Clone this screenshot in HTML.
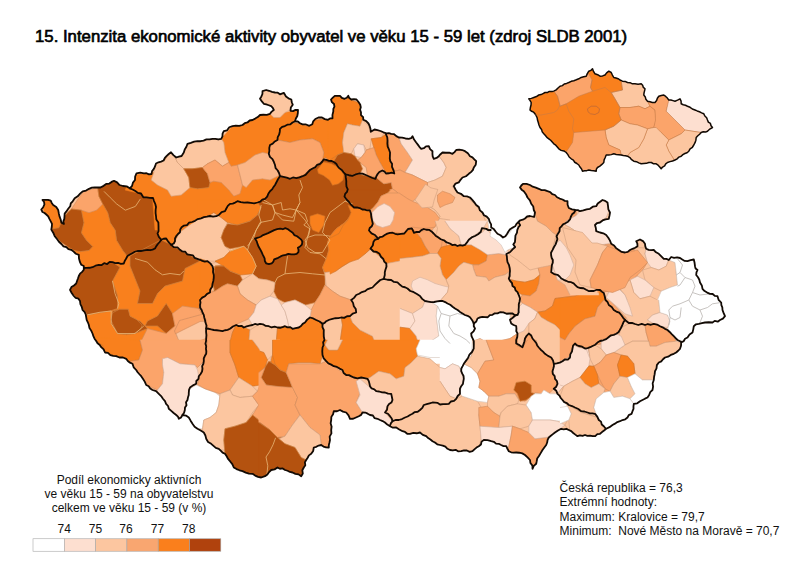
<!DOCTYPE html>
<html><head><meta charset="utf-8">
<style>
html,body{margin:0;padding:0;background:#fff;}
body{width:800px;height:566px;position:relative;overflow:hidden;font-family:"Liberation Sans",sans-serif;color:#000;}
#title{position:absolute;left:35px;top:27.7px;font-size:16.75px;white-space:nowrap;line-height:18px;-webkit-text-stroke:0.65px #000;}
#leg{position:absolute;left:2px;top:472.7px;width:254px;text-align:center;font-size:12px;line-height:14.25px;color:#111;}
#nums{position:absolute;top:522px;left:0;font-size:12px;color:#111;}
#nums span{position:absolute;top:0;width:30px;text-align:center;}
#info{position:absolute;left:559.6px;top:480.8px;font-size:12px;line-height:14.4px;white-space:pre;color:#111;}
svg{position:absolute;left:0;top:0;}
</style></head><body>
<div id="title">15. Intenzita ekonomické aktivity obyvatel ve věku 15 - 59 let (zdroj SLDB 2001)</div>
<svg id="map" width="800" height="566" viewBox="0 0 800 566">
<defs><clipPath id="cz"><path d="M42.5,200 L45.26,199.92 L48.02,199.84 L50.7,200.7 L51.72,202.99 L53.2,205 L56.24,206.96 L58.2,210 L58.79,213.21 L59.5,216.4 L60.68,219.48 L61.4,222.7 L63.9,223.9 L63.31,221.34 L64.31,218.9 L64.5,216.4 L64.67,213.6 L66.4,211.4 L68.2,208.78 L70.2,206.3 L70.76,203.45 L72.7,201.3 L74.68,198.28 L77.7,196.3 L80.1,193.7 L82.7,191.3 L86.07,190.6 L89,188.8 L91.83,187.7 L94.79,187.44 L97.8,187.5 L100.5,187.5 L103.62,185.85 L106.5,183.8 L109.3,183.55 L111.55,181.93 L114,180.8 L117.09,182.37 L119.57,185.01 L123,186 L126.66,186.38 L129.8,188.3 L132.08,185.88 L132.95,182.57 L135,180 L135.13,176.51 L136.5,173.3 L140.25,172.61 L144,173.3 L146.53,173.19 L148.95,174.33 L151.5,174 L152.1,171.15 L153.89,168.81 L155.1,166.22 L156,163.5 L158.45,162.29 L161.1,161.58 L163.6,160.5 L164.87,157.92 L166.71,155.87 L168.76,154 L171,152.3 L173.42,155.13 L176.3,157.5 L178.91,156.62 L181.6,156 L183.8,152.5 L184.73,149.47 L186.41,146.76 L187.5,143.8 L190.81,142.85 L194.08,141.72 L197.5,141.2 L200.58,141.24 L203.56,140.59 L206.43,139.31 L209.52,139.41 L212.5,138.8 L215.4,138.85 L218.3,139.48 L221.2,138.8 L222.46,136.4 L222.57,133.61 L223.8,131.2 L227.13,130.28 L229.26,127.27 L232.5,126.2 L235.82,125.65 L239.22,125.86 L242.5,125 L244.72,123.19 L247.49,122.48 L249.63,120.51 L252.5,120 L255.17,118.59 L257.76,117.06 L260,115 L263.35,114.73 L266.75,114.87 L270,113.8 L271.66,111.66 L273.8,110 L272.79,107.9 L271.2,106.2 L268.79,105.24 L266.31,104.46 L263.8,103.8 L261.84,101.35 L260,98.8 L261.41,96.46 L262.43,93.98 L262.5,91.2 L266.2,90 L269.15,90.79 L271.99,91.95 L275,92.5 L277.77,92.66 L280,94.3 L283.8,92.8 L286,96.5 L288.47,98.32 L291.3,99.5 L291.8,102.22 L292.8,104.8 L290.82,107.48 L290.5,110.8 L293.06,111.11 L295.46,109.88 L298,110 L297.85,113.02 L297.3,116 L295.87,118.53 L295,121.3 L297.82,121.5 L300.03,123.24 L302.5,124.3 L306.03,124.47 L309.3,125.8 L312.3,124.3 L313.2,121.31 L315.3,119 L318.48,117.48 L322,117.5 L324.83,119.1 L328,119.8 L330.04,118.42 L332.5,118.3 L332.45,114.85 L333.3,111.5 L333.34,108.98 L334.43,106.56 L334,104 L331.87,102.17 L331,99.5 L332.84,97.58 L334.8,95.8 L337.4,95.89 L340,95.8 L341.87,97.87 L344.5,98.8 L346.76,97.75 L348.3,95.8 L349.29,98.06 L351.3,99.5 L353.9,99.1 L356.5,99.5 L358.52,102.06 L360.3,104.8 L360.79,107.28 L360.08,109.86 L361,112.3 L360.98,115.04 L363.13,117.12 L363.3,119.8 L366.24,121.18 L368.5,123.5 L369.73,126.14 L370.5,128.91 L370.8,131.8 L374.5,129.5 L377.51,130.22 L380.5,131 L383.44,132.3 L386.5,133.3 L388.9,133.13 L391.2,133.8 L394.12,134.23 L396.33,136.14 L398.8,137.5 L402.16,137.7 L405.45,138.49 L408.8,138.8 L411.12,138.17 L412.5,136.2 L414.05,139.52 L416.2,142.5 L417.84,144.62 L419.37,146.83 L421.2,148.8 L423.84,148.23 L426.01,146.31 L428.8,146.2 L430.07,149.13 L432.5,151.2 L432.44,153.82 L432.7,156.38 L433.8,158.8 L436.55,157.98 L438.8,156.2 L440.51,154.21 L442.5,152.5 L445.86,152.75 L449.26,152.66 L452.5,153.8 L454.52,152.07 L456.2,150 L459.24,149.62 L462.17,150.03 L465,151.2 L467.87,153.33 L470,156.2 L472.45,157.39 L474.31,159.31 L476.2,161.2 L475.75,164.64 L473.8,167.5 L472.84,170.16 L470.96,172.09 L468.8,173.8 L466.01,176.27 L462.5,177.5 L460.5,179.85 L458.75,182.45 L455.5,183.55 L453.8,186.2 L455.47,189.45 L457.5,192.5 L460.97,193.8 L463.8,196.2 L466.99,196.41 L470,197.5 L472.28,199.82 L474.32,202.34 L476.2,205 L478.82,207.06 L479.92,210.4 L482.5,212.5 L483.97,215.23 L486.74,216.66 L488.8,218.8 L489.63,221.69 L491.12,224.4 L491.2,227.5 L493.81,229.09 L495.6,231.5 L497.5,233.8 L500.49,235.3 L503,237.5 L505.39,236.2 L507,234 L508.44,231.46 L510.16,229.16 L512.7,227.6 L515.14,226.31 L516.47,223.9 L518.3,222 L520.24,220.27 L522.8,219.74 L525,218.5 L527.12,216.49 L530,216 L534,217 L534.55,214.76 L535,212.5 L533.8,210 L533.29,206.57 L531.2,203.8 L529.91,200.32 L527.5,197.5 L525.95,194.17 L523.8,191.2 L521.6,189.66 L520,187.5 L521.31,185.5 L523,183.8 L526.6,183.81 L530,185 L532.74,186.72 L535.84,187.59 L538.8,188.8 L541.57,190.08 L544.68,190.1 L547.5,191.2 L550.23,192.02 L552.25,194.23 L555,195 L557.05,197.25 L559.67,198.54 L562.5,199.5 L564.82,200.87 L567.5,201.2 L567.59,204.71 L568.8,208 L572.03,209.41 L575.5,210 L577.88,210.12 L580,211.2 L583.34,210.43 L586.61,209.35 L590,208.8 L592.77,206.72 L596.2,206.2 L597.7,203.53 L600.12,201.78 L602.5,200 L605.19,200.86 L607.5,202.5 L608,205.92 L608.37,209.37 L610,212.5 L609.49,215.67 L608.8,218.8 L605.56,219.31 L602.59,220.46 L600,222.5 L597.13,223.02 L595,225 L595.84,228.05 L596.2,231.2 L600,232.5 L603.29,233.28 L606.2,235 L608.29,237.69 L610.01,240.6 L611.2,243.8 L614.07,245.45 L616.13,248.11 L618.8,250 L621.63,251.92 L625,252.5 L627.77,251.82 L629.98,250 L632.5,248.8 L635.13,247.74 L637.5,246.2 L637.37,243.56 L636.2,241.2 L640,239.5 L642.99,241.08 L645,243.8 L645.32,246.37 L646.2,248.8 L648.62,249.93 L651.19,250.1 L653.8,250 L656.03,252.26 L658.8,253.8 L661.33,256.27 L663.8,258.8 L666.44,258.84 L668.8,260 L671.2,257 L674.07,257.85 L677.1,257.37 L680,258 L682.29,259.56 L684.67,260.91 L687.5,261.2 L690.6,260.17 L693.8,259.5 L694.57,262.82 L695,266.2 L695.58,268.54 L697.5,270 L696.46,272.4 L696.2,275 L698,277.23 L699.33,279.7 L700,282.5 L701.83,285.42 L702.5,288.8 L704.6,291.07 L707.19,292.59 L710,293.8 L712.69,293.99 L714.82,295.96 L717.5,296.2 L718.6,299.79 L721.2,302.5 L721.35,305.05 L722.33,307.45 L722.5,310 L723.67,313.13 L725,316.2 L722.9,318.63 L720,320 L717.78,321.66 L714.73,320.86 L712.5,322.5 L708.75,322.23 L705,322.5 L701.89,323.1 L698.8,323.8 L695.96,324.3 L693.8,326.2 L693.27,329.37 L692.5,332.5 L689.53,334.53 L687.5,337.5 L685.04,338.71 L683.62,341.24 L681.2,342.5 L681.04,345.73 L680,348.8 L678.17,350.76 L676.16,352.5 L673.8,353.8 L670.81,354.89 L668.1,356.67 L665,357.5 L663.02,359.28 L661.28,361.35 L658.8,362.5 L656.86,365.1 L656.51,368.41 L655,371.2 L654.67,374.14 L654.05,377.05 L653.8,380 L652.65,383.24 L653.08,386.69 L652.5,390 L650.21,392.08 L649.16,395 L647.5,397.5 L644.97,398.68 L642.48,399.93 L640,401.2 L637.24,403.3 L633.8,403.8 L633.47,406.29 L633.5,408.83 L632.5,411.2 L631.53,413.86 L628.74,415.07 L627.5,417.5 L625.26,419.26 L622.52,420.01 L620,421.2 L617.32,422.11 L614.95,423.64 L612.5,425 L609.51,427.17 L606.2,428.8 L604.11,430.44 L602,432.06 L600,433.8 L597.34,434.11 L595.22,436.08 L592.5,436.2 L590.02,435.69 L587.43,435.85 L585,435 L582.56,435.8 L579.92,435.32 L577.5,436.2 L575.33,434.64 L573.21,433.01 L571.25,431.17 L568.8,430 L566.38,428.87 L563.72,429.3 L561.2,428.8 L558,430.48 L555,432.5 L552.93,434.16 L550.85,435.82 L548.8,437.5 L547.61,439.89 L547.15,442.53 L546.2,445 L544.3,447.46 L542.5,450 L540.68,453.12 L538.8,456.2 L537.18,458.48 L536.73,461.15 L536.2,463.8 L533.81,465.9 L532.5,468.8 L532.43,465.65 L530.42,463.05 L530,460 L527.58,457.42 L525,455 L522.28,453.4 L519.3,452.74 L516.2,452.5 L513.62,452.71 L511.15,452.3 L508.8,451.2 L507.41,448.75 L506.2,446.2 L503.5,446.13 L501.12,445.04 L498.8,443.8 L496.02,443.66 L493.83,441.78 L491.2,441.2 L487.58,440.1 L483.8,440 L481.58,441.62 L480.95,444.52 L478.8,446.2 L476.46,447.56 L474.42,449.31 L472.5,451.2 L469.68,451.84 L466.85,450.51 L464.02,450.36 L461.2,451.2 L458.35,451.4 L455.69,449.79 L452.78,450.48 L450,450 L447.49,448.77 L445.39,446.71 L442.77,445.71 L440,445 L437.22,444.28 L434.94,442.58 L432.5,441.2 L430.42,439.51 L428.12,438.09 L426.2,436.2 L422.82,434.82 L420,432.5 L416.71,433.26 L413.28,432.97 L410,433.8 L407.22,433.75 L405.03,431.97 L402.5,431.2 L399.3,429.44 L396.2,427.5 L392.92,427.7 L390,426.2 L387.32,424.59 L385,422.5 L382.6,421.07 L380.01,420.01 L377.5,418.8 L374.65,418.23 L372.89,415.49 L370,415 L367.66,413.67 L365.27,412.53 L362.5,412.5 L361.15,414.85 L358.8,416.2 L355.99,417.47 L353.17,418.73 L350,418.8 L348.53,415.39 L346.2,412.5 L342.95,411.63 L340,410 L337.03,411.25 L333.8,411.2 L333.07,414.17 L331.36,416.86 L331.2,420 L330.63,423.33 L331.63,426.67 L331.2,430 L331.43,433.41 L329.65,436.58 L330,440 L329.47,442.48 L328.84,444.94 L328.8,447.5 L326.04,447.37 L323.48,446.59 L321.2,445 L318.62,445.51 L316.31,446.79 L313.8,447.5 L313.21,450.94 L311.2,453.8 L308.92,455.37 L307.68,457.78 L306.2,460 L304.88,462.33 L305.31,465.23 L303.8,467.5 L302.32,470.22 L302.81,473.52 L301.2,476.2 L298.56,474.37 L295.37,473.81 L292.5,472.5 L289.91,471.94 L287.53,470.74 L285,470 L282.74,468.44 L279.87,468.73 L277.5,467.5 L274.6,469.37 L271.2,470 L269.1,472.03 L267.4,474.47 L265,476.2 L261.2,477.5 L258.02,476.91 L255.16,475.59 L252.5,473.8 L248.96,473.72 L245.7,472.59 L242.5,471.2 L239.47,470.28 L236.56,469.06 L233.8,467.5 L232.3,464.11 L230,461.2 L228.02,458.94 L226.67,456.27 L225,453.8 L222.57,452.58 L220.69,450.68 L218.8,448.8 L215.79,447.86 L213.49,445.84 L211.2,443.8 L208.08,441.92 L206.2,438.8 L205.39,435.5 L203.8,432.5 L200.7,430.57 L197.5,428.8 L194.6,426.7 L192.5,423.8 L190.61,420.67 L188.8,417.5 L185.94,415.52 L182.5,415 L181.16,417.39 L178.8,418.8 L177.97,416.58 L176.2,415 L173.65,413.03 L171.26,410.87 L168.8,408.8 L168.07,406 L166.09,403.82 L165,401.2 L162.94,398.73 L161.13,396.05 L158.8,393.8 L156.1,391.16 L152.5,390 L150.22,388.56 L148.67,386.2 L146.2,385 L144.86,381.88 L143.08,379.01 L141.2,376.2 L139.4,374.24 L137.65,372.24 L136.2,370 L133.66,367.31 L132.5,363.8 L129.99,362.66 L127.82,361.07 L126.2,358.8 L122.98,357.51 L119.42,357.49 L116.2,356.2 L113.21,355.85 L110.37,355.06 L107.99,352.84 L105,352.5 L103.64,349.46 L101.2,347.2 L99.77,344.94 L97.56,343.31 L96.2,341 L94.55,338.71 L93.4,336.16 L92.5,333.5 L91.2,330.63 L89.47,327.94 L88.8,324.8 L87.84,322.3 L86.66,319.87 L86.2,317.2 L85.71,314.36 L84.49,311.89 L82.5,309.8 L81.75,306.84 L80.39,304.06 L80,301 L78.46,298.68 L75.65,297.93 L73.8,296 L71.68,293.03 L70,289.8 L71.43,287.07 L73.98,285.45 L76.2,283.5 L77.02,280.99 L77.94,278.5 L78.8,276 L80.05,273.6 L82.14,271.87 L83.8,269.8 L83.8,266 L81.27,264.73 L80,262.2 L78.98,258.57 L78.8,254.8 L75.86,253.75 L73.63,251.62 L71.2,249.8 L68.4,249.17 L66.4,247.1 L63.45,246.28 L61.4,244 L58.94,241.73 L57,239 L54.69,236.1 L53.2,232.7 L51.3,229.6 L51.8,226.77 L52,223.9 L50.75,221.38 L49.4,218.9 L48.22,216.44 L46.3,214.5 L44.56,213.01 L42.5,212 L41.3,209.5 L43.18,207.2 L44.4,204.5 L44.08,201.98Z"/></clipPath><clipPath id="ci"><path d="M531.2,102.5 L530.1,100.58 L528.8,98.8 L531.36,98.38 L533.8,97.5 L536.43,96.51 L538.8,95 L541.03,94.58 L543.02,93.56 L545,92.5 L547.26,92.59 L549.33,91.38 L551.59,91.49 L553.8,91.2 L556.14,89.88 L558.03,87.98 L560,86.2 L562.36,85.64 L564.25,83.99 L566.59,83.4 L568.8,82.5 L571.21,81.34 L573.82,80.69 L576.33,79.79 L578.8,78.8 L581.11,77.47 L583.64,76.8 L586.2,76.2 L587.3,73.6 L588.8,71.2 L590.88,70.35 L592.5,68.8 L593.51,71.42 L595,73.8 L597.65,74.69 L600,76.2 L602.57,75.89 L605,75 L606.64,72.84 L608.8,71.2 L611.2,72.5 L612.4,75.05 L613.8,77.5 L616.01,77.99 L618.12,78.7 L620,80 L622.38,81.19 L625.09,81.39 L627.5,82.5 L630.05,82.65 L632.42,83.84 L635,83.8 L638.1,84.17 L641.2,83.8 L642.63,85.34 L643.37,87.41 L645,88.8 L644.56,90.86 L644.03,92.9 L643.8,95 L645.29,96.92 L645.89,99.36 L647.5,101.2 L649.97,101.82 L652.42,102.53 L655,102.5 L656.6,100.6 L657.36,98.2 L658.8,96.2 L661.27,95.47 L663.8,95 L665.7,96.43 L667.38,98.08 L668.8,100 L670.95,99.97 L672.97,100.6 L675,101.2 L677.54,100.09 L680,98.8 L681.08,101.18 L681.2,103.8 L683.24,104.77 L685.46,105.25 L687.5,106.2 L690.09,107.3 L692.36,109.02 L695,110 L697.21,110.93 L699.47,111.73 L701.61,112.83 L703.8,113.8 L704.86,115.97 L706.65,117.71 L707.5,120 L708.35,122.14 L710.4,123.49 L711.04,125.76 L712.5,127.5 L709.79,129.07 L707.5,131.2 L705.5,132.11 L703.24,131.78 L701.2,132.5 L699.63,134.26 L697.81,135.78 L696.2,137.5 L695.87,140.15 L695.03,142.64 L693.8,145 L692.38,147.27 L690.11,148.85 L688.8,151.2 L687.07,152.7 L684.86,153.49 L682.86,154.59 L681.2,156.2 L678.9,157.09 L677.15,158.87 L675,160 L672.55,160.97 L669.99,161.64 L667.5,162.5 L665.73,163.88 L664.63,165.93 L662.6,167.05 L661.2,168.8 L659.74,166.92 L658.12,165.21 L656.2,163.8 L653.65,163.82 L651.34,162.49 L648.8,162.5 L646.34,163.34 L643.76,163.52 L641.2,163.8 L638.77,162.83 L636.41,161.67 L633.8,161.2 L631.6,159.66 L629.86,157.53 L627.5,156.2 L625.41,155.76 L623.26,155.58 L621.2,155 L618.7,154.78 L616.22,154.52 L613.8,153.8 L611.33,154.62 L608.79,154.95 L606.2,155 L605.22,157.44 L604.13,159.85 L603.8,162.5 L601.91,164.43 L599.88,166.19 L597.5,167.5 L596.39,169.19 L596.2,171.2 L593.74,170.77 L591.25,170.49 L588.8,170 L586.75,170.66 L584.58,170.71 L582.5,171.2 L581.55,168.97 L580,167.09 L578.8,165 L576.85,163.51 L574.72,162.24 L573.36,160.03 L571.2,158.8 L569.17,156.99 L567.86,154.6 L566.2,152.5 L563.88,150.96 L561.1,150.36 L558.8,148.8 L557.3,146.97 L555.78,145.15 L553.8,143.8 L552.23,142.04 L550.67,140.26 L548.8,138.8 L546.86,137.41 L545.42,135.51 L543.8,133.8 L542.23,131.88 L541.56,129.42 L540,127.5 L538.97,125.06 L538.29,122.51 L537.5,120 L537.13,117.75 L536.16,115.73 L535,113.8 L533.62,112.15 L531.64,111.3 L530,110 L530.39,107.5 L531.03,105.04Z"/></clipPath></defs>
<g clip-path="url(#cz)">
<path d="M42.5,200 L45.26,199.92 L48.02,199.84 L50.7,200.7 L51.72,202.99 L53.2,205 L56.24,206.96 L58.2,210 L58.79,213.21 L59.5,216.4 L60.68,219.48 L61.4,222.7 L63.9,223.9 L63.31,221.34 L64.31,218.9 L64.5,216.4 L64.67,213.6 L66.4,211.4 L68.2,208.78 L70.2,206.3 L70.76,203.45 L72.7,201.3 L74.68,198.28 L77.7,196.3 L80.1,193.7 L82.7,191.3 L86.07,190.6 L89,188.8 L91.83,187.7 L94.79,187.44 L97.8,187.5 L100.5,187.5 L103.62,185.85 L106.5,183.8 L109.3,183.55 L111.55,181.93 L114,180.8 L117.09,182.37 L119.57,185.01 L123,186 L126.66,186.38 L129.8,188.3 L132.08,185.88 L132.95,182.57 L135,180 L135.13,176.51 L136.5,173.3 L140.25,172.61 L144,173.3 L146.53,173.19 L148.95,174.33 L151.5,174 L152.1,171.15 L153.89,168.81 L155.1,166.22 L156,163.5 L158.45,162.29 L161.1,161.58 L163.6,160.5 L164.87,157.92 L166.71,155.87 L168.76,154 L171,152.3 L173.42,155.13 L176.3,157.5 L178.91,156.62 L181.6,156 L183.8,152.5 L184.73,149.47 L186.41,146.76 L187.5,143.8 L190.81,142.85 L194.08,141.72 L197.5,141.2 L200.58,141.24 L203.56,140.59 L206.43,139.31 L209.52,139.41 L212.5,138.8 L215.4,138.85 L218.3,139.48 L221.2,138.8 L222.46,136.4 L222.57,133.61 L223.8,131.2 L227.13,130.28 L229.26,127.27 L232.5,126.2 L235.82,125.65 L239.22,125.86 L242.5,125 L244.72,123.19 L247.49,122.48 L249.63,120.51 L252.5,120 L255.17,118.59 L257.76,117.06 L260,115 L263.35,114.73 L266.75,114.87 L270,113.8 L271.66,111.66 L273.8,110 L272.79,107.9 L271.2,106.2 L268.79,105.24 L266.31,104.46 L263.8,103.8 L261.84,101.35 L260,98.8 L261.41,96.46 L262.43,93.98 L262.5,91.2 L266.2,90 L269.15,90.79 L271.99,91.95 L275,92.5 L277.77,92.66 L280,94.3 L283.8,92.8 L286,96.5 L288.47,98.32 L291.3,99.5 L291.8,102.22 L292.8,104.8 L290.82,107.48 L290.5,110.8 L293.06,111.11 L295.46,109.88 L298,110 L297.85,113.02 L297.3,116 L295.87,118.53 L295,121.3 L297.82,121.5 L300.03,123.24 L302.5,124.3 L306.03,124.47 L309.3,125.8 L312.3,124.3 L313.2,121.31 L315.3,119 L318.48,117.48 L322,117.5 L324.83,119.1 L328,119.8 L330.04,118.42 L332.5,118.3 L332.45,114.85 L333.3,111.5 L333.34,108.98 L334.43,106.56 L334,104 L331.87,102.17 L331,99.5 L332.84,97.58 L334.8,95.8 L337.4,95.89 L340,95.8 L341.87,97.87 L344.5,98.8 L346.76,97.75 L348.3,95.8 L349.29,98.06 L351.3,99.5 L353.9,99.1 L356.5,99.5 L358.52,102.06 L360.3,104.8 L360.79,107.28 L360.08,109.86 L361,112.3 L360.98,115.04 L363.13,117.12 L363.3,119.8 L366.24,121.18 L368.5,123.5 L369.73,126.14 L370.5,128.91 L370.8,131.8 L374.5,129.5 L377.51,130.22 L380.5,131 L383.44,132.3 L386.5,133.3 L388.9,133.13 L391.2,133.8 L394.12,134.23 L396.33,136.14 L398.8,137.5 L402.16,137.7 L405.45,138.49 L408.8,138.8 L411.12,138.17 L412.5,136.2 L414.05,139.52 L416.2,142.5 L417.84,144.62 L419.37,146.83 L421.2,148.8 L423.84,148.23 L426.01,146.31 L428.8,146.2 L430.07,149.13 L432.5,151.2 L432.44,153.82 L432.7,156.38 L433.8,158.8 L436.55,157.98 L438.8,156.2 L440.51,154.21 L442.5,152.5 L445.86,152.75 L449.26,152.66 L452.5,153.8 L454.52,152.07 L456.2,150 L459.24,149.62 L462.17,150.03 L465,151.2 L467.87,153.33 L470,156.2 L472.45,157.39 L474.31,159.31 L476.2,161.2 L475.75,164.64 L473.8,167.5 L472.84,170.16 L470.96,172.09 L468.8,173.8 L466.01,176.27 L462.5,177.5 L460.5,179.85 L458.75,182.45 L455.5,183.55 L453.8,186.2 L455.47,189.45 L457.5,192.5 L460.97,193.8 L463.8,196.2 L466.99,196.41 L470,197.5 L472.28,199.82 L474.32,202.34 L476.2,205 L478.82,207.06 L479.92,210.4 L482.5,212.5 L483.97,215.23 L486.74,216.66 L488.8,218.8 L489.63,221.69 L491.12,224.4 L491.2,227.5 L493.81,229.09 L495.6,231.5 L497.5,233.8 L500.49,235.3 L503,237.5 L505.39,236.2 L507,234 L508.44,231.46 L510.16,229.16 L512.7,227.6 L515.14,226.31 L516.47,223.9 L518.3,222 L520.24,220.27 L522.8,219.74 L525,218.5 L527.12,216.49 L530,216 L534,217 L534.55,214.76 L535,212.5 L533.8,210 L533.29,206.57 L531.2,203.8 L529.91,200.32 L527.5,197.5 L525.95,194.17 L523.8,191.2 L521.6,189.66 L520,187.5 L521.31,185.5 L523,183.8 L526.6,183.81 L530,185 L532.74,186.72 L535.84,187.59 L538.8,188.8 L541.57,190.08 L544.68,190.1 L547.5,191.2 L550.23,192.02 L552.25,194.23 L555,195 L557.05,197.25 L559.67,198.54 L562.5,199.5 L564.82,200.87 L567.5,201.2 L567.59,204.71 L568.8,208 L572.03,209.41 L575.5,210 L577.88,210.12 L580,211.2 L583.34,210.43 L586.61,209.35 L590,208.8 L592.77,206.72 L596.2,206.2 L597.7,203.53 L600.12,201.78 L602.5,200 L605.19,200.86 L607.5,202.5 L608,205.92 L608.37,209.37 L610,212.5 L609.49,215.67 L608.8,218.8 L605.56,219.31 L602.59,220.46 L600,222.5 L597.13,223.02 L595,225 L595.84,228.05 L596.2,231.2 L600,232.5 L603.29,233.28 L606.2,235 L608.29,237.69 L610.01,240.6 L611.2,243.8 L614.07,245.45 L616.13,248.11 L618.8,250 L621.63,251.92 L625,252.5 L627.77,251.82 L629.98,250 L632.5,248.8 L635.13,247.74 L637.5,246.2 L637.37,243.56 L636.2,241.2 L640,239.5 L642.99,241.08 L645,243.8 L645.32,246.37 L646.2,248.8 L648.62,249.93 L651.19,250.1 L653.8,250 L656.03,252.26 L658.8,253.8 L661.33,256.27 L663.8,258.8 L666.44,258.84 L668.8,260 L671.2,257 L674.07,257.85 L677.1,257.37 L680,258 L682.29,259.56 L684.67,260.91 L687.5,261.2 L690.6,260.17 L693.8,259.5 L694.57,262.82 L695,266.2 L695.58,268.54 L697.5,270 L696.46,272.4 L696.2,275 L698,277.23 L699.33,279.7 L700,282.5 L701.83,285.42 L702.5,288.8 L704.6,291.07 L707.19,292.59 L710,293.8 L712.69,293.99 L714.82,295.96 L717.5,296.2 L718.6,299.79 L721.2,302.5 L721.35,305.05 L722.33,307.45 L722.5,310 L723.67,313.13 L725,316.2 L722.9,318.63 L720,320 L717.78,321.66 L714.73,320.86 L712.5,322.5 L708.75,322.23 L705,322.5 L701.89,323.1 L698.8,323.8 L695.96,324.3 L693.8,326.2 L693.27,329.37 L692.5,332.5 L689.53,334.53 L687.5,337.5 L685.04,338.71 L683.62,341.24 L681.2,342.5 L681.04,345.73 L680,348.8 L678.17,350.76 L676.16,352.5 L673.8,353.8 L670.81,354.89 L668.1,356.67 L665,357.5 L663.02,359.28 L661.28,361.35 L658.8,362.5 L656.86,365.1 L656.51,368.41 L655,371.2 L654.67,374.14 L654.05,377.05 L653.8,380 L652.65,383.24 L653.08,386.69 L652.5,390 L650.21,392.08 L649.16,395 L647.5,397.5 L644.97,398.68 L642.48,399.93 L640,401.2 L637.24,403.3 L633.8,403.8 L633.47,406.29 L633.5,408.83 L632.5,411.2 L631.53,413.86 L628.74,415.07 L627.5,417.5 L625.26,419.26 L622.52,420.01 L620,421.2 L617.32,422.11 L614.95,423.64 L612.5,425 L609.51,427.17 L606.2,428.8 L604.11,430.44 L602,432.06 L600,433.8 L597.34,434.11 L595.22,436.08 L592.5,436.2 L590.02,435.69 L587.43,435.85 L585,435 L582.56,435.8 L579.92,435.32 L577.5,436.2 L575.33,434.64 L573.21,433.01 L571.25,431.17 L568.8,430 L566.38,428.87 L563.72,429.3 L561.2,428.8 L558,430.48 L555,432.5 L552.93,434.16 L550.85,435.82 L548.8,437.5 L547.61,439.89 L547.15,442.53 L546.2,445 L544.3,447.46 L542.5,450 L540.68,453.12 L538.8,456.2 L537.18,458.48 L536.73,461.15 L536.2,463.8 L533.81,465.9 L532.5,468.8 L532.43,465.65 L530.42,463.05 L530,460 L527.58,457.42 L525,455 L522.28,453.4 L519.3,452.74 L516.2,452.5 L513.62,452.71 L511.15,452.3 L508.8,451.2 L507.41,448.75 L506.2,446.2 L503.5,446.13 L501.12,445.04 L498.8,443.8 L496.02,443.66 L493.83,441.78 L491.2,441.2 L487.58,440.1 L483.8,440 L481.58,441.62 L480.95,444.52 L478.8,446.2 L476.46,447.56 L474.42,449.31 L472.5,451.2 L469.68,451.84 L466.85,450.51 L464.02,450.36 L461.2,451.2 L458.35,451.4 L455.69,449.79 L452.78,450.48 L450,450 L447.49,448.77 L445.39,446.71 L442.77,445.71 L440,445 L437.22,444.28 L434.94,442.58 L432.5,441.2 L430.42,439.51 L428.12,438.09 L426.2,436.2 L422.82,434.82 L420,432.5 L416.71,433.26 L413.28,432.97 L410,433.8 L407.22,433.75 L405.03,431.97 L402.5,431.2 L399.3,429.44 L396.2,427.5 L392.92,427.7 L390,426.2 L387.32,424.59 L385,422.5 L382.6,421.07 L380.01,420.01 L377.5,418.8 L374.65,418.23 L372.89,415.49 L370,415 L367.66,413.67 L365.27,412.53 L362.5,412.5 L361.15,414.85 L358.8,416.2 L355.99,417.47 L353.17,418.73 L350,418.8 L348.53,415.39 L346.2,412.5 L342.95,411.63 L340,410 L337.03,411.25 L333.8,411.2 L333.07,414.17 L331.36,416.86 L331.2,420 L330.63,423.33 L331.63,426.67 L331.2,430 L331.43,433.41 L329.65,436.58 L330,440 L329.47,442.48 L328.84,444.94 L328.8,447.5 L326.04,447.37 L323.48,446.59 L321.2,445 L318.62,445.51 L316.31,446.79 L313.8,447.5 L313.21,450.94 L311.2,453.8 L308.92,455.37 L307.68,457.78 L306.2,460 L304.88,462.33 L305.31,465.23 L303.8,467.5 L302.32,470.22 L302.81,473.52 L301.2,476.2 L298.56,474.37 L295.37,473.81 L292.5,472.5 L289.91,471.94 L287.53,470.74 L285,470 L282.74,468.44 L279.87,468.73 L277.5,467.5 L274.6,469.37 L271.2,470 L269.1,472.03 L267.4,474.47 L265,476.2 L261.2,477.5 L258.02,476.91 L255.16,475.59 L252.5,473.8 L248.96,473.72 L245.7,472.59 L242.5,471.2 L239.47,470.28 L236.56,469.06 L233.8,467.5 L232.3,464.11 L230,461.2 L228.02,458.94 L226.67,456.27 L225,453.8 L222.57,452.58 L220.69,450.68 L218.8,448.8 L215.79,447.86 L213.49,445.84 L211.2,443.8 L208.08,441.92 L206.2,438.8 L205.39,435.5 L203.8,432.5 L200.7,430.57 L197.5,428.8 L194.6,426.7 L192.5,423.8 L190.61,420.67 L188.8,417.5 L185.94,415.52 L182.5,415 L181.16,417.39 L178.8,418.8 L177.97,416.58 L176.2,415 L173.65,413.03 L171.26,410.87 L168.8,408.8 L168.07,406 L166.09,403.82 L165,401.2 L162.94,398.73 L161.13,396.05 L158.8,393.8 L156.1,391.16 L152.5,390 L150.22,388.56 L148.67,386.2 L146.2,385 L144.86,381.88 L143.08,379.01 L141.2,376.2 L139.4,374.24 L137.65,372.24 L136.2,370 L133.66,367.31 L132.5,363.8 L129.99,362.66 L127.82,361.07 L126.2,358.8 L122.98,357.51 L119.42,357.49 L116.2,356.2 L113.21,355.85 L110.37,355.06 L107.99,352.84 L105,352.5 L103.64,349.46 L101.2,347.2 L99.77,344.94 L97.56,343.31 L96.2,341 L94.55,338.71 L93.4,336.16 L92.5,333.5 L91.2,330.63 L89.47,327.94 L88.8,324.8 L87.84,322.3 L86.66,319.87 L86.2,317.2 L85.71,314.36 L84.49,311.89 L82.5,309.8 L81.75,306.84 L80.39,304.06 L80,301 L78.46,298.68 L75.65,297.93 L73.8,296 L71.68,293.03 L70,289.8 L71.43,287.07 L73.98,285.45 L76.2,283.5 L77.02,280.99 L77.94,278.5 L78.8,276 L80.05,273.6 L82.14,271.87 L83.8,269.8 L83.8,266 L81.27,264.73 L80,262.2 L78.98,258.57 L78.8,254.8 L75.86,253.75 L73.63,251.62 L71.2,249.8 L68.4,249.17 L66.4,247.1 L63.45,246.28 L61.4,244 L58.94,241.73 L57,239 L54.69,236.1 L53.2,232.7 L51.3,229.6 L51.8,226.77 L52,223.9 L50.75,221.38 L49.4,218.9 L48.22,216.44 L46.3,214.5 L44.56,213.01 L42.5,212 L41.3,209.5 L43.18,207.2 L44.4,204.5 L44.08,201.98Z" fill="#fcc6a0"/>
<path d="M40,197.7 L52.6,197.7 L65.1,225.3 L55.1,232.8 L45.1,215.2Z" fill="#f9801d" stroke="#f9801d" stroke-width="0.5"/>
<path d="M67.6,212.7 L115.3,177.6 L160.5,195.2 L165.5,237.8 L130.4,270.4 L80.2,270.4 L67.6,250.4Z" fill="#f9801d" stroke="#f9801d" stroke-width="0.5"/>
<path d="M71.4,209 L78.9,197.7 L83.9,191.4 L97.7,187.6 L99,196.4 L102.8,203.9 L96.5,210.2 L89,212.7 L81.4,210.2Z" fill="#fba46a" stroke="#fba46a" stroke-width="0.5"/>
<path d="M71.4,209 L78.9,197.7 L83.9,191.4 L97.7,187.6 L99,196.4 L102.8,203.9 L96.5,210.2 L89,212.7 L81.4,210.2 L71.4,209" fill="none" stroke="#8a6248" stroke-opacity="0.38" stroke-width="0.6"/>
<path d="M63.9,216.5 L71.4,209 L81.4,210.2 L83.9,222.8 L81.4,232.8 L86.4,240.3 L92.7,246.6 L89,250.4 L80.2,251.6 L73.9,250.4 L67.6,246.6 L60.1,241.6 L53.8,234 L51.3,229 L58.9,227.8Z" fill="#b4520f" stroke="#b4520f" stroke-width="0.5"/>
<path d="M63.9,216.5 L71.4,209 L81.4,210.2 L83.9,222.8 L81.4,232.8 L86.4,240.3 L92.7,246.6 L89,250.4 L80.2,251.6 L73.9,250.4 L67.6,246.6 L60.1,241.6 L53.8,234 L51.3,229 L58.9,227.8 L63.9,216.5" fill="none" stroke="#e8b87a" stroke-opacity="0.55" stroke-width="0.6"/>
<path d="M97.7,187.6 L106.5,183 L114,178.9 L123,185 L129.8,187.5 L141,193 L143.5,196.8 L153.5,197.5 L156,204 L156.7,216 L159,226 L158,233.5 L162,239.8 L155,249 L147.5,250.3 L137.5,251.5 L130.4,255.4 L126.6,255.4 L122.8,250.4 L116.6,240.3 L115.3,230.3 L110.3,222.8 L107.8,212.7 L102.8,203.9 L99,196.4Z" fill="#b4520f" stroke="#b4520f" stroke-width="0.5"/>
<path d="M97.7,187.6 L106.5,183 L114,178.9 L123,185 L129.8,187.5 L141,193 L143.5,196.8 L153.5,197.5 L156,204 L156.7,216 L159,226 L158,233.5 L162,239.8 L155,249 L147.5,250.3 L137.5,251.5 L130.4,255.4 L126.6,255.4 L122.8,250.4 L116.6,240.3 L115.3,230.3 L110.3,222.8 L107.8,212.7 L102.8,203.9 L99,196.4 L97.7,187.6" fill="none" stroke="#e8b87a" stroke-opacity="0.55" stroke-width="0.6"/>
<path d="M92.5,267.2 L123.8,263.5 L127.5,256 L137.5,251 L155,248.5 L161.2,239.8 L166.2,238.5 L171.2,244.8 L180,249.8 L200,259.8 L210,264.8 L213.8,271 L215,279.8 L211.2,289.8 L205,296 L200,301 L198.8,308.5 L202.5,314.8 L206.2,321 L207.5,328.5 L206.2,338.5 L206.2,351 L207.5,362 L110,362 L101.2,347.2 L92.5,333.5 L86.2,317.2 L80,301 L70,289.8 L76.2,283.5 L78.8,276 L83.8,269.8Z" fill="#f9801d" stroke="#f9801d" stroke-width="0.5"/>
<path d="M130,256 L161.2,239.8 L171.2,244.8 L200,261 L185,268.5 L182.5,281 L165,286 L157.5,293.5 L152.5,303.5 L137.5,303.5 L140,291 L135,278.5 L130,266Z" fill="#b4520f" stroke="#b4520f" stroke-width="0.5"/>
<path d="M130,256 L161.2,239.8 L171.2,244.8 L200,261 L185,268.5 L182.5,281 L165,286 L157.5,293.5 L152.5,303.5 L137.5,303.5 L140,291 L135,278.5 L130,266 L130,256" fill="none" stroke="#e8b87a" stroke-opacity="0.55" stroke-width="0.6"/>
<path d="M78.8,269.8 L112.5,262.2 L120,267.2 L112.5,281 L117.5,296 L117.5,308.5 L110,311 L87.5,314.8 L82.5,308.5 L80,301 L68.8,289.8 L76.2,278.5Z" fill="#b4520f" stroke="#b4520f" stroke-width="0.5"/>
<path d="M78.8,269.8 L112.5,262.2 L120,267.2 L112.5,281 L117.5,296 L117.5,308.5 L110,311 L87.5,314.8 L82.5,308.5 L80,301 L68.8,289.8 L76.2,278.5 L78.8,269.8" fill="none" stroke="#e8b87a" stroke-opacity="0.55" stroke-width="0.6"/>
<path d="M112.5,311 L117.5,309.8 L126.2,319.8 L140,321 L147.5,328.5 L135,333.5 L117.5,333.5 L111.2,323.5Z" fill="#b4520f" stroke="#b4520f" stroke-width="0.5"/>
<path d="M112.5,311 L117.5,309.8 L126.2,319.8 L140,321 L147.5,328.5 L135,333.5 L117.5,333.5 L111.2,323.5 L112.5,311" fill="none" stroke="#e8b87a" stroke-opacity="0.55" stroke-width="0.6"/>
<path d="M147.5,321 L157.5,316 L166.2,303.5 L172.5,313.5 L175,326 L166.2,333.5 L157.5,326 L145,326Z" fill="#b4520f" stroke="#b4520f" stroke-width="0.5"/>
<path d="M147.5,321 L157.5,316 L166.2,303.5 L172.5,313.5 L175,326 L166.2,333.5 L157.5,326 L145,326 L147.5,321" fill="none" stroke="#e8b87a" stroke-opacity="0.55" stroke-width="0.6"/>
<path d="M140,343.5 L147.5,328.5 L166.2,333.5 L175,326 L172.5,313.5 L182.5,306 L198.8,308.5 L202.5,314.8 L180,321 L175,331 L180,343.5 L185,346 L180,362 L137.5,362 L142.5,353.5Z" fill="#fba46a" stroke="#fba46a" stroke-width="0.5"/>
<path d="M140,343.5 L147.5,328.5 L166.2,333.5 L175,326 L172.5,313.5 L182.5,306 L198.8,308.5 L202.5,314.8 L180,321 L175,331 L180,343.5 L185,346 L180,362 M137.5,362 L142.5,353.5 L140,343.5" fill="none" stroke="#8a6248" stroke-opacity="0.38" stroke-width="0.6"/>
<path d="M175,331 L180,321 L202.5,314.8 L206.2,321 L207.5,328.5 L206.2,338.5 L206.2,351 L185,346 L180,343.5Z" fill="#fcc6a0" stroke="#fcc6a0" stroke-width="0.5"/>
<path d="M175,331 L180,321 L202.5,314.8 L206.2,321 L207.5,328.5 L206.2,338.5 L206.2,351 L185,346 L180,343.5 L175,331" fill="none" stroke="#8a6248" stroke-opacity="0.38" stroke-width="0.6"/>
<path d="M185,346 L206.2,338.5 L207.5,362 L180,362Z" fill="#fba46a" stroke="#fba46a" stroke-width="0.5"/>
<path d="M185,346 L206.2,338.5 L207.5,362 M180,362 L185,346" fill="none" stroke="#8a6248" stroke-opacity="0.38" stroke-width="0.6"/>
<path d="M166.2,358 L173.8,358 L175,362 L166.2,362Z" fill="#ffffff" stroke="#ffffff" stroke-width="0.5"/>
<path d="M166.2,358 L173.8,358 L175,362 M166.2,362 L166.2,358" fill="none" stroke="#8a6248" stroke-opacity="0.38" stroke-width="0.6"/>
<path d="M157.5,221 L195,221 L180,232.2 L173.8,243.5 L171.2,244.8 L166.2,238.5 L161.2,239.8 L157.5,233.5 L158.8,226Z" fill="#f9801d" stroke="#f9801d" stroke-width="0.5"/>
<path d="M195,221 L180,232.2 L173.8,243.5 L171.2,244.8 L166.2,238.5 L161.2,239.8 L157.5,233.5 L158.8,226 L157.5,221" fill="none" stroke="#8a6248" stroke-opacity="0.38" stroke-width="0.6"/>
<path d="M173.8,243.5 L180,232.2 L195,221 L230,221 L230,232.2 L222.5,233.5 L223.8,244.8 L230,246 L230,253.5 L220,261 L210,264 L190,254.8 L180,249.8 L171.2,244.8Z" fill="#fcc6a0" stroke="#fcc6a0" stroke-width="0.5"/>
<path d="M173.8,243.5 L180,232.2 L195,221 M230,232.2 L222.5,233.5 L223.8,244.8 L230,246 M230,253.5 L220,261 L210,264 L190,254.8 L180,249.8 L171.2,244.8 L173.8,243.5" fill="none" stroke="#8a6248" stroke-opacity="0.38" stroke-width="0.6"/>
<path d="M222.5,233.5 L230,232.2 L230,246 L223.8,244.8Z" fill="#b4520f" stroke="#b4520f" stroke-width="0.5"/>
<path d="M222.5,233.5 L230,232.2 M230,246 L223.8,244.8 L222.5,233.5" fill="none" stroke="#e8b87a" stroke-opacity="0.55" stroke-width="0.6"/>
<path d="M215,266 L230,264.8 L230,283.5 L220,286 L213.8,292.2 L215,279.8 L213.8,271Z" fill="#b4520f" stroke="#b4520f" stroke-width="0.5"/>
<path d="M215,266 L230,264.8 M230,283.5 L220,286 L213.8,292.2 L215,279.8 L213.8,271 L215,266" fill="none" stroke="#e8b87a" stroke-opacity="0.55" stroke-width="0.6"/>
<path d="M202.5,314.8 L198.8,308.5 L200,301 L211.2,289.8 L213.8,292.2 L220,286 L230,283.5 L230,329.8 L215,331 L207.5,328.5 L206.2,321Z" fill="#fba46a" stroke="#fba46a" stroke-width="0.5"/>
<path d="M202.5,314.8 L198.8,308.5 L200,301 L211.2,289.8 L213.8,292.2 L220,286 L230,283.5 M230,329.8 L215,331 L207.5,328.5 L206.2,321 L202.5,314.8" fill="none" stroke="#8a6248" stroke-opacity="0.38" stroke-width="0.6"/>
<path d="M207.5,328.5 L215,331 L230,331 L230,362 L207.5,362 L206.2,338.5Z" fill="#fba46a" stroke="#fba46a" stroke-width="0.5"/>
<path d="M207.5,328.5 L215,331 L230,331 M207.5,362 L206.2,338.5 L207.5,328.5" fill="none" stroke="#8a6248" stroke-opacity="0.38" stroke-width="0.6"/>
<path d="M125,190 L133.8,175 L153.8,172.5 L170,152.5 L187.5,143.8 L221.2,138.8 L232.5,126.2 L260,115 L273.8,110 L285,112.5 L300,110 L296.2,117.5 L292.5,122.5 L280,128.8 L277.5,140 L270,145 L268.8,153.8 L275,165 L280,175 L270,191.2 L265,198.8 L257.5,202.5 L237.5,201.2 L230,203.8 L225,211.2 L216.2,216.2 L205,216.2 L197.5,220 L180,230 L155,230 L152.5,197.5 L141.2,193.8 L130,191.2Z" fill="#f9801d" stroke="#f9801d" stroke-width="0.5"/>
<path d="M153.8,172.5 L156.2,162.5 L165,160 L170,152.5 L173.8,155 L177.5,162.5 L183.8,168.8 L188.8,177.5 L190,187.5 L181.2,195 L171.2,196.2 L167.5,190 L157.5,185 L151.2,180Z" fill="#fcc6a0" stroke="#fcc6a0" stroke-width="0.5"/>
<path d="M153.8,172.5 L156.2,162.5 L165,160 L170,152.5 L173.8,155 L177.5,162.5 L183.8,168.8 L188.8,177.5 L190,187.5 L181.2,195 L171.2,196.2 L167.5,190 L157.5,185 L151.2,180 L153.8,172.5" fill="none" stroke="#8a6248" stroke-opacity="0.38" stroke-width="0.6"/>
<path d="M173.8,155 L183.8,152.5 L187.5,143.8 L197.5,141.2 L212.5,138.8 L221.2,138.8 L223.8,142.5 L225,152.5 L228.8,162.5 L222.5,166.2 L215,160 L207.5,163.8 L202.5,167.5 L192.5,168.8 L183.8,168.8 L177.5,162.5Z" fill="#fcc6a0" stroke="#fcc6a0" stroke-width="0.5"/>
<path d="M173.8,155 L183.8,152.5 L187.5,143.8 L197.5,141.2 L212.5,138.8 L221.2,138.8 L223.8,142.5 L225,152.5 L228.8,162.5 L222.5,166.2 L215,160 L207.5,163.8 L202.5,167.5 L192.5,168.8 L183.8,168.8 L177.5,162.5 L173.8,155" fill="none" stroke="#8a6248" stroke-opacity="0.38" stroke-width="0.6"/>
<path d="M183.8,168.8 L192.5,168.8 L202.5,167.5 L207.5,173.8 L210,182.5 L208.8,187.5 L197.5,188.8 L190,187.5 L188.8,177.5Z" fill="#b4520f" stroke="#b4520f" stroke-width="0.5"/>
<path d="M183.8,168.8 L192.5,168.8 L202.5,167.5 L207.5,173.8 L210,182.5 L208.8,187.5 L197.5,188.8 L190,187.5 L188.8,177.5 L183.8,168.8" fill="none" stroke="#e8b87a" stroke-opacity="0.55" stroke-width="0.6"/>
<path d="M202.5,167.5 L207.5,163.8 L215,160 L222.5,166.2 L228.8,162.5 L231.2,166.2 L237.5,165 L240,175 L242.5,185 L240,193.8 L233.8,196.2 L228.8,190 L221.2,182.5 L213.8,181.2 L210,182.5 L207.5,173.8Z" fill="#fba46a" stroke="#fba46a" stroke-width="0.5"/>
<path d="M202.5,167.5 L207.5,163.8 L215,160 L222.5,166.2 L228.8,162.5 L231.2,166.2 L237.5,165 L240,175 L242.5,185 L240,193.8 L233.8,196.2 L228.8,190 L221.2,182.5 L213.8,181.2 L210,182.5 L207.5,173.8 L202.5,167.5" fill="none" stroke="#8a6248" stroke-opacity="0.38" stroke-width="0.6"/>
<path d="M237.5,165 L245,162.5 L255,155 L262.5,152.5 L268.8,153.8 L275,165 L280,175 L270,180 L262.5,178.8 L252.5,180 L246.2,187.5 L242.5,185 L240,175Z" fill="#fbb688" stroke="#fbb688" stroke-width="0.5"/>
<path d="M237.5,165 L245,162.5 L255,155 L262.5,152.5 L268.8,153.8 L275,165 L280,175 L270,180 L262.5,178.8 L252.5,180 L246.2,187.5 L242.5,185 L240,175 L237.5,165" fill="none" stroke="#8a6248" stroke-opacity="0.38" stroke-width="0.6"/>
<path d="M258.8,98.8 L262.5,90 L275,92.5 L282.5,90 L292.5,98.8 L293.8,105 L290,110 L285,112.5 L280,117.5 L273.8,117.5 L270,113.8 L273.8,110 L271.2,106.2 L263.8,103.8Z" fill="#fcc6a0" stroke="#fcc6a0" stroke-width="0.5"/>
<path d="M258.8,98.8 L262.5,90 L275,92.5 L282.5,90 L292.5,98.8 L293.8,105 L290,110 L285,112.5 L280,117.5 L273.8,117.5 L270,113.8 L273.8,110 L271.2,106.2 L263.8,103.8 L258.8,98.8" fill="none" stroke="#8a6248" stroke-opacity="0.38" stroke-width="0.6"/>
<path d="M280,128.8 L292.5,122.5 L300,123.8 L307.5,126.2 L315,120 L330,118.8 L337.5,117.5 L337.5,162.5 L330,160 L325,157.5 L322.5,160 L323.8,152.5 L320,142.5 L312.5,138.8 L300,140 L290,142.5 L277.5,140Z" fill="#f9801d" stroke="#f9801d" stroke-width="0.5"/>
<path d="M280,128.8 L292.5,122.5 L300,123.8 L307.5,126.2 L315,120 L330,118.8 M330,160 L325,157.5 L322.5,160 L323.8,152.5 L320,142.5 L312.5,138.8 L300,140 L290,142.5 L277.5,140 L280,128.8" fill="none" stroke="#8a6248" stroke-opacity="0.38" stroke-width="0.6"/>
<path d="M270,145 L277.5,140 L290,142.5 L300,140 L312.5,138.8 L320,142.5 L323.8,152.5 L322.5,160 L315,166.2 L307.5,171.2 L302.5,176.2 L290,178.8 L280,175 L275,165 L268.8,153.8Z" fill="#fba46a" stroke="#fba46a" stroke-width="0.5"/>
<path d="M270,145 L277.5,140 L290,142.5 L300,140 L312.5,138.8 L320,142.5 L323.8,152.5 L322.5,160 L315,166.2 L307.5,171.2 L302.5,176.2 L290,178.8 L280,175 L275,165 L268.8,153.8 L270,145" fill="none" stroke="#8a6248" stroke-opacity="0.38" stroke-width="0.6"/>
<path d="M328.8,97.5 L333.8,95 L340,96.2 L346.2,100 L348.8,95 L351.2,100 L359.5,103 L362,112.5 L362.5,121.2 L360,126.2 L352.5,125 L347.5,123.8 L343.8,132.5 L342.5,142.5 L343.8,152.5 L337.5,155 L330,160 L327.5,160Z" fill="#f9801d" stroke="#f9801d" stroke-width="0.5"/>
<path d="M328.8,97.5 L333.8,95 L340,96.2 L346.2,100 L348.8,95 L351.2,100 L359.5,103 L362,112.5 L362.5,121.2 L360,126.2 L352.5,125 L347.5,123.8 L343.8,132.5 L342.5,142.5 L343.8,152.5 L337.5,155 L330,160" fill="none" stroke="#8a6248" stroke-opacity="0.38" stroke-width="0.6"/>
<path d="M343.8,132.5 L347.5,123.8 L352.5,125 L360,126.2 L362.5,120 L368,125.5 L370.5,132 L376.2,129.5 L383.8,133.2 L381.2,137.5 L371.2,138.8 L370,148.8 L366.2,150 L363.8,145 L357.5,143.8 L353.8,148.8 L351.2,153.8 L343.8,152.5 L342.5,142.5Z" fill="#fcc6a0" stroke="#fcc6a0" stroke-width="0.5"/>
<path d="M343.8,132.5 L347.5,123.8 L352.5,125 L360,126.2 L362.5,120 L368,125.5 L370.5,132 L376.2,129.5 L383.8,133.2 L381.2,137.5 L371.2,138.8 L370,148.8 L366.2,150 L363.8,145 L357.5,143.8 L353.8,148.8 L351.2,153.8 L343.8,152.5 L342.5,142.5 L343.8,132.5" fill="none" stroke="#8a6248" stroke-opacity="0.38" stroke-width="0.6"/>
<path d="M353.8,148.8 L357.5,143.8 L363.8,145 L365,152.5 L361.2,157.5 L355,156.2Z" fill="#fddfd0" stroke="#fddfd0" stroke-width="0.5"/>
<path d="M353.8,148.8 L357.5,143.8 L363.8,145 L365,152.5 L361.2,157.5 L355,156.2 L353.8,148.8" fill="none" stroke="#8a6248" stroke-opacity="0.38" stroke-width="0.6"/>
<path d="M371.2,138.8 L381.2,137.5 L386.2,133.8 L388.8,142.5 L390,155 L391.2,165 L395,171.2 L388.8,173.8 L385,171.2 L380,162.5 L376.2,155 L373.8,147.5Z" fill="#f9801d" stroke="#f9801d" stroke-width="0.5"/>
<path d="M371.2,138.8 L381.2,137.5 L386.2,133.8 L388.8,142.5 L390,155 L391.2,165 L395,171.2 L388.8,173.8 L385,171.2 L380,162.5 L376.2,155 L373.8,147.5 L371.2,138.8" fill="none" stroke="#8a6248" stroke-opacity="0.38" stroke-width="0.6"/>
<path d="M361.2,157.5 L365,152.5 L366.2,150 L370,148.8 L373.8,147.5 L376.2,155 L380,162.5 L385,171.2 L380,172.5 L376.2,177.5 L371.2,176.2 L367.5,176.2 L366.2,167.5 L360,162.5 L357.5,160Z" fill="#fba46a" stroke="#fba46a" stroke-width="0.5"/>
<path d="M361.2,157.5 L365,152.5 L366.2,150 L370,148.8 L373.8,147.5 L376.2,155 L380,162.5 L385,171.2 L380,172.5 L376.2,177.5 L371.2,176.2 L367.5,176.2 L366.2,167.5 L360,162.5 L357.5,160 L361.2,157.5" fill="none" stroke="#8a6248" stroke-opacity="0.38" stroke-width="0.6"/>
<path d="M333.8,161.2 L337.5,155 L343.8,152.5 L351.2,153.8 L355,156.2 L357.5,160 L360,162.5 L362.5,168.8 L360,173.8 L357.5,173.8 L353.8,175 L345,176.2 L341.2,168.8 L335,162.5Z" fill="#b4520f" stroke="#b4520f" stroke-width="0.5"/>
<path d="M333.8,161.2 L337.5,155 L343.8,152.5 L351.2,153.8 L355,156.2 L357.5,160 L360,162.5 L362.5,168.8 L360,173.8 L357.5,173.8 L353.8,175 L345,176.2 L341.2,168.8 L335,162.5 L333.8,161.2" fill="none" stroke="#e8b87a" stroke-opacity="0.55" stroke-width="0.6"/>
<path d="M345,176.2 L353.8,175 L357.5,173.8 L367.5,176.2 L376.2,177.5 L383.8,183.8 L391.2,182.5 L392.5,188.8 L383.8,192.5 L378.8,200 L376.2,208.8 L365,210 L355,208.8 L351.2,202.5 L345,196.2 L346.2,185Z" fill="#b4520f" stroke="#b4520f" stroke-width="0.5"/>
<path d="M345,176.2 L353.8,175 L357.5,173.8 L367.5,176.2 L376.2,177.5 L383.8,183.8 L391.2,182.5 L392.5,188.8 L383.8,192.5 L378.8,200 L376.2,208.8 L365,210 L355,208.8 L351.2,202.5 L345,196.2 L346.2,185 L345,176.2" fill="none" stroke="#e8b87a" stroke-opacity="0.55" stroke-width="0.6"/>
<path d="M386.2,133 L391.2,133 L398.8,137 L401.2,143.8 L407.5,152.5 L412.5,160 L408.8,166.2 L405,172.5 L400,170 L395,171.2 L391.2,165 L390,155 L388.8,142.5Z" fill="#fba46a" stroke="#fba46a" stroke-width="0.5"/>
<path d="M386.2,133 L391.2,133 L398.8,137 L401.2,143.8 L407.5,152.5 L412.5,160 L408.8,166.2 L405,172.5 L400,170 L395,171.2 L391.2,165 L390,155 L388.8,142.5 L386.2,133" fill="none" stroke="#8a6248" stroke-opacity="0.38" stroke-width="0.6"/>
<path d="M398.8,137 L408.8,138 L412.5,135.5 L416.2,142 L421.2,148 L428.8,145.5 L432.5,150.8 L433.8,158.2 L438.8,155.8 L443.8,162.5 L446.2,167.5 L442.5,176.2 L435,180 L427.5,182.5 L420,178.8 L412.5,175 L405,172.5 L408.8,166.2 L412.5,160 L407.5,152.5 L401.2,143.8Z" fill="#fddfd0" stroke="#fddfd0" stroke-width="0.5"/>
<path d="M398.8,137 L408.8,138 L412.5,135.5 L416.2,142 L421.2,148 L428.8,145.5 L432.5,150.8 L433.8,158.2 L438.8,155.8 L443.8,162.5 L446.2,167.5 L442.5,176.2 L435,180 L427.5,182.5 L420,178.8 L412.5,175 L405,172.5 L408.8,166.2 L412.5,160 L407.5,152.5 L401.2,143.8 L398.8,137" fill="none" stroke="#8a6248" stroke-opacity="0.38" stroke-width="0.6"/>
<path d="M438.8,155.8 L442.5,152 L452.5,153 L456.2,149.2 L465,150.5 L470.5,155.8 L477.5,161.2 L473.8,167.5 L468.8,173.8 L463.8,177.5 L457.5,182.5 L452,186.2 L456.2,191.2 L461.2,195 L467.5,196.2 L472.5,202.5 L477.5,207.5 L482.5,213.8 L486.2,222.5 L435,222.5 L440,216.2 L435,210 L428.8,206.2 L426.2,197.5 L427.5,190 L427.5,182.5 L435,180 L442.5,176.2 L446.2,167.5 L443.8,162.5Z" fill="#fcc6a0" stroke="#fcc6a0" stroke-width="0.5"/>
<path d="M438.8,155.8 L442.5,152 L452.5,153 L456.2,149.2 L465,150.5 L470.5,155.8 L477.5,161.2 L473.8,167.5 L468.8,173.8 L463.8,177.5 L457.5,182.5 L452,186.2 L456.2,191.2 L461.2,195 L467.5,196.2 L472.5,202.5 L477.5,207.5 L482.5,213.8 L486.2,222.5 M435,222.5 L440,216.2 L435,210 L428.8,206.2 L426.2,197.5 L427.5,190 L427.5,182.5 L435,180 L442.5,176.2 L446.2,167.5 L443.8,162.5 L438.8,155.8" fill="none" stroke="#8a6248" stroke-opacity="0.38" stroke-width="0.6"/>
<path d="M437.5,195 L442.5,191.2 L450,193.8 L455,197.5 L452.5,202.5 L445,205 L440,207.5 L437.5,201.2Z" fill="#fba46a" stroke="#fba46a" stroke-width="0.5"/>
<path d="M437.5,195 L442.5,191.2 L450,193.8 L455,197.5 L452.5,202.5 L445,205 L440,207.5 L437.5,201.2 L437.5,195" fill="none" stroke="#8a6248" stroke-opacity="0.38" stroke-width="0.6"/>
<path d="M395,171.2 L400,170 L405,172.5 L412.5,175 L420,178.8 L427.5,182.5 L427.5,190 L422.5,196.2 L416.2,198.8 L411.2,202.5 L402.5,200 L397.5,192.5 L392.5,188.8 L391.2,182.5 L383.8,183.8 L376.2,177.5 L380,172.5 L388.8,173.8Z" fill="#fba46a" stroke="#fba46a" stroke-width="0.5"/>
<path d="M395,171.2 L400,170 L405,172.5 L412.5,175 L420,178.8 L427.5,182.5 L427.5,190 L422.5,196.2 L416.2,198.8 L411.2,202.5 L402.5,200 L397.5,192.5 L392.5,188.8 L391.2,182.5 L383.8,183.8 L376.2,177.5 L380,172.5 L388.8,173.8 L395,171.2" fill="none" stroke="#8a6248" stroke-opacity="0.38" stroke-width="0.6"/>
<path d="M416.2,198.8 L422.5,196.2 L426.2,190 L427.5,190 L426.2,197.5 L428.8,206.2 L435,210 L440,216.2 L435,222.5 L422.5,222.5 L415,210 L411.2,202.5Z" fill="#fcc6a0" stroke="#fcc6a0" stroke-width="0.5"/>
<path d="M416.2,198.8 L422.5,196.2 L426.2,190 L427.5,190 L426.2,197.5 L428.8,206.2 L435,210 L440,216.2 L435,222.5 M422.5,222.5 L415,210 L411.2,202.5 L416.2,198.8" fill="none" stroke="#8a6248" stroke-opacity="0.38" stroke-width="0.6"/>
<path d="M378.8,200 L383.8,192.5 L392.5,188.8 L397.5,192.5 L402.5,200 L411.2,202.5 L415,210 L422.5,222.5 L395,222.5 L393.8,210 L388.8,203.8 L382.5,202.5Z" fill="#fba46a" stroke="#fba46a" stroke-width="0.5"/>
<path d="M378.8,200 L383.8,192.5 L392.5,188.8 L397.5,192.5 L402.5,200 L411.2,202.5 L415,210 L422.5,222.5 M395,222.5 L393.8,210 L388.8,203.8 L382.5,202.5 L378.8,200" fill="none" stroke="#8a6248" stroke-opacity="0.38" stroke-width="0.6"/>
<path d="M376.2,208.8 L378.8,200 L382.5,202.5 L388.8,203.8 L393.8,210 L395,222.5 L372.5,222.5 L371.2,212.5Z" fill="#fddfd0" stroke="#fddfd0" stroke-width="0.5"/>
<path d="M376.2,208.8 L378.8,200 L382.5,202.5 L388.8,203.8 L393.8,210 L395,222.5 M372.5,222.5 L371.2,212.5 L376.2,208.8" fill="none" stroke="#8a6248" stroke-opacity="0.38" stroke-width="0.6"/>
<path d="M200,218.8 L207.5,216.2 L213.8,212.5 L221.2,217.5 L227.5,222.5 L223.8,230 L221.2,237.5 L225,246.2 L230,251.2 L223.8,257.5 L215,261.2 L207.5,261.2 L200,258.8 L195,257.5 L195,220Z" fill="#fcc6a0" stroke="#fcc6a0" stroke-width="0.5"/>
<path d="M200,218.8 L207.5,216.2 L213.8,212.5 L221.2,217.5 L227.5,222.5 L223.8,230 L221.2,237.5 L225,246.2 L230,251.2 L223.8,257.5 L215,261.2 L207.5,261.2 L200,258.8" fill="none" stroke="#8a6248" stroke-opacity="0.38" stroke-width="0.6"/>
<path d="M197.5,200 L233.8,200 L263.8,200 L261.2,207.5 L257.5,215 L250,221.2 L237.5,225 L227.5,222.5 L221.2,217.5 L213.8,212.5 L207.5,216.2 L200,218.8 L197.5,218.8Z" fill="#f9801d" stroke="#f9801d" stroke-width="0.5"/>
<path d="M263.8,200 L261.2,207.5 L257.5,215 L250,221.2 L237.5,225 L227.5,222.5 L221.2,217.5 L213.8,212.5 L207.5,216.2 L200,218.8" fill="none" stroke="#8a6248" stroke-opacity="0.38" stroke-width="0.6"/>
<path d="M257.5,202.5 L265,198.8 L270,191.2 L275,185 L280,176.2 L290,178.8 L302.5,176.2 L310,170 L320,163.8 L323.8,159.2 L329,160.8 L334.2,162.2 L339.5,168.2 L345.5,174.2 L346.2,181 L347.8,189.2 L344.5,196.5 L345,200 L350,203.8 L356.2,208.8 L351.2,215 L345,222.5 L336.2,228.8 L330,236.2 L327.5,242.5 L328.8,250 L326.2,258.8 L322.5,267.5 L325,275 L325,285 L320,295 L315,302.5 L305,305 L295,300 L285,302.5 L277.5,298.8 L273.8,291.2 L275,282.5 L267.5,280 L258.8,278.8 L252.5,273.8 L256.2,266.2 L252.5,257.5 L247.5,250 L243.8,246.2 L230,248.8 L225,246.2 L221.2,237.5 L223.8,230 L227.5,223.8 L237.5,225 L250,221.2 L257.5,215 L261.2,207.5Z" fill="#b4520f" stroke="#b4520f" stroke-width="0.5"/>
<path d="M257.5,202.5 L265,198.8 M345,200 L350,203.8 L356.2,208.8 L351.2,215 L345,222.5 L336.2,228.8 L330,236.2 L327.5,242.5 L328.8,250 L326.2,258.8 L322.5,267.5 L325,275 L325,285 L320,295 L315,302.5 L305,305 L295,300 L285,302.5 L277.5,298.8 L273.8,291.2 L275,282.5 L267.5,280 L258.8,278.8 L252.5,273.8 L256.2,266.2 L252.5,257.5 L247.5,250 L243.8,246.2 L230,248.8 L225,246.2 L221.2,237.5 L223.8,230 L227.5,223.8 L237.5,225 L250,221.2 L257.5,215 L261.2,207.5 L257.5,202.5" fill="none" stroke="#e8b87a" stroke-opacity="0.55" stroke-width="0.6"/>
<path d="M255,238.6 L263.1,235.1 L268.1,233.1 L274.2,230.1 L280.2,228.6 L285.3,228.1 L290.3,231.1 L294.3,235.1 L299.4,238.1 L302.4,241.7 L301.9,244.7 L297.9,247.7 L298.4,252.2 L294.3,254.3 L288.3,253.8 L283.2,255.3 L278.2,257.8 L274.2,259.3 L271.7,263.3 L266.1,263.3 L264.6,258.3 L262.6,254.3 L260.1,249.2 L257.6,244.2Z" fill="#f9801d" stroke="#f9801d" stroke-width="0.5"/>
<path d="M255,238.6 L263.1,235.1 L268.1,233.1 L274.2,230.1 L280.2,228.6 L285.3,228.1 L290.3,231.1 L294.3,235.1 L299.4,238.1 L302.4,241.7 L301.9,244.7 L297.9,247.7 L298.4,252.2 L294.3,254.3 L288.3,253.8 L283.2,255.3 L278.2,257.8 L274.2,259.3 L271.7,263.3 L266.1,263.3 L264.6,258.3 L262.6,254.3 L260.1,249.2 L257.6,244.2 L255,238.6" fill="none" stroke="#8a6248" stroke-opacity="0.38" stroke-width="0.6"/>
<path d="M310,216.2 L317.5,213.8 L325,216.2 L323.8,225 L318.8,232.5 L312.5,230 L310,223.8Z" fill="#f9801d" stroke="#f9801d" stroke-width="0.5"/>
<path d="M310,216.2 L317.5,213.8 L325,216.2 L323.8,225 L318.8,232.5 L312.5,230 L310,223.8 L310,216.2" fill="none" stroke="#8a6248" stroke-opacity="0.38" stroke-width="0.6"/>
<path d="M230,251.2 L243.8,246.2 L247.5,250 L252.5,257.5 L256.2,266.2 L252.5,273.8 L240,275 L230,271.2 L223.8,266.2 L215,261.2 L223.8,257.5Z" fill="#f9801d" stroke="#f9801d" stroke-width="0.5"/>
<path d="M230,251.2 L243.8,246.2 L247.5,250 L252.5,257.5 L256.2,266.2 L252.5,273.8 L240,275 L230,271.2 L223.8,266.2 L215,261.2 L223.8,257.5 L230,251.2" fill="none" stroke="#8a6248" stroke-opacity="0.38" stroke-width="0.6"/>
<path d="M215,266.2 L223.8,266.2 L230,271.2 L240,275 L242.5,280 L237.5,286.2 L227.5,283.8 L222.5,286.2 L215,291.2 L212.5,283.8 L213.8,275Z" fill="#b4520f" stroke="#b4520f" stroke-width="0.5"/>
<path d="M215,266.2 L223.8,266.2 L230,271.2 L240,275 L242.5,280 L237.5,286.2 L227.5,283.8 L222.5,286.2 L215,291.2 L212.5,283.8 L213.8,275 L215,266.2" fill="none" stroke="#e8b87a" stroke-opacity="0.55" stroke-width="0.6"/>
<path d="M356.2,208.8 L371.2,208.8 L370,225 L376.2,236.2 L372.5,242.5 L371.2,248.8 L365,253.8 L355,258.8 L345,265 L335,271.2 L325,272.5 L322.5,267.5 L326.2,258.8 L328.8,250 L327.5,242.5 L330,236.2 L336.2,228.8 L345,222.5 L351.2,215Z" fill="#f9801d" stroke="#f9801d" stroke-width="0.5"/>
<path d="M356.2,208.8 L371.2,208.8 L370,225 L376.2,236.2 L372.5,242.5 L371.2,248.8 L365,253.8 L355,258.8 L345,265 L335,271.2 L325,272.5 L322.5,267.5 L326.2,258.8 L328.8,250 L327.5,242.5 L330,236.2 L336.2,228.8 L345,222.5 L351.2,215 L356.2,208.8" fill="none" stroke="#8a6248" stroke-opacity="0.38" stroke-width="0.6"/>
<path d="M345,200 L377.5,200 L375,207.5 L371.2,208.8 L366.2,210 L356.2,208.8 L350,203.8Z" fill="#b4520f" stroke="#b4520f" stroke-width="0.5"/>
<path d="M377.5,200 L375,207.5 L371.2,208.8 L366.2,210 L356.2,208.8 L350,203.8 L345,200" fill="none" stroke="#e8b87a" stroke-opacity="0.55" stroke-width="0.6"/>
<path d="M377.5,200 L400,200 L400,235 L393.8,232.5 L385,233.8 L376.2,236.2 L371.2,231.2 L370,225 L371.2,208.8 L375,207.5Z" fill="#fba46a" stroke="#fba46a" stroke-width="0.5"/>
<path d="M400,235 L393.8,232.5 L385,233.8 L376.2,236.2 L371.2,231.2 L370,225 L371.2,208.8 L375,207.5 L377.5,200" fill="none" stroke="#8a6248" stroke-opacity="0.38" stroke-width="0.6"/>
<path d="M371.2,208.8 L375,207.5 L380,202.5 L387.5,203.8 L393.8,210 L392.5,220 L386.2,226.2 L378.8,226.2 L372.5,222.5 L371.2,216.2Z" fill="#fddfd0" stroke="#fddfd0" stroke-width="0.5"/>
<path d="M371.2,208.8 L375,207.5 L380,202.5 L387.5,203.8 L393.8,210 L392.5,220 L386.2,226.2 L378.8,226.2 L372.5,222.5 L371.2,216.2 L371.2,208.8" fill="none" stroke="#8a6248" stroke-opacity="0.38" stroke-width="0.6"/>
<path d="M376.2,236.2 L385,233.8 L393.8,232.5 L400,235 L400,258.8 L393.8,261.2 L386.2,262.5 L381.2,257.5 L376.2,253.8 L371.2,248.8 L372.5,242.5Z" fill="#f9801d" stroke="#f9801d" stroke-width="0.5"/>
<path d="M376.2,236.2 L385,233.8 L393.8,232.5 L400,235 M400,258.8 L393.8,261.2 L386.2,262.5 L381.2,257.5 L376.2,253.8 L371.2,248.8 L372.5,242.5 L376.2,236.2" fill="none" stroke="#8a6248" stroke-opacity="0.38" stroke-width="0.6"/>
<path d="M325,272.5 L335,271.2 L345,265 L355,258.8 L365,253.8 L371.2,248.8 L376.2,253.8 L381.2,257.5 L386.2,262.5 L385,271.2 L383.8,278.8 L377.5,282.5 L372.5,287.5 L365,291.2 L356.2,295 L351.2,300 L340,296.2 L332.5,291.2 L326.2,286.2 L325,275Z" fill="#fcc6a0" stroke="#fcc6a0" stroke-width="0.5"/>
<path d="M325,272.5 L335,271.2 L345,265 L355,258.8 L365,253.8 L371.2,248.8 L376.2,253.8 L381.2,257.5 L386.2,262.5 L385,271.2 L383.8,278.8 L377.5,282.5 L372.5,287.5 L365,291.2 L356.2,295 L351.2,300 L340,296.2 L332.5,291.2 L326.2,286.2 L325,275 L325,272.5" fill="none" stroke="#8a6248" stroke-opacity="0.38" stroke-width="0.6"/>
<path d="M315,302.5 L320,295 L325,285 L332.5,291.2 L340,296.2 L351.2,300 L353.8,306.2 L356.2,312.5 L350,316.2 L341.2,317.5 L332.5,318.8 L326.2,321.2 L322.5,323.8 L316.2,320 L310,317.5 L311.2,310Z" fill="#fba46a" stroke="#fba46a" stroke-width="0.5"/>
<path d="M315,302.5 L320,295 L325,285 L332.5,291.2 L340,296.2 L351.2,300 L353.8,306.2 L356.2,312.5 L350,316.2 L341.2,317.5 L332.5,318.8 L326.2,321.2 L322.5,323.8 L316.2,320 L310,317.5 L311.2,310 L315,302.5" fill="none" stroke="#8a6248" stroke-opacity="0.38" stroke-width="0.6"/>
<path d="M237.5,286.2 L242.5,280 L252.5,273.8 L258.8,278.8 L267.5,280 L275,282.5 L273.8,291.2 L270,296.2 L261.2,300 L256.2,305 L247.5,300 L240,293.8Z" fill="#fcc6a0" stroke="#fcc6a0" stroke-width="0.5"/>
<path d="M237.5,286.2 L242.5,280 L252.5,273.8 L258.8,278.8 L267.5,280 L275,282.5 L273.8,291.2 L270,296.2 L261.2,300 L256.2,305 L247.5,300 L240,293.8 L237.5,286.2" fill="none" stroke="#8a6248" stroke-opacity="0.38" stroke-width="0.6"/>
<path d="M200,300 L205,296.2 L210,292.5 L215,291.2 L222.5,286.2 L227.5,283.8 L237.5,286.2 L240,293.8 L247.5,300 L256.2,305 L253.8,312.5 L248.8,318.8 L237.5,323.8 L230,328.8 L222.5,331.2 L213.8,330 L206.2,328.8 L205,320 L202.5,312.5Z" fill="#fba46a" stroke="#fba46a" stroke-width="0.5"/>
<path d="M200,300 L205,296.2 L210,292.5 L215,291.2 L222.5,286.2 L227.5,283.8 L237.5,286.2 L240,293.8 L247.5,300 L256.2,305 L253.8,312.5 L248.8,318.8 L237.5,323.8 L230,328.8 L222.5,331.2 L213.8,330 L206.2,328.8 L205,320 L202.5,312.5 L200,300" fill="none" stroke="#8a6248" stroke-opacity="0.38" stroke-width="0.6"/>
<path d="M248.8,318.8 L253.8,312.5 L256.2,305 L261.2,300 L270,296.2 L277.5,298.8 L281.2,305 L285,311.2 L287.5,320 L288.8,326.2 L285,326.2 L277.5,327.5 L268.8,326.2 L260,323.8 L252.5,325Z" fill="#fddfd0" stroke="#fddfd0" stroke-width="0.5"/>
<path d="M248.8,318.8 L253.8,312.5 L256.2,305 L261.2,300 L270,296.2 L277.5,298.8 L281.2,305 L285,311.2 L287.5,320 L288.8,326.2 L285,326.2 L277.5,327.5 L268.8,326.2 L260,323.8 L252.5,325 L248.8,318.8" fill="none" stroke="#8a6248" stroke-opacity="0.38" stroke-width="0.6"/>
<path d="M281.2,305 L285,302.5 L295,300 L305,305 L311.2,310 L310,317.5 L305,322.5 L298.8,327.5 L292.5,328.8 L288.8,326.2 L287.5,320 L285,311.2Z" fill="#fddfd0" stroke="#fddfd0" stroke-width="0.5"/>
<path d="M281.2,305 L285,302.5 L295,300 L305,305 L311.2,310 L310,317.5 L305,322.5 L298.8,327.5 L292.5,328.8 L288.8,326.2 L287.5,320 L285,311.2 L281.2,305" fill="none" stroke="#8a6248" stroke-opacity="0.38" stroke-width="0.6"/>
<path d="M200,258.8 L207.5,261.2 L212.5,266.2 L213.8,275 L212.5,283.8 L210,292.5 L205,296.2 L200,300Z" fill="#f9801d" stroke="#f9801d" stroke-width="0.5"/>
<path d="M200,258.8 L207.5,261.2 L212.5,266.2 L213.8,275 L212.5,283.8 L210,292.5 L205,296.2 L200,300" fill="none" stroke="#8a6248" stroke-opacity="0.38" stroke-width="0.6"/>
<path d="M206.2,328.8 L213.8,330 L222.5,331.2 L230,328.8 L236.2,325 L232.5,332.5 L230,342.5 L206.2,342.5Z" fill="#fba46a" stroke="#fba46a" stroke-width="0.5"/>
<path d="M206.2,328.8 L213.8,330 L222.5,331.2 L230,328.8 L236.2,325 L232.5,332.5 L230,342.5 M206.2,342.5 L206.2,328.8" fill="none" stroke="#8a6248" stroke-opacity="0.38" stroke-width="0.6"/>
<path d="M236.2,325 L243.8,327.5 L250,330 L248.8,342.5 L230,342.5 L232.5,332.5Z" fill="#f9801d" stroke="#f9801d" stroke-width="0.5"/>
<path d="M236.2,325 L243.8,327.5 L250,330 L248.8,342.5 M230,342.5 L232.5,332.5 L236.2,325" fill="none" stroke="#8a6248" stroke-opacity="0.38" stroke-width="0.6"/>
<path d="M250,330 L260,323.8 L268.8,326.2 L277.5,327.5 L276.2,342.5 L248.8,342.5Z" fill="#fcc6a0" stroke="#fcc6a0" stroke-width="0.5"/>
<path d="M250,330 L260,323.8 L268.8,326.2 L277.5,327.5 L276.2,342.5 M248.8,342.5 L250,330" fill="none" stroke="#8a6248" stroke-opacity="0.38" stroke-width="0.6"/>
<path d="M277.5,327.5 L285,326.2 L292.5,328.8 L298.8,327.5 L305,322.5 L310,317.5 L316.2,320 L322.5,323.8 L325,342.5 L276.2,342.5Z" fill="#f9801d" stroke="#f9801d" stroke-width="0.5"/>
<path d="M277.5,327.5 L285,326.2 L292.5,328.8 L298.8,327.5 L305,322.5 L310,317.5 L316.2,320 L322.5,323.8 L325,342.5 M276.2,342.5 L277.5,327.5" fill="none" stroke="#8a6248" stroke-opacity="0.38" stroke-width="0.6"/>
<path d="M322.5,323.8 L332.5,318.8 L341.2,317.5 L342.5,325 L340,342.5 L325,342.5Z" fill="#fcc6a0" stroke="#fcc6a0" stroke-width="0.5"/>
<path d="M322.5,323.8 L332.5,318.8 L341.2,317.5 L342.5,325 L340,342.5 M325,342.5 L322.5,323.8" fill="none" stroke="#8a6248" stroke-opacity="0.38" stroke-width="0.6"/>
<path d="M341.2,317.5 L350,316.2 L352.5,322.5 L360,330 L372.5,336.2 L375,342.5 L340,342.5 L342.5,325Z" fill="#f9801d" stroke="#f9801d" stroke-width="0.5"/>
<path d="M341.2,317.5 L350,316.2 L352.5,322.5 L360,330 L372.5,336.2 L375,342.5 M340,342.5 L342.5,325 L341.2,317.5" fill="none" stroke="#8a6248" stroke-opacity="0.38" stroke-width="0.6"/>
<path d="M350,316.2 L356.2,312.5 L353.8,306.2 L351.2,300 L356.2,295 L365,291.2 L372.5,287.5 L377.5,282.5 L383.8,278.8 L391.2,280 L400,283.8 L400,342.5 L375,342.5 L372.5,336.2 L360,330 L352.5,322.5Z" fill="#fcc6a0" stroke="#fcc6a0" stroke-width="0.5"/>
<path d="M350,316.2 L356.2,312.5 L353.8,306.2 L351.2,300 L356.2,295 L365,291.2 L372.5,287.5 L377.5,282.5 L383.8,278.8 L391.2,280 L400,283.8 M375,342.5 L372.5,336.2 L360,330 L352.5,322.5 L350,316.2" fill="none" stroke="#8a6248" stroke-opacity="0.38" stroke-width="0.6"/>
<path d="M348,190 L390.1,190 L387.8,193 L381.1,196 L378,202 L372.8,208 L369.8,210.3 L362.3,209.5 L354,208 L348.8,202 L344.3,196Z" fill="#b4520f" stroke="#b4520f" stroke-width="0.5"/>
<path d="M390.1,190 L387.8,193 L381.1,196 L378,202 L372.8,208 L369.8,210.3 L362.3,209.5 L354,208 L348.8,202 L344.3,196 L348,190" fill="none" stroke="#e8b87a" stroke-opacity="0.55" stroke-width="0.6"/>
<path d="M339,233.5 L342.8,226 L348,220 L351,212.5 L348,205 L354,208 L369.8,210.3 L372.8,223.8 L369,230.5 L375,235 L373.5,241.8 L370.5,248.6 L366,253.1 L358.5,259.1 L349.5,262.1 L342,266.6 L336,271.1 L330,274.1 L330,238Z" fill="#f9801d" stroke="#f9801d" stroke-width="0.5"/>
<path d="M339,233.5 L342.8,226 L348,220 L351,212.5 L348,205 L354,208 L369.8,210.3 L372.8,223.8 L369,230.5 L375,235 L373.5,241.8 L370.5,248.6 L366,253.1 L358.5,259.1 L349.5,262.1 L342,266.6 L336,271.1 L330,274.1 M330,238 L339,233.5" fill="none" stroke="#8a6248" stroke-opacity="0.38" stroke-width="0.6"/>
<path d="M378,202 L381.1,196 L387.8,193 L399.1,193 L408.1,199 L414.1,202 L426.1,206.5 L435.1,212.5 L439.6,218.5 L435.1,226 L432.1,230.5 L423.8,229 L419.3,232 L414.1,232.8 L411.8,228.3 L408.1,229 L404.3,233.5 L390.1,232.8 L384.8,235 L378,238.8 L375,235 L369,230.5 L372.8,223.8 L370.5,211Z" fill="#fba46a" stroke="#fba46a" stroke-width="0.5"/>
<path d="M378,202 L381.1,196 L387.8,193 L399.1,193 L408.1,199 L414.1,202 L426.1,206.5 L435.1,212.5 L439.6,218.5 L435.1,226 L432.1,230.5 L423.8,229 L419.3,232 L414.1,232.8 L411.8,228.3 L408.1,229 L404.3,233.5 L390.1,232.8 L384.8,235 L378,238.8 L375,235 L369,230.5 L372.8,223.8 L370.5,211 L378,202" fill="none" stroke="#8a6248" stroke-opacity="0.38" stroke-width="0.6"/>
<path d="M372,212.5 L378,206.5 L384.1,203.5 L390.1,206.5 L394.6,212.5 L393.1,220 L390.1,225.3 L382.6,227.5 L376.5,225.3 L372.8,220Z" fill="#fddfd0" stroke="#fddfd0" stroke-width="0.5"/>
<path d="M372,212.5 L378,206.5 L384.1,203.5 L390.1,206.5 L394.6,212.5 L393.1,220 L390.1,225.3 L382.6,227.5 L376.5,225.3 L372.8,220 L372,212.5" fill="none" stroke="#8a6248" stroke-opacity="0.38" stroke-width="0.6"/>
<path d="M378,238.8 L384.8,235 L390.1,232.8 L404.3,233.5 L408.1,229 L411.8,228.3 L414.1,232.8 L419.3,232 L421.6,236.5 L424.6,244.1 L429.1,251.6 L433.6,256.1 L429.1,257.6 L420.1,256.1 L411.1,258.3 L402.1,260.6 L393.1,263.6 L386.3,263.6 L383.3,259.1 L379.5,253.8 L373.5,251.6 L370.5,248.6 L373.5,241.8Z" fill="#f9801d" stroke="#f9801d" stroke-width="0.5"/>
<path d="M378,238.8 L384.8,235 L390.1,232.8 L404.3,233.5 L408.1,229 L411.8,228.3 L414.1,232.8 L419.3,232 L421.6,236.5 L424.6,244.1 L429.1,251.6 L433.6,256.1 L429.1,257.6 L420.1,256.1 L411.1,258.3 L402.1,260.6 L393.1,263.6 L386.3,263.6 L383.3,259.1 L379.5,253.8 L373.5,251.6 L370.5,248.6 L373.5,241.8 L378,238.8" fill="none" stroke="#8a6248" stroke-opacity="0.38" stroke-width="0.6"/>
<path d="M419.3,232 L423.8,229 L433.6,233.5 L438.1,237.3 L444.1,240.3 L447.1,245.6 L444.1,251.6 L441.1,256.1 L433.6,256.1 L429.1,251.6 L424.6,244.1 L421.6,236.5Z" fill="#fba46a" stroke="#fba46a" stroke-width="0.5"/>
<path d="M419.3,232 L423.8,229 L433.6,233.5 L438.1,237.3 L444.1,240.3 L447.1,245.6 L444.1,251.6 L441.1,256.1 L433.6,256.1 L429.1,251.6 L424.6,244.1 L421.6,236.5 L419.3,232" fill="none" stroke="#8a6248" stroke-opacity="0.38" stroke-width="0.6"/>
<path d="M386.3,263.6 L402.1,260.6 L420.1,256.1 L433.6,256.1 L441.1,256.1 L439.6,265.1 L441.1,275 L384.8,275Z" fill="#fcc6a0" stroke="#fcc6a0" stroke-width="0.5"/>
<path d="M386.3,263.6 L402.1,260.6 L420.1,256.1 L433.6,256.1 L441.1,256.1 L439.6,265.1 L441.1,275 M384.8,275 L386.3,263.6" fill="none" stroke="#8a6248" stroke-opacity="0.38" stroke-width="0.6"/>
<path d="M435.1,226 L439.6,218.5 L450,220 L450,242.6 L444.1,240.3 L438.1,237.3 L433.6,233.5 L432.1,230.5Z" fill="#fcc6a0" stroke="#fcc6a0" stroke-width="0.5"/>
<path d="M435.1,226 L439.6,218.5 L450,220 M450,242.6 L444.1,240.3 L438.1,237.3 L433.6,233.5 L432.1,230.5 L435.1,226" fill="none" stroke="#8a6248" stroke-opacity="0.38" stroke-width="0.6"/>
<path d="M400,221 L437.5,221 L435,227.2 L423.8,228.5 L412.5,227.2 L406.2,232.2 L400,234.8Z" fill="#fba46a" stroke="#fba46a" stroke-width="0.5"/>
<path d="M437.5,221 L435,227.2 L423.8,228.5 L412.5,227.2 L406.2,232.2 L400,234.8" fill="none" stroke="#8a6248" stroke-opacity="0.38" stroke-width="0.6"/>
<path d="M400,234.8 L406.2,232.2 L411.2,228.5 L416.2,232.2 L421.2,238.5 L425,246 L430,253.5 L422.5,256 L412.5,257.2 L400,258.5Z" fill="#f9801d" stroke="#f9801d" stroke-width="0.5"/>
<path d="M400,234.8 L406.2,232.2 L411.2,228.5 L416.2,232.2 L421.2,238.5 L425,246 L430,253.5 L422.5,256 L412.5,257.2 L400,258.5" fill="none" stroke="#8a6248" stroke-opacity="0.38" stroke-width="0.6"/>
<path d="M416.2,232.2 L422.5,231 L430,229.8 L436.2,234.8 L442.5,239.8 L441.2,247.2 L437.5,253.5 L430,253.5 L425,246 L421.2,238.5Z" fill="#fba46a" stroke="#fba46a" stroke-width="0.5"/>
<path d="M416.2,232.2 L422.5,231 L430,229.8 L436.2,234.8 L442.5,239.8 L441.2,247.2 L437.5,253.5 L430,253.5 L425,246 L421.2,238.5 L416.2,232.2" fill="none" stroke="#8a6248" stroke-opacity="0.38" stroke-width="0.6"/>
<path d="M437.5,253.5 L441.2,247.2 L450,244.8 L457.5,246 L465,244.8 L471.2,244.8 L480,249.8 L487.5,254.8 L486.2,261 L478.8,264.8 L472.5,264.8 L463.8,262.2 L458.8,266 L453.8,272.2 L446.2,279.8 L442.5,274.8 L440,266 L441.2,258.5Z" fill="#f9801d" stroke="#f9801d" stroke-width="0.5"/>
<path d="M437.5,253.5 L441.2,247.2 L450,244.8 L457.5,246 L465,244.8 L471.2,244.8 L480,249.8 L487.5,254.8 L486.2,261 L478.8,264.8 L472.5,264.8 L463.8,262.2 L458.8,266 L453.8,272.2 L446.2,279.8 L442.5,274.8 L440,266 L441.2,258.5 L437.5,253.5" fill="none" stroke="#8a6248" stroke-opacity="0.38" stroke-width="0.6"/>
<path d="M472.5,264.8 L478.8,264.8 L486.2,261 L487.5,254.8 L498.8,253.5 L506.2,254.8 L507.5,262.2 L510,271 L505,274.8 L495,277.2 L488.8,281 L486.2,277.2 L476.2,276 L473.8,269.8Z" fill="#fba46a" stroke="#fba46a" stroke-width="0.5"/>
<path d="M472.5,264.8 L478.8,264.8 L486.2,261 L487.5,254.8 L498.8,253.5 L506.2,254.8 L507.5,262.2 L510,271 L505,274.8 L495,277.2 L488.8,281 L486.2,277.2 L476.2,276 L473.8,269.8 L472.5,264.8" fill="none" stroke="#8a6248" stroke-opacity="0.38" stroke-width="0.6"/>
<path d="M435,221 L445,221 L450,228.5 L458.8,236 L461.2,244.8 L457.5,246 L450,243.5 L442.5,239.8 L436.2,234.8 L437.5,228.5Z" fill="#fcc6a0" stroke="#fcc6a0" stroke-width="0.5"/>
<path d="M445,221 L450,228.5 L458.8,236 L461.2,244.8 L457.5,246 L450,243.5 L442.5,239.8 L436.2,234.8 L437.5,228.5 L435,221" fill="none" stroke="#8a6248" stroke-opacity="0.38" stroke-width="0.6"/>
<path d="M445,221 L487.5,221 L482.5,229.8 L475,234.8 L468.8,239.8 L465,244.8 L461.2,244.8 L458.8,236 L450,228.5Z" fill="#fddfd0" stroke="#fddfd0" stroke-width="0.5"/>
<path d="M487.5,221 L482.5,229.8 L475,234.8 L468.8,239.8 L465,244.8 L461.2,244.8 L458.8,236 L450,228.5 L445,221" fill="none" stroke="#8a6248" stroke-opacity="0.38" stroke-width="0.6"/>
<path d="M487.5,218.5 L518.8,218.5 L517.5,226 L510,234.8 L502.5,238.5 L493.8,234.8 L488.8,228.5Z" fill="#ffffff" stroke="#ffffff" stroke-width="0.5"/>
<path d="M518.8,218.5 L517.5,226 L510,234.8 L502.5,238.5 L493.8,234.8 L488.8,228.5 L487.5,218.5" fill="none" stroke="#8a6248" stroke-opacity="0.38" stroke-width="0.6"/>
<path d="M468.8,239.8 L475,234.8 L482.5,232.2 L486.2,228.5 L492.5,236 L502.5,239.8 L510,234.8 L516.2,233.5 L513.8,242.2 L510,251 L506.2,254.8 L498.8,253.5 L487.5,254.8 L480,249.8 L471.2,244.8 L465,244.8Z" fill="#fddfd0" stroke="#fddfd0" stroke-width="0.5"/>
<path d="M468.8,239.8 L475,234.8 L482.5,232.2 L486.2,228.5 L492.5,236 L502.5,239.8 L510,234.8 L516.2,233.5 L513.8,242.2 L510,251 L506.2,254.8 L498.8,253.5 L487.5,254.8 L480,249.8 L471.2,244.8 L465,244.8 L468.8,239.8" fill="none" stroke="#8a6248" stroke-opacity="0.38" stroke-width="0.6"/>
<path d="M400,258.5 L412.5,257.2 L422.5,256 L430,253.5 L437.5,253.5 L441.2,258.5 L440,266 L442.5,274.8 L446.2,279.8 L448.8,286 L447.5,292.2 L440,301 L431.2,302.2 L425,301 L420,296 L413.8,292.2 L407.5,288.5 L400,284.8Z" fill="#fcc6a0" stroke="#fcc6a0" stroke-width="0.5"/>
<path d="M400,258.5 L412.5,257.2 L422.5,256 L430,253.5 L437.5,253.5 L441.2,258.5 L440,266 L442.5,274.8 L446.2,279.8 L448.8,286 L447.5,292.2 L440,301 L431.2,302.2 L425,301 L420,296 L413.8,292.2 L407.5,288.5 L400,284.8" fill="none" stroke="#8a6248" stroke-opacity="0.38" stroke-width="0.6"/>
<path d="M412.5,281 L420,277.2 L427.5,279.8 L435,283.5 L443.8,286 L448.8,287.2 L447.5,292.2 L440,301 L431.2,302.2 L425,301 L420,296 L413.8,292.2 L411.2,286Z" fill="#fddfd0" stroke="#fddfd0" stroke-width="0.5"/>
<path d="M412.5,281 L420,277.2 L427.5,279.8 L435,283.5 L443.8,286 L448.8,287.2 L447.5,292.2 L440,301 L431.2,302.2 L425,301 L420,296 L413.8,292.2 L411.2,286 L412.5,281" fill="none" stroke="#8a6248" stroke-opacity="0.38" stroke-width="0.6"/>
<path d="M446.2,279.8 L453.8,272.2 L458.8,266 L463.8,262.2 L472.5,264.8 L473.8,269.8 L476.2,276 L486.2,277.2 L488.8,281 L495,277.2 L505,274.8 L510,271 L508.8,278.5 L512.5,286 L517.5,292.2 L520,298.5 L518.8,307.2 L517.5,314.8 L510,313.5 L500,312.2 L492.5,314.8 L485,317.2 L477.5,318.5 L473.8,323.5 L470,317.2 L462.5,313.5 L455,308.5 L447.5,303.5 L440,301 L447.5,292.2 L448.8,286Z" fill="#fcc6a0" stroke="#fcc6a0" stroke-width="0.5"/>
<path d="M446.2,279.8 L453.8,272.2 L458.8,266 L463.8,262.2 L472.5,264.8 L473.8,269.8 L476.2,276 L486.2,277.2 L488.8,281 L495,277.2 L505,274.8 L510,271 L508.8,278.5 L512.5,286 L517.5,292.2 L520,298.5 L518.8,307.2 L517.5,314.8 L510,313.5 L500,312.2 L492.5,314.8 L485,317.2 L477.5,318.5 L473.8,323.5 L470,317.2 L462.5,313.5 L455,308.5 L447.5,303.5 L440,301 L447.5,292.2 L448.8,286 L446.2,279.8" fill="none" stroke="#8a6248" stroke-opacity="0.38" stroke-width="0.6"/>
<path d="M518.8,221 L537.5,221 L540,226 L550,233.5 L556.2,236 L553.8,246 L551.2,256 L545,262.2 L537.5,266 L530,264.8 L522.5,261 L515,256 L510,251 L513.8,242.2 L516.2,233.5Z" fill="#fcc6a0" stroke="#fcc6a0" stroke-width="0.5"/>
<path d="M537.5,221 L540,226 L550,233.5 L556.2,236 L553.8,246 L551.2,256 L545,262.2 L537.5,266 L530,264.8 L522.5,261 L515,256 L510,251 L513.8,242.2 L516.2,233.5 L518.8,221" fill="none" stroke="#8a6248" stroke-opacity="0.38" stroke-width="0.6"/>
<path d="M537.5,218.5 L565,218.5 L560,229.8 L556.2,236 L550,233.5 L540,226Z" fill="#fba46a" stroke="#fba46a" stroke-width="0.5"/>
<path d="M565,218.5 L560,229.8 L556.2,236 L550,233.5 L540,226 L537.5,218.5" fill="none" stroke="#8a6248" stroke-opacity="0.38" stroke-width="0.6"/>
<path d="M510,251 L515,256 L522.5,261 L530,264.8 L537.5,266 L540,274.8 L533.8,279.8 L525,282.2 L516.2,281 L511.2,279.8 L508.8,278.5 L510,271 L507.5,262.2 L506.2,254.8Z" fill="#fcc6a0" stroke="#fcc6a0" stroke-width="0.5"/>
<path d="M510,251 L515,256 L522.5,261 L530,264.8 L537.5,266 L540,274.8 L533.8,279.8 L525,282.2 L516.2,281 L511.2,279.8 L508.8,278.5 L510,271 L507.5,262.2 L506.2,254.8 L510,251" fill="none" stroke="#8a6248" stroke-opacity="0.38" stroke-width="0.6"/>
<path d="M511.2,279.8 L516.2,281 L525,282.2 L533.8,279.8 L540,274.8 L538.8,283.5 L536.2,291 L530,296 L522.5,294.8 L517.5,292.2 L512.5,286Z" fill="#f9801d" stroke="#f9801d" stroke-width="0.5"/>
<path d="M511.2,279.8 L516.2,281 L525,282.2 L533.8,279.8 L540,274.8 L538.8,283.5 L536.2,291 L530,296 L522.5,294.8 L517.5,292.2 L512.5,286 L511.2,279.8" fill="none" stroke="#8a6248" stroke-opacity="0.38" stroke-width="0.6"/>
<path d="M537.5,266 L545,262.2 L551.2,256 L552.5,264.8 L551.2,272.2 L557.5,274.8 L563.8,279.8 L571.2,282.2 L577.5,287.2 L582.5,293.5 L575,296 L565,297.2 L555,298.5 L552.5,306 L545,311 L537.5,312.2 L530,307.2 L522.5,303.5 L520,298.5 L522.5,294.8 L530,296 L536.2,291 L538.8,283.5 L540,274.8Z" fill="#fba46a" stroke="#fba46a" stroke-width="0.5"/>
<path d="M537.5,266 L545,262.2 L551.2,256 L552.5,264.8 L551.2,272.2 L557.5,274.8 L563.8,279.8 L571.2,282.2 L577.5,287.2 L582.5,293.5 L575,296 L565,297.2 L555,298.5 L552.5,306 L545,311 L537.5,312.2 L530,307.2 L522.5,303.5 L520,298.5 L522.5,294.8 L530,296 L536.2,291 L538.8,283.5 L540,274.8 L537.5,266" fill="none" stroke="#8a6248" stroke-opacity="0.38" stroke-width="0.6"/>
<path d="M537.5,312.2 L545,311 L552.5,306 L555,298.5 L565,297.2 L575,296 L582.5,293.5 L586.2,289.8 L593.8,291 L600,289.8 L600,303.5 L596.2,311 L590,318.5 L583.8,323.5 L576.2,328.5 L570,333.5 L565,338.5 L561.2,331 L555,324.8 L547.5,321 L541.2,317.2Z" fill="#f9801d" stroke="#f9801d" stroke-width="0.5"/>
<path d="M537.5,312.2 L545,311 L552.5,306 L555,298.5 L565,297.2 L575,296 L582.5,293.5 L586.2,289.8 L593.8,291 L600,289.8 M600,303.5 L596.2,311 L590,318.5 L583.8,323.5 L576.2,328.5 L570,333.5 L565,338.5 L561.2,331 L555,324.8 L547.5,321 L541.2,317.2 L537.5,312.2" fill="none" stroke="#8a6248" stroke-opacity="0.38" stroke-width="0.6"/>
<path d="M517.5,314.8 L518.8,307.2 L522.5,303.5 L530,307.2 L537.5,312.2 L535,318.5 L528.8,323.5 L523.8,331 L517.5,333.5 L516.2,326 L511.2,323.5 L510,319.8Z" fill="#fddfd0" stroke="#fddfd0" stroke-width="0.5"/>
<path d="M517.5,314.8 L518.8,307.2 L522.5,303.5 L530,307.2 L537.5,312.2 L535,318.5 L528.8,323.5 L523.8,331 L517.5,333.5 L516.2,326 L511.2,323.5 L510,319.8 L517.5,314.8" fill="none" stroke="#8a6248" stroke-opacity="0.38" stroke-width="0.6"/>
<path d="M528.8,323.5 L535,318.5 L537.5,312.2 L541.2,317.2 L547.5,321 L555,324.8 L561.2,331 L565,338.5 L562.5,346 L560,356 L552.5,362 L548.8,357.2 L542.5,351 L536.2,344.8 L532.5,338.5 L528.8,333.5Z" fill="#fcc6a0" stroke="#fcc6a0" stroke-width="0.5"/>
<path d="M528.8,323.5 L535,318.5 L537.5,312.2 L541.2,317.2 L547.5,321 L555,324.8 L561.2,331 L565,338.5 L562.5,346 L560,356 L552.5,362 L548.8,357.2 L542.5,351 L536.2,344.8 L532.5,338.5 L528.8,333.5 L528.8,323.5" fill="none" stroke="#8a6248" stroke-opacity="0.38" stroke-width="0.6"/>
<path d="M565,338.5 L570,333.5 L576.2,328.5 L583.8,323.5 L590,318.5 L596.2,311 L600,303.5 L600,342.2 L592.5,346 L585,348.5 L578.8,346 L575,343.5 L572.5,348.5 L570,356 L566.2,362 L552.5,362 L560,356 L562.5,346Z" fill="#fba46a" stroke="#fba46a" stroke-width="0.5"/>
<path d="M565,338.5 L570,333.5 L576.2,328.5 L583.8,323.5 L590,318.5 L596.2,311 L600,303.5 M600,342.2 L592.5,346 L585,348.5 L578.8,346 L575,343.5 L572.5,348.5 L570,356 L566.2,362 M552.5,362 L560,356 L562.5,346 L565,338.5" fill="none" stroke="#8a6248" stroke-opacity="0.38" stroke-width="0.6"/>
<path d="M565,218.5 L600,218.5 L600,289.8 L593.8,291 L586.2,289.8 L577.5,287.2 L571.2,282.2 L563.8,279.8 L557.5,274.8 L551.2,272.2 L552.5,264.8 L551.2,256 L553.8,246 L556.2,236 L560,229.8Z" fill="#fcc6a0" stroke="#fcc6a0" stroke-width="0.5"/>
<path d="M600,289.8 L593.8,291 L586.2,289.8 L577.5,287.2 L571.2,282.2 L563.8,279.8 L557.5,274.8 L551.2,272.2 L552.5,264.8 L551.2,256 L553.8,246 L556.2,236 L560,229.8 L565,218.5" fill="none" stroke="#8a6248" stroke-opacity="0.38" stroke-width="0.6"/>
<path d="M553.8,246 L560,238.5 L566.2,243.5 L572.5,253.5 L576.2,263.5 L575,273.5 L570,279.8 L563.8,279.8 L557.5,274.8 L551.2,272.2 L552.5,264.8 L551.2,256Z" fill="#fddfd0" stroke="#fddfd0" stroke-width="0.5"/>
<path d="M553.8,246 L560,238.5 L566.2,243.5 L572.5,253.5 L576.2,263.5 L575,273.5 L570,279.8 L563.8,279.8 L557.5,274.8 L551.2,272.2 L552.5,264.8 L551.2,256 L553.8,246" fill="none" stroke="#8a6248" stroke-opacity="0.38" stroke-width="0.6"/>
<path d="M587.5,271 L600,266 L600,289.8 L593.8,291 L586.2,289.8 L583.8,281Z" fill="#fba46a" stroke="#fba46a" stroke-width="0.5"/>
<path d="M587.5,271 L600,266 M600,289.8 L593.8,291 L586.2,289.8 L583.8,281 L587.5,271" fill="none" stroke="#8a6248" stroke-opacity="0.38" stroke-width="0.6"/>
<path d="M400,284.8 L420,296 L425,301 L422.5,307.2 L412.5,313.5 L400,308.5Z" fill="#fcc6a0" stroke="#fcc6a0" stroke-width="0.5"/>
<path d="M400,284.8 L420,296 L425,301 L422.5,307.2 L412.5,313.5 L400,308.5" fill="none" stroke="#8a6248" stroke-opacity="0.38" stroke-width="0.6"/>
<path d="M400,308.5 L412.5,313.5 L415,321 L410,328.5 L400,327.2Z" fill="#fddfd0" stroke="#fddfd0" stroke-width="0.5"/>
<path d="M400,308.5 L412.5,313.5 L415,321 L410,328.5 L400,327.2" fill="none" stroke="#8a6248" stroke-opacity="0.38" stroke-width="0.6"/>
<path d="M400,327.2 L410,328.5 L416.2,336 L418.8,344.8 L413.8,352.2 L408.8,358.5 L400,362Z" fill="#f9801d" stroke="#f9801d" stroke-width="0.5"/>
<path d="M400,327.2 L410,328.5 L416.2,336 L418.8,344.8 L413.8,352.2 L408.8,358.5 L400,362" fill="none" stroke="#8a6248" stroke-opacity="0.38" stroke-width="0.6"/>
<path d="M412.5,313.5 L422.5,307.2 L425,301 L431.2,302.2 L437.5,306 L436.2,316 L437.5,326 L438.8,336 L431.2,341 L422.5,343.5 L418.8,344.8 L416.2,336 L410,328.5 L415,321Z" fill="#fddfd0" stroke="#fddfd0" stroke-width="0.5"/>
<path d="M412.5,313.5 L422.5,307.2 L425,301 L431.2,302.2 L437.5,306 L436.2,316 L437.5,326 L438.8,336 L431.2,341 L422.5,343.5 L418.8,344.8 L416.2,336 L410,328.5 L415,321 L412.5,313.5" fill="none" stroke="#8a6248" stroke-opacity="0.38" stroke-width="0.6"/>
<path d="M431.2,302.2 L440,301 L447.5,303.5 L455,308.5 L462.5,313.5 L470,317.2 L473.8,323.5 L475,328.5 L471.2,333.5 L473.8,341 L473.8,351 L470,357.2 L467.5,363.5 L415,363.5 L413.8,352.2 L418.8,344.8 L431.2,341 L438.8,336 L437.5,326 L436.2,316 L437.5,306Z" fill="#ffffff" stroke="#ffffff" stroke-width="0.5"/>
<path d="M431.2,302.2 L440,301 L447.5,303.5 L455,308.5 L462.5,313.5 L470,317.2 L473.8,323.5 L475,328.5 L471.2,333.5 L473.8,341 L473.8,351 L470,357.2 L467.5,363.5 M415,363.5 L413.8,352.2 L418.8,344.8 L431.2,341 L438.8,336 L437.5,326 L436.2,316 L437.5,306 L431.2,302.2" fill="none" stroke="#8a6248" stroke-opacity="0.38" stroke-width="0.6"/>
<path d="M473.8,323.5 L477.5,318.5 L485,317.2 L492.5,314.8 L500,312.2 L510,313.5 L510,319.8 L511.2,323.5 L516.2,326 L517.5,333.5 L510,338.5 L500,341 L486.2,342.2 L480,338.5 L473.8,341 L471.2,333.5 L475,328.5Z" fill="#ffffff" stroke="#ffffff" stroke-width="0.5"/>
<path d="M473.8,323.5 L477.5,318.5 L485,317.2 L492.5,314.8 L500,312.2 L510,313.5 L510,319.8 L511.2,323.5 L516.2,326 L517.5,333.5 L510,338.5 L500,341 L486.2,342.2 L480,338.5 L473.8,341 L471.2,333.5 L475,328.5 L473.8,323.5" fill="none" stroke="#8a6248" stroke-opacity="0.38" stroke-width="0.6"/>
<path d="M473.8,341 L480,338.5 L486.2,342.2 L487.5,351 L490,363.5 L467.5,363.5 L470,357.2 L473.8,351Z" fill="#fcc6a0" stroke="#fcc6a0" stroke-width="0.5"/>
<path d="M473.8,341 L480,338.5 L486.2,342.2 L487.5,351 L490,363.5 M467.5,363.5 L470,357.2 L473.8,351 L473.8,341" fill="none" stroke="#8a6248" stroke-opacity="0.38" stroke-width="0.6"/>
<path d="M486.2,342.2 L500,341 L510,338.5 L517.5,333.5 L516.2,343.5 L522.5,347.2 L525,338.5 L528.8,333.5 L532.5,338.5 L536.2,344.8 L542.5,351 L548.8,357.2 L552.5,363.5 L490,363.5 L487.5,351Z" fill="#fba46a" stroke="#fba46a" stroke-width="0.5"/>
<path d="M486.2,342.2 L500,341 L510,338.5 L517.5,333.5 L516.2,343.5 L522.5,347.2 L525,338.5 L528.8,333.5 L532.5,338.5 L536.2,344.8 L542.5,351 L548.8,357.2 L552.5,363.5 M490,363.5 L487.5,351 L486.2,342.2" fill="none" stroke="#8a6248" stroke-opacity="0.38" stroke-width="0.6"/>
<path d="M520,187.5 L523,183.8 L530,185 L538.8,188.8 L547.5,191.2 L555,195 L562.5,199.5 L567.5,201.2 L568.8,208 L576.2,211.2 L576.2,215.5 L566.2,221.2 L560,228.8 L556.2,235 L552.5,232.5 L546.2,226.2 L537.5,221.2 L535,213.8 L533.8,210 L531.2,203.8 L527.5,197.5 L523.8,191.2Z" fill="#fba46a" stroke="#fba46a" stroke-width="0.5"/>
<path d="M520,187.5 L523,183.8 L530,185 L538.8,188.8 L547.5,191.2 L555,195 L562.5,199.5 L567.5,201.2 L568.8,208 L576.2,211.2 L576.2,215.5 L566.2,221.2 L560,228.8 L556.2,235 L552.5,232.5 L546.2,226.2 L537.5,221.2 L535,213.8 L533.8,210 L531.2,203.8 L527.5,197.5 L523.8,191.2 L520,187.5" fill="none" stroke="#8a6248" stroke-opacity="0.38" stroke-width="0.6"/>
<path d="M516.2,222.5 L521.2,220 L525,216.2 L530,217.5 L533.8,212.5 L537.5,221.2 L546.2,226.2 L552.5,232.5 L556.2,235 L553.8,245 L551.2,255 L552.5,265 L540,267.5 L530,270 L517.5,260 L510,255 L507.5,250 L513.8,247.5 L516.2,237.5 L517.5,227.5Z" fill="#fcc6a0" stroke="#fcc6a0" stroke-width="0.5"/>
<path d="M516.2,222.5 L521.2,220 L525,216.2 L530,217.5 L533.8,212.5 L537.5,221.2 L546.2,226.2 L552.5,232.5 L556.2,235 L553.8,245 L551.2,255 L552.5,265 L540,267.5 L530,270 L517.5,260 L510,255 L507.5,250 L513.8,247.5 L516.2,237.5 L517.5,227.5 L516.2,222.5" fill="none" stroke="#8a6248" stroke-opacity="0.38" stroke-width="0.6"/>
<path d="M491.2,227.5 L497.5,233.8 L505,237.5 L510,232.5 L516.2,222.5 L517.5,227.5 L516.2,237.5 L513.8,247.5 L507.5,250 L505,252.5 L501.2,245 L496.2,240 L490,236.2Z" fill="#ffffff" stroke="#ffffff" stroke-width="0.5"/>
<path d="M491.2,227.5 L497.5,233.8 L505,237.5 L510,232.5 L516.2,222.5 L517.5,227.5 L516.2,237.5 L513.8,247.5 L507.5,250 L505,252.5 L501.2,245 L496.2,240 L490,236.2 L491.2,227.5" fill="none" stroke="#8a6248" stroke-opacity="0.38" stroke-width="0.6"/>
<path d="M576.2,215.5 L580,211.2 L590,208.8 L596.2,206.2 L602.5,200 L608,203.8 L608.8,211.2 L606.2,217.5 L600,221.2 L595,225 L596.2,231.2 L602.5,236.2 L608.8,240 L605,245 L597.5,251.2 L590,245 L585,237.5 L577.5,232.5 L570,227.5 L565,225 L566.2,221.2Z" fill="#fddfd0" stroke="#fddfd0" stroke-width="0.5"/>
<path d="M576.2,215.5 L580,211.2 L590,208.8 L596.2,206.2 L602.5,200 L608,203.8 L608.8,211.2 L606.2,217.5 L600,221.2 L595,225 L596.2,231.2 L602.5,236.2 L608.8,240 L605,245 L597.5,251.2 L590,245 L585,237.5 L577.5,232.5 L570,227.5 L565,225 L566.2,221.2 L576.2,215.5" fill="none" stroke="#8a6248" stroke-opacity="0.38" stroke-width="0.6"/>
<path d="M560,228.8 L566.2,221.2 L565,225 L570,227.5 L577.5,232.5 L585,237.5 L590,245 L597.5,251.2 L602.5,260 L605,270 L610,280 L630,290 L630,295 L570,295 L565,285 L557.5,280 L552.5,265 L551.2,255 L553.8,245 L556.2,235Z" fill="#fcc6a0" stroke="#fcc6a0" stroke-width="0.5"/>
<path d="M560,228.8 L566.2,221.2 L565,225 L570,227.5 L577.5,232.5 L585,237.5 L590,245 L597.5,251.2 L602.5,260 L605,270 L610,280 L630,290 M570,295 L565,285 L557.5,280 L552.5,265 L551.2,255 L553.8,245 L556.2,235 L560,228.8" fill="none" stroke="#8a6248" stroke-opacity="0.38" stroke-width="0.6"/>
<path d="M553.8,245 L560,240 L566.2,247.5 L570,255 L573.8,265 L570,275 L565,280 L557.5,280 L552.5,265 L551.2,255Z" fill="#fddfd0" stroke="#fddfd0" stroke-width="0.5"/>
<path d="M553.8,245 L560,240 L566.2,247.5 L570,255 L573.8,265 L570,275 L565,280 L557.5,280 L552.5,265 L551.2,255 L553.8,245" fill="none" stroke="#8a6248" stroke-opacity="0.38" stroke-width="0.6"/>
<path d="M602.5,260 L597.5,251.2 L605,245 L608.8,240 L613.8,246.2 L620,251.2 L627.5,252.5 L630,250 L637.5,250 L637.5,295 L630,290 L610,280 L605,270Z" fill="#fba46a" stroke="#fba46a" stroke-width="0.5"/>
<path d="M602.5,260 L597.5,251.2 L605,245 L608.8,240 L613.8,246.2 L620,251.2 L627.5,252.5 L630,250 M630,290 L610,280 L605,270 L602.5,260" fill="none" stroke="#8a6248" stroke-opacity="0.38" stroke-width="0.6"/>
<path d="M598.8,231.2 L606.2,234.5 L611.2,243.2 L600,245Z" fill="#fddfd0" stroke="#fddfd0" stroke-width="0.5"/>
<path d="M598.8,231.2 L606.2,234.5 L611.2,243.2 L600,245" fill="none" stroke="#8a6248" stroke-opacity="0.38" stroke-width="0.6"/>
<path d="M597.5,245 L611.2,245 L625,252.5 L635,248.8 L633.8,253.8 L637.5,261.2 L647.5,262.5 L642.5,270 L632.5,280 L618.8,287.5 L607.5,291.2 L600,292.5 L597.5,292.5Z" fill="#fba46a" stroke="#fba46a" stroke-width="0.5"/>
<path d="M597.5,245 L611.2,245 L625,252.5 L635,248.8 L633.8,253.8 L637.5,261.2 L647.5,262.5 L642.5,270 L632.5,280 L618.8,287.5 L607.5,291.2 L600,292.5" fill="none" stroke="#8a6248" stroke-opacity="0.38" stroke-width="0.6"/>
<path d="M635,247.5 L646.2,248 L645,253.8 L647.5,262.5 L637.5,261.2 L633.8,253.8Z" fill="#fcc6a0" stroke="#fcc6a0" stroke-width="0.5"/>
<path d="M635,247.5 L646.2,248 L645,253.8 L647.5,262.5 L637.5,261.2 L633.8,253.8 L635,247.5" fill="none" stroke="#8a6248" stroke-opacity="0.38" stroke-width="0.6"/>
<path d="M645,253.8 L646.2,248.8 L653.8,249.5 L663.8,258.2 L668.8,260 L666.2,266.2 L658.8,270 L651.2,267.5 L647.5,262.5Z" fill="#fddfd0" stroke="#fddfd0" stroke-width="0.5"/>
<path d="M645,253.8 L646.2,248.8 L653.8,249.5 L663.8,258.2 L668.8,260 L666.2,266.2 L658.8,270 L651.2,267.5 L647.5,262.5 L645,253.8" fill="none" stroke="#8a6248" stroke-opacity="0.38" stroke-width="0.6"/>
<path d="M642.5,270 L651.2,267.5 L658.8,270 L666.2,266.2 L668.8,260 L675,262.5 L676.2,272.5 L677.5,285 L670,287.5 L661.2,291.2 L653.8,287.5 L645,280Z" fill="#fcc6a0" stroke="#fcc6a0" stroke-width="0.5"/>
<path d="M642.5,270 L651.2,267.5 L658.8,270 L666.2,266.2 L668.8,260 L675,262.5 L676.2,272.5 L677.5,285 L670,287.5 L661.2,291.2 L653.8,287.5 L645,280 L642.5,270" fill="none" stroke="#8a6248" stroke-opacity="0.38" stroke-width="0.6"/>
<path d="M630,280 L637.5,276.2 L645,280 L653.8,287.5 L650,296.2 L640,298.8 L633.8,292.5Z" fill="#fddfd0" stroke="#fddfd0" stroke-width="0.5"/>
<path d="M630,280 L637.5,276.2 L645,280 L653.8,287.5 L650,296.2 L640,298.8 L633.8,292.5 L630,280" fill="none" stroke="#8a6248" stroke-opacity="0.38" stroke-width="0.6"/>
<path d="M610,290 L617.5,287.5 L625,295 L630,307.5 L632.5,316.2 L625,313.8 L615,305 L606.2,297.5Z" fill="#fddfd0" stroke="#fddfd0" stroke-width="0.5"/>
<path d="M610,290 L617.5,287.5 L625,295 L630,307.5 L632.5,316.2 L625,313.8 L615,305 L606.2,297.5 L610,290" fill="none" stroke="#8a6248" stroke-opacity="0.38" stroke-width="0.6"/>
<path d="M618.8,287.5 L630,280 L633.8,292.5 L640,298.8 L650,296.2 L657.5,300 L660,310 L653.8,317.5 L647.5,322.5 L632.5,316.2 L630,307.5 L625,295Z" fill="#fcc6a0" stroke="#fcc6a0" stroke-width="0.5"/>
<path d="M618.8,287.5 L630,280 L633.8,292.5 L640,298.8 L650,296.2 L657.5,300 L660,310 L653.8,317.5 L647.5,322.5 L632.5,316.2 L630,307.5 L625,295 L618.8,287.5" fill="none" stroke="#8a6248" stroke-opacity="0.38" stroke-width="0.6"/>
<path d="M671.2,257 L680,257.5 L687.5,260.8 L693.8,259 L696.2,266.2 L698.8,270 L697.5,275 L701.2,282.5 L703.8,288.8 L711.2,293.2 L718.8,295.8 L722.5,302.5 L723.8,310 L726.2,316.2 L720,321.2 L712.5,323.8 L693.8,327.5 L687.5,338.8 L683.8,342.5 L675,342.5 L672.5,336.2 L666.2,330 L668.8,325 L667.5,316.2 L660,310 L657.5,300 L661.2,291.2 L670,287.5 L677.5,285 L676.2,272.5 L675,262.5 L668.8,260Z" fill="#ffffff" stroke="#ffffff" stroke-width="0.5"/>
<path d="M671.2,257 L680,257.5 L687.5,260.8 L693.8,259 L696.2,266.2 L698.8,270 L697.5,275 L701.2,282.5 L703.8,288.8 L711.2,293.2 L718.8,295.8 L722.5,302.5 L723.8,310 L726.2,316.2 L720,321.2 L712.5,323.8 L693.8,327.5 L687.5,338.8 L683.8,342.5 M675,342.5 L672.5,336.2 L666.2,330 L668.8,325 L667.5,316.2 L660,310 L657.5,300 L661.2,291.2 L670,287.5 L677.5,285 L676.2,272.5 L675,262.5 L668.8,260 L671.2,257" fill="none" stroke="#8a6248" stroke-opacity="0.38" stroke-width="0.6"/>
<path d="M598.8,300 L608.8,305 L621.2,315 L625,320 L617.5,331.2 L615,337.5 L600,338.8Z" fill="#fba46a" stroke="#fba46a" stroke-width="0.5"/>
<path d="M598.8,300 L608.8,305 L621.2,315 L625,320 L617.5,331.2 L615,337.5 L600,338.8" fill="none" stroke="#8a6248" stroke-opacity="0.38" stroke-width="0.6"/>
<path d="M598.8,291.2 L603.8,293.8 L605,300 L600,302.5Z" fill="#f9801d" stroke="#f9801d" stroke-width="0.5"/>
<path d="M598.8,291.2 L603.8,293.8 L605,300 L600,302.5" fill="none" stroke="#8a6248" stroke-opacity="0.38" stroke-width="0.6"/>
<path d="M646.2,325 L657.5,327.5 L666.2,330 L672.5,336.2 L675,342.5 L647.5,342.5Z" fill="#fba46a" stroke="#fba46a" stroke-width="0.5"/>
<path d="M646.2,325 L657.5,327.5 L666.2,330 L672.5,336.2 L675,342.5 M647.5,342.5 L646.2,325" fill="none" stroke="#8a6248" stroke-opacity="0.38" stroke-width="0.6"/>
<path d="M617.5,331.2 L625,320 L632.5,322.5 L646.2,325 L647.5,342.5 L615,342.5 L615,337.5Z" fill="#fcc6a0" stroke="#fcc6a0" stroke-width="0.5"/>
<path d="M617.5,331.2 L625,320 L632.5,322.5 L646.2,325 L647.5,342.5 M615,342.5 L615,337.5 L617.5,331.2" fill="none" stroke="#8a6248" stroke-opacity="0.38" stroke-width="0.6"/>
<path d="M647.5,322.5 L653.8,317.5 L660,310 L667.5,316.2 L668.8,325 L666.2,330 L657.5,327.5Z" fill="#fcc6a0" stroke="#fcc6a0" stroke-width="0.5"/>
<path d="M647.5,322.5 L653.8,317.5 L660,310 L667.5,316.2 L668.8,325 L666.2,330 L657.5,327.5 L647.5,322.5" fill="none" stroke="#8a6248" stroke-opacity="0.38" stroke-width="0.6"/>
<path d="M90,337.5 L140,340 L142.5,350 L138.8,360 L130,361.2 L116.2,356.2 L105,352.5 L102.5,345Z" fill="#f9801d" stroke="#f9801d" stroke-width="0.5"/>
<path d="M140,340 L142.5,350 L138.8,360 L130,361.2 L116.2,356.2 L105,352.5 L102.5,345 L90,337.5" fill="none" stroke="#8a6248" stroke-opacity="0.38" stroke-width="0.6"/>
<path d="M140,340 L207.5,340 L203.8,361.2 L197.5,367.5 L195,365 L180,363.8 L167.5,357.5 L162.5,360 L163.8,372.5 L162.5,383.8 L157.5,390 L146.2,385 L136.2,370 L130,361.2 L138.8,360 L142.5,350Z" fill="#fba46a" stroke="#fba46a" stroke-width="0.5"/>
<path d="M207.5,340 L203.8,361.2 L197.5,367.5 L195,365 L180,363.8 L167.5,357.5 L162.5,360 L163.8,372.5 L162.5,383.8 L157.5,390 L146.2,385 L136.2,370 L130,361.2 L138.8,360 L142.5,350 L140,340" fill="none" stroke="#8a6248" stroke-opacity="0.38" stroke-width="0.6"/>
<path d="M162.5,358.8 L167.5,357.5 L180,363.8 L195,365 L197.5,370 L198.8,377.5 L196.2,383.8 L190,387.5 L187.5,400 L182.5,415 L178.8,420 L168.8,410 L157.5,393.8 L157.5,390 L162.5,383.8 L163.8,372.5 L162.5,365Z" fill="#fddfd0" stroke="#fddfd0" stroke-width="0.5"/>
<path d="M162.5,358.8 L167.5,357.5 L180,363.8 L195,365 L197.5,370 L198.8,377.5 L196.2,383.8 L190,387.5 L187.5,400 L182.5,415 L178.8,420 L168.8,410 L157.5,393.8 L157.5,390 L162.5,383.8 L163.8,372.5 L162.5,365 L162.5,358.8" fill="none" stroke="#8a6248" stroke-opacity="0.38" stroke-width="0.6"/>
<path d="M190,388.8 L196.2,385 L205,388.8 L215,392.5 L220,396.2 L218.8,405 L216.2,412.5 L210,417.5 L203.8,420 L202.5,428.8 L197.5,428.8 L192.5,423.8 L188.8,418 L182.5,415.5 L186.2,405 L187.5,397.5Z" fill="#ffffff" stroke="#ffffff" stroke-width="0.5"/>
<path d="M190,388.8 L196.2,385 L205,388.8 L215,392.5 L220,396.2 L218.8,405 L216.2,412.5 L210,417.5 L203.8,420 L202.5,428.8 L197.5,428.8 L192.5,423.8 L188.8,418 L182.5,415.5 L186.2,405 L187.5,397.5 L190,388.8" fill="none" stroke="#8a6248" stroke-opacity="0.38" stroke-width="0.6"/>
<path d="M207.5,340 L230,340 L230,352.5 L235,365 L238.8,377.5 L230,390 L220,393.8 L205,388.8 L197.5,384.5 L200,375 L203.8,362.5 L206.2,352.5Z" fill="#fba46a" stroke="#fba46a" stroke-width="0.5"/>
<path d="M230,340 L230,352.5 L235,365 L238.8,377.5 L230,390 L220,393.8 L205,388.8 L197.5,384.5 L200,375 L203.8,362.5 L206.2,352.5 L207.5,340" fill="none" stroke="#8a6248" stroke-opacity="0.38" stroke-width="0.6"/>
<path d="M230,340 L252.5,340 L260,350 L265,355 L266.2,365 L261.2,375 L260,385 L252.5,386.2 L238.8,377.5 L235,365 L230,352.5Z" fill="#f9801d" stroke="#f9801d" stroke-width="0.5"/>
<path d="M252.5,340 L260,350 L265,355 L266.2,365 L261.2,375 L260,385 L252.5,386.2 L238.8,377.5 L235,365 L230,352.5 L230,340" fill="none" stroke="#8a6248" stroke-opacity="0.38" stroke-width="0.6"/>
<path d="M266.2,365 L271.2,361.2 L273.8,370 L280,372.5 L280,383.8 L272.5,386.2 L265,388.8 L261.2,383.8 L261.2,375Z" fill="#b4520f" stroke="#b4520f" stroke-width="0.5"/>
<path d="M266.2,365 L271.2,361.2 L273.8,370 L280,372.5 M280,383.8 L272.5,386.2 L265,388.8 L261.2,383.8 L261.2,375 L266.2,365" fill="none" stroke="#e8b87a" stroke-opacity="0.55" stroke-width="0.6"/>
<path d="M252.5,340 L280,340 L280,352.5 L272.5,353.8 L270,361.2 L266.2,365 L265,355 L260,350Z" fill="#fcc6a0" stroke="#fcc6a0" stroke-width="0.5"/>
<path d="M280,352.5 L272.5,353.8 L270,361.2 L266.2,365 L265,355 L260,350 L252.5,340" fill="none" stroke="#8a6248" stroke-opacity="0.38" stroke-width="0.6"/>
<path d="M272.5,353.8 L280,352.5 L280,372.5 L273.8,370 L271.2,361.2Z" fill="#f9801d" stroke="#f9801d" stroke-width="0.5"/>
<path d="M272.5,353.8 L280,352.5 M280,372.5 L273.8,370 L271.2,361.2 L272.5,353.8" fill="none" stroke="#8a6248" stroke-opacity="0.38" stroke-width="0.6"/>
<path d="M230,390 L238.8,377.5 L252.5,386.2 L257.5,391.2 L252.5,396.2 L240,397.5 L232.5,395Z" fill="#fcc6a0" stroke="#fcc6a0" stroke-width="0.5"/>
<path d="M230,390 L238.8,377.5 L252.5,386.2 L257.5,391.2 L252.5,396.2 L240,397.5 L232.5,395 L230,390" fill="none" stroke="#8a6248" stroke-opacity="0.38" stroke-width="0.6"/>
<path d="M220,393.8 L230,390 L232.5,395 L240,397.5 L252.5,396.2 L258.8,405 L252.5,412.5 L246.2,422.5 L235,426.2 L225,428.8 L223.8,440 L225,450 L218.8,450 L211.2,445 L205,439.5 L202.5,428.8 L203.8,420 L210,417.5 L216.2,412.5 L218.8,405Z" fill="#fcc6a0" stroke="#fcc6a0" stroke-width="0.5"/>
<path d="M220,393.8 L230,390 L232.5,395 L240,397.5 L252.5,396.2 L258.8,405 L252.5,412.5 L246.2,422.5 L235,426.2 L225,428.8 L223.8,440 L225,450 L218.8,450 L211.2,445 L205,439.5 L202.5,428.8 L203.8,420 L210,417.5 L216.2,412.5 L218.8,405 L220,393.8" fill="none" stroke="#8a6248" stroke-opacity="0.38" stroke-width="0.6"/>
<path d="M252.5,396.2 L257.5,391.2 L260,385 L265,388.8 L280,383.8 L280,436.2 L273.8,433.8 L266.2,423.8 L258.8,420 L252.5,415 L258.8,405Z" fill="#fba46a" stroke="#fba46a" stroke-width="0.5"/>
<path d="M252.5,396.2 L257.5,391.2 L260,385 L265,388.8 L280,383.8 M280,436.2 L273.8,433.8 L266.2,423.8 L258.8,420 L252.5,415 L258.8,405 L252.5,396.2" fill="none" stroke="#8a6248" stroke-opacity="0.38" stroke-width="0.6"/>
<path d="M225,428.8 L235,426.2 L246.2,422.5 L252.5,415 L258.8,420 L266.2,423.8 L273.8,433.8 L280,437.5 L282.5,437.5 L282.5,480 L266.2,481.2 L252.5,476.2 L242.5,473.8 L233.8,470 L230,462.5 L225,455 L223.8,440Z" fill="#b4520f" stroke="#b4520f" stroke-width="0.5"/>
<path d="M225,428.8 L235,426.2 L246.2,422.5 L252.5,415 L258.8,420 L266.2,423.8 L273.8,433.8 L280,437.5 M266.2,481.2 L252.5,476.2 L242.5,473.8 L233.8,470 L230,462.5 L225,455 L223.8,440 L225,428.8" fill="none" stroke="#e8b87a" stroke-opacity="0.55" stroke-width="0.6"/>
<path d="M260,340 L272.5,340 L272.5,355 L267.5,360 L263.8,352.5 L260,351.2Z" fill="#fcc6a0" stroke="#fcc6a0" stroke-width="0.5"/>
<path d="M272.5,340 L272.5,355 L267.5,360 L263.8,352.5 L260,351.2" fill="none" stroke="#8a6248" stroke-opacity="0.38" stroke-width="0.6"/>
<path d="M260,351.2 L263.8,352.5 L267.5,360 L265,367.5 L260,372.5Z" fill="#f9801d" stroke="#f9801d" stroke-width="0.5"/>
<path d="M260,351.2 L263.8,352.5 L267.5,360 L265,367.5 L260,372.5" fill="none" stroke="#8a6248" stroke-opacity="0.38" stroke-width="0.6"/>
<path d="M272.5,340 L323.8,340 L322.5,355 L320,363.8 L310,362.5 L298.8,362.5 L288.8,363.8 L286.2,372.5 L280,370 L275,363.8 L272.5,355Z" fill="#f9801d" stroke="#f9801d" stroke-width="0.5"/>
<path d="M323.8,340 L322.5,355 L320,363.8 L310,362.5 L298.8,362.5 L288.8,363.8 L286.2,372.5 L280,370 L275,363.8 L272.5,355 L272.5,340" fill="none" stroke="#8a6248" stroke-opacity="0.38" stroke-width="0.6"/>
<path d="M323.8,340 L327.5,340 L325,345 L328.8,350 L337.5,350 L342.5,340 L420,340 L416.2,348.8 L417.5,356.2 L410,363.8 L405,367.5 L403.8,376.2 L396.2,378.8 L390,373.8 L378.8,371.2 L370,377.5 L361.2,377.5 L353.8,377.5 L346.2,375 L342.5,370 L333.8,366.2 L326.2,361.2 L322.5,355Z" fill="#f9801d" stroke="#f9801d" stroke-width="0.5"/>
<path d="M327.5,340 L325,345 L328.8,350 L337.5,350 L342.5,340 M420,340 L416.2,348.8 L417.5,356.2 L410,363.8 L405,367.5 L403.8,376.2 L396.2,378.8 L390,373.8 L378.8,371.2 L370,377.5 L361.2,377.5 L353.8,377.5 L346.2,375 L342.5,370 L333.8,366.2 L326.2,361.2 L322.5,355 L323.8,340" fill="none" stroke="#8a6248" stroke-opacity="0.38" stroke-width="0.6"/>
<path d="M327.5,340 L342.5,340 L337.5,350 L328.8,350 L325,345Z" fill="#fcc6a0" stroke="#fcc6a0" stroke-width="0.5"/>
<path d="M342.5,340 L337.5,350 L328.8,350 L325,345 L327.5,340" fill="none" stroke="#8a6248" stroke-opacity="0.38" stroke-width="0.6"/>
<path d="M265,367.5 L268.8,361.2 L275,365 L280,370 L286.2,372.5 L290,381.2 L292.5,387.5 L285,388.8 L275,386.2 L266.2,385 L261.2,377.5Z" fill="#b4520f" stroke="#b4520f" stroke-width="0.5"/>
<path d="M265,367.5 L268.8,361.2 L275,365 L280,370 L286.2,372.5 L290,381.2 L292.5,387.5 L285,388.8 L275,386.2 L266.2,385 L261.2,377.5 L265,367.5" fill="none" stroke="#e8b87a" stroke-opacity="0.55" stroke-width="0.6"/>
<path d="M258.8,372.5 L265,367.5 L261.2,377.5 L266.2,385 L275,386.2 L292.5,387.5 L297.5,397.5 L295,405 L300,415 L292.5,425 L285,436.2 L277.5,437.5 L270,430 L260,422.5 L258.8,422.5Z" fill="#fba46a" stroke="#fba46a" stroke-width="0.5"/>
<path d="M258.8,372.5 L265,367.5 L261.2,377.5 L266.2,385 L275,386.2 L292.5,387.5 L297.5,397.5 L295,405 L300,415 L292.5,425 L285,436.2 L277.5,437.5 L270,430 L260,422.5" fill="none" stroke="#8a6248" stroke-opacity="0.38" stroke-width="0.6"/>
<path d="M288.8,363.8 L320,363.8 L326.2,361.2 L346.2,375 L360,378.8 L361.2,390 L356.2,402.5 L362.5,412.5 L358.8,416.2 L350,419.5 L346.2,412.5 L333.8,410.5 L330.5,420 L330.5,440 L328.8,448.8 L321.2,445 L320,435 L310,427.5 L300,415 L295,405 L297.5,397.5 L292.5,387.5 L290,381.2 L286.2,372.5Z" fill="#fba46a" stroke="#fba46a" stroke-width="0.5"/>
<path d="M288.8,363.8 L320,363.8 L326.2,361.2 L346.2,375 L360,378.8 L361.2,390 L356.2,402.5 L362.5,412.5 L358.8,416.2 L350,419.5 L346.2,412.5 L333.8,410.5 L330.5,420 L330.5,440 L328.8,448.8 L321.2,445 L320,435 L310,427.5 L300,415 L295,405 L297.5,397.5 L292.5,387.5 L290,381.2 L286.2,372.5 L288.8,363.8" fill="none" stroke="#8a6248" stroke-opacity="0.38" stroke-width="0.6"/>
<path d="M300,415 L310,427.5 L320,435 L321.2,445 L313.8,447.5 L311.2,453.8 L306.2,460 L301.2,457.5 L295,447.5 L285,443.8 L278.8,438.8 L285,436.2 L292.5,425Z" fill="#fcc6a0" stroke="#fcc6a0" stroke-width="0.5"/>
<path d="M300,415 L310,427.5 L320,435 L321.2,445 L313.8,447.5 L311.2,453.8 L306.2,460 L301.2,457.5 L295,447.5 L285,443.8 L278.8,438.8 L285,436.2 L292.5,425 L300,415" fill="none" stroke="#8a6248" stroke-opacity="0.38" stroke-width="0.6"/>
<path d="M258.8,422.5 L270,430 L277.5,437.5 L278.8,438.8 L285,443.8 L295,447.5 L301.2,457.5 L306.2,460 L301.2,477.5 L285,471.2 L277.5,468.8 L271.2,471.2 L260,480 L258.8,480Z" fill="#b4520f" stroke="#b4520f" stroke-width="0.5"/>
<path d="M258.8,422.5 L270,430 L277.5,437.5 L278.8,438.8 L285,443.8 L295,447.5 L301.2,457.5 L306.2,460 L301.2,477.5 L285,471.2 L277.5,468.8 L271.2,471.2 L260,480" fill="none" stroke="#e8b87a" stroke-opacity="0.55" stroke-width="0.6"/>
<path d="M356.2,381.2 L360,378.8 L370,387.5 L385,392.5 L391.2,393.8 L392.5,400 L387.5,406.2 L385,412.5 L390,416.2 L392.5,421.2 L390,426.2 L385,423.8 L377.5,420 L370,416.2 L362.5,412.5 L356.2,402.5 L360,395Z" fill="#fddfd0" stroke="#fddfd0" stroke-width="0.5"/>
<path d="M356.2,381.2 L360,378.8 L370,387.5 L385,392.5 L391.2,393.8 L392.5,400 L387.5,406.2 L385,412.5 L390,416.2 L392.5,421.2 L390,426.2 L385,423.8 L377.5,420 L370,416.2 L362.5,412.5 L356.2,402.5 L360,395 L356.2,381.2" fill="none" stroke="#8a6248" stroke-opacity="0.38" stroke-width="0.6"/>
<path d="M370,377.5 L378.8,371.2 L390,373.8 L396.2,378.8 L403.8,376.2 L405,367.5 L410,363.8 L417.5,356.2 L430,358.8 L440,367.5 L445,377.5 L455,390 L460,395 L462.5,395 L462.5,451.2 L450,450 L432.5,442.5 L420,433.8 L410,435 L396.2,428.8 L390,426.2 L392.5,421.2 L385,412.5 L387.5,406.2 L392.5,400 L391.2,393.8 L385,392.5 L376.2,391.2 L370,386.2 L367.5,378.8Z" fill="#fcc6a0" stroke="#fcc6a0" stroke-width="0.5"/>
<path d="M370,377.5 L378.8,371.2 L390,373.8 L396.2,378.8 L403.8,376.2 L405,367.5 L410,363.8 L417.5,356.2 L430,358.8 L440,367.5 L445,377.5 L455,390 L460,395 M462.5,451.2 L450,450 L432.5,442.5 L420,433.8 L410,435 L396.2,428.8 L390,426.2 L392.5,421.2 L385,412.5 L387.5,406.2 L392.5,400 L391.2,393.8 L385,392.5 L376.2,391.2 L370,386.2 L367.5,378.8 L370,377.5" fill="none" stroke="#8a6248" stroke-opacity="0.38" stroke-width="0.6"/>
<path d="M440,373.8 L447.5,367.5 L457.5,370 L460,375 L460,393.8 L452.5,395 L446.2,387.5Z" fill="#fddfd0" stroke="#fddfd0" stroke-width="0.5"/>
<path d="M440,373.8 L447.5,367.5 L457.5,370 L460,375 M460,393.8 L452.5,395 L446.2,387.5 L440,373.8" fill="none" stroke="#8a6248" stroke-opacity="0.38" stroke-width="0.6"/>
<path d="M420,340 L460,340 L460,367.5 L450,363.8 L440,357.5 L430,357.5 L417.5,355 L416.2,348.8Z" fill="#ffffff" stroke="#ffffff" stroke-width="0.5"/>
<path d="M460,367.5 L450,363.8 L440,357.5 L430,357.5 L417.5,355 L416.2,348.8 L420,340" fill="none" stroke="#8a6248" stroke-opacity="0.38" stroke-width="0.6"/>
<path d="M440,340 L472.5,340 L471.2,356.2 L463.8,363.8 L461.2,371.2 L458.8,366.2 L452.5,363.8 L445,368.8 L440,367.5Z" fill="#ffffff" stroke="#ffffff" stroke-width="0.5"/>
<path d="M472.5,340 L471.2,356.2 L463.8,363.8 L461.2,371.2 L458.8,366.2 L452.5,363.8 L445,368.8 L440,367.5" fill="none" stroke="#8a6248" stroke-opacity="0.38" stroke-width="0.6"/>
<path d="M440,367.5 L445,368.8 L452.5,363.8 L458.8,366.2 L461.2,371.2 L463.8,378.8 L461.2,386.2 L460,393.8 L456.2,398.8 L450,396.2 L445,388.8 L440,381.2Z" fill="#fddfd0" stroke="#fddfd0" stroke-width="0.5"/>
<path d="M440,367.5 L445,368.8 L452.5,363.8 L458.8,366.2 L461.2,371.2 L463.8,378.8 L461.2,386.2 L460,393.8 L456.2,398.8 L450,396.2 L445,388.8 L440,381.2" fill="none" stroke="#8a6248" stroke-opacity="0.38" stroke-width="0.6"/>
<path d="M440,381.2 L445,388.8 L450,396.2 L456.2,398.8 L448.8,403.8 L440,405Z" fill="#fcc6a0" stroke="#fcc6a0" stroke-width="0.5"/>
<path d="M440,381.2 L445,388.8 L450,396.2 L456.2,398.8 L448.8,403.8 L440,405" fill="none" stroke="#8a6248" stroke-opacity="0.38" stroke-width="0.6"/>
<path d="M440,405 L448.8,403.8 L456.2,398.8 L462.5,396.2 L477.5,401.2 L481.2,407.5 L478.8,415 L480,426.2 L481.2,438.8 L478.8,447.5 L472.5,452.5 L450,451.2 L440,447.5Z" fill="#fcc6a0" stroke="#fcc6a0" stroke-width="0.5"/>
<path d="M440,405 L448.8,403.8 L456.2,398.8 L462.5,396.2 L477.5,401.2 L481.2,407.5 L478.8,415 L480,426.2 L481.2,438.8 L478.8,447.5 L472.5,452.5 L450,451.2 L440,447.5" fill="none" stroke="#8a6248" stroke-opacity="0.38" stroke-width="0.6"/>
<path d="M463.8,363.8 L471.2,367.5 L477.5,373.8 L480,381.2 L478.8,387.5 L483.8,391.2 L488.8,396.2 L487.5,402.5 L477.5,401.2 L462.5,396.2 L460,393.8 L461.2,386.2 L463.8,378.8 L461.2,371.2Z" fill="#ffffff" stroke="#ffffff" stroke-width="0.5"/>
<path d="M463.8,363.8 L471.2,367.5 L477.5,373.8 L480,381.2 L478.8,387.5 L483.8,391.2 L488.8,396.2 L487.5,402.5 L477.5,401.2 L462.5,396.2 L460,393.8 L461.2,386.2 L463.8,378.8 L461.2,371.2 L463.8,363.8" fill="none" stroke="#8a6248" stroke-opacity="0.38" stroke-width="0.6"/>
<path d="M471.2,356.2 L473.8,348.8 L472.5,340 L486.2,340 L490,350 L493.8,360 L485,361.2 L481.2,367.5 L477.5,373.8 L471.2,367.5 L463.8,363.8Z" fill="#fcc6a0" stroke="#fcc6a0" stroke-width="0.5"/>
<path d="M471.2,356.2 L473.8,348.8 L472.5,340 M486.2,340 L490,350 L493.8,360 L485,361.2 L481.2,367.5 L477.5,373.8 L471.2,367.5 L463.8,363.8 L471.2,356.2" fill="none" stroke="#8a6248" stroke-opacity="0.38" stroke-width="0.6"/>
<path d="M486.2,340 L517.5,340 L517.5,346.2 L522.5,347.5 L527.5,340 L536.2,340 L538.8,347.5 L545,353.8 L551.2,357.5 L553.8,363.8 L552.5,371.2 L555,378.8 L557.5,383.8 L553.8,388.8 L550,392.5 L541.2,393.8 L535,392.5 L531.2,396.2 L525,401.2 L518.8,400 L515,393.8 L506.2,393.8 L498.8,396.2 L488.8,396.2 L483.8,391.2 L478.8,387.5 L480,381.2 L477.5,373.8 L481.2,367.5 L485,361.2 L493.8,360 L490,350Z" fill="#fba46a" stroke="#fba46a" stroke-width="0.5"/>
<path d="M517.5,340 L517.5,346.2 L522.5,347.5 L527.5,340 M536.2,340 L538.8,347.5 L545,353.8 L551.2,357.5 L553.8,363.8 L552.5,371.2 L555,378.8 L557.5,383.8 L553.8,388.8 L550,392.5 L541.2,393.8 L535,392.5 L531.2,396.2 L525,401.2 L518.8,400 L515,393.8 L506.2,393.8 L498.8,396.2 L488.8,396.2 L483.8,391.2 L478.8,387.5 L480,381.2 L477.5,373.8 L481.2,367.5 L485,361.2 L493.8,360 L490,350 L486.2,340" fill="none" stroke="#8a6248" stroke-opacity="0.38" stroke-width="0.6"/>
<path d="M516.2,382.5 L525,381.2 L531.2,385 L531.2,392.5 L535,393.8 L531.2,396.2 L526.2,400 L520,401.2 L517.5,393.8 L513.8,390Z" fill="#b4520f" stroke="#b4520f" stroke-width="0.5"/>
<path d="M516.2,382.5 L525,381.2 L531.2,385 L531.2,392.5 L535,393.8 L531.2,396.2 L526.2,400 L520,401.2 L517.5,393.8 L513.8,390 L516.2,382.5" fill="none" stroke="#e8b87a" stroke-opacity="0.55" stroke-width="0.6"/>
<path d="M488.8,396.2 L498.8,396.2 L506.2,393.8 L515,393.8 L518.8,400 L517.5,403.8 L507.5,406.2 L501.2,412.5 L498.8,417.5 L493.8,412.5 L487.5,407.5 L487.5,402.5Z" fill="#fcc6a0" stroke="#fcc6a0" stroke-width="0.5"/>
<path d="M488.8,396.2 L498.8,396.2 L506.2,393.8 L515,393.8 L518.8,400 L517.5,403.8 L507.5,406.2 L501.2,412.5 L498.8,417.5 L493.8,412.5 L487.5,407.5 L487.5,402.5 L488.8,396.2" fill="none" stroke="#8a6248" stroke-opacity="0.38" stroke-width="0.6"/>
<path d="M478.8,407.5 L487.5,406.2 L493.8,412.5 L500,416.2 L498.8,427.5 L490,427.5 L480,426.2 L478.8,415Z" fill="#fba46a" stroke="#fba46a" stroke-width="0.5"/>
<path d="M478.8,407.5 L487.5,406.2 L493.8,412.5 L500,416.2 L498.8,427.5 L490,427.5 L480,426.2 L478.8,415 L478.8,407.5" fill="none" stroke="#8a6248" stroke-opacity="0.38" stroke-width="0.6"/>
<path d="M501.2,412.5 L507.5,406.2 L517.5,403.8 L526.2,405 L531.2,412.5 L532.5,420 L528.8,426.2 L520,428.8 L512.5,426.2 L498.8,427.5 L500,416.2Z" fill="#fcc6a0" stroke="#fcc6a0" stroke-width="0.5"/>
<path d="M501.2,412.5 L507.5,406.2 L517.5,403.8 L526.2,405 L531.2,412.5 L532.5,420 L528.8,426.2 L520,428.8 L512.5,426.2 L498.8,427.5 L500,416.2 L501.2,412.5" fill="none" stroke="#8a6248" stroke-opacity="0.38" stroke-width="0.6"/>
<path d="M480,426.2 L498.8,427.5 L512.5,426.2 L511.2,435 L508.8,447.5 L506.2,447.5 L498.8,445 L491.2,442.5 L483.8,441.2 L481.2,440Z" fill="#fddfd0" stroke="#fddfd0" stroke-width="0.5"/>
<path d="M480,426.2 L498.8,427.5 L512.5,426.2 L511.2,435 L508.8,447.5 L506.2,447.5 L498.8,445 L491.2,442.5 L483.8,441.2 L481.2,440 L480,426.2" fill="none" stroke="#8a6248" stroke-opacity="0.38" stroke-width="0.6"/>
<path d="M512.5,426.2 L520,428.8 L528.8,432.5 L535,438.8 L546.2,437.5 L550,436.2 L546.2,445 L542.5,450 L538.8,456.2 L536.2,463.8 L532.5,470 L530,461.2 L525,456.2 L516.2,453.8 L508,452.5 L508.8,446.2 L511.2,435Z" fill="#fba46a" stroke="#fba46a" stroke-width="0.5"/>
<path d="M512.5,426.2 L520,428.8 L528.8,432.5 L535,438.8 L546.2,437.5 L550,436.2 L546.2,445 L542.5,450 L538.8,456.2 L536.2,463.8 L532.5,470 L530,461.2 L525,456.2 L516.2,453.8 L508,452.5 L508.8,446.2 L511.2,435 L512.5,426.2" fill="none" stroke="#8a6248" stroke-opacity="0.38" stroke-width="0.6"/>
<path d="M526.2,405 L531.2,396.2 L535,393.8 L541.2,393.8 L543.8,390 L550,393.8 L557.5,393.8 L562.5,400 L568.8,405 L571.2,412.5 L567.5,420 L557.5,421.2 L550,420 L540,420 L532.5,420 L531.2,412.5Z" fill="#ffffff" stroke="#ffffff" stroke-width="0.5"/>
<path d="M526.2,405 L531.2,396.2 L535,393.8 L541.2,393.8 L543.8,390 L550,393.8 L557.5,393.8 L562.5,400 L568.8,405 L571.2,412.5 L567.5,420 L557.5,421.2 L550,420 L540,420 L532.5,420 L531.2,412.5 L526.2,405" fill="none" stroke="#8a6248" stroke-opacity="0.38" stroke-width="0.6"/>
<path d="M528.8,426.2 L532.5,420 L540,420 L550,420 L557.5,421.2 L565,425 L561.2,428 L555,431.8 L548.8,437 L535,438.8 L528.8,432.5Z" fill="#fddfd0" stroke="#fddfd0" stroke-width="0.5"/>
<path d="M528.8,426.2 L532.5,420 L540,420 L550,420 L557.5,421.2 L565,425 L561.2,428 L555,431.8 L548.8,437 L535,438.8 L528.8,432.5 L528.8,426.2" fill="none" stroke="#8a6248" stroke-opacity="0.38" stroke-width="0.6"/>
<path d="M567.5,420 L571.2,412.5 L575,407.5 L581.2,411.2 L595,413.8 L598.8,420 L603.8,426.2 L602.5,429.5 L596.2,434.5 L583.8,435.8 L575,435.8 L568.8,430.8 L565,425Z" fill="#fcc6a0" stroke="#fcc6a0" stroke-width="0.5"/>
<path d="M567.5,420 L571.2,412.5 L575,407.5 L581.2,411.2 L595,413.8 L598.8,420 L603.8,426.2 L602.5,429.5 L596.2,434.5 L583.8,435.8 L575,435.8 L568.8,430.8 L565,425 L567.5,420" fill="none" stroke="#8a6248" stroke-opacity="0.38" stroke-width="0.6"/>
<path d="M553.8,363.8 L562.5,361.2 L570,357.5 L572.5,348.8 L576.2,345 L581.2,348.8 L587.5,346.2 L590,355 L587.5,365 L585,372.5 L580,377.5 L570,381.2 L562.5,387.5 L557.5,393.8 L553.8,388.8 L557.5,383.8 L555,378.8 L552.5,371.2Z" fill="#fddfd0" stroke="#fddfd0" stroke-width="0.5"/>
<path d="M553.8,363.8 L562.5,361.2 L570,357.5 L572.5,348.8 L576.2,345 L581.2,348.8 L587.5,346.2 L590,355 L587.5,365 L585,372.5 L580,377.5 L570,381.2 L562.5,387.5 L557.5,393.8 L553.8,388.8 L557.5,383.8 L555,378.8 L552.5,371.2 L553.8,363.8" fill="none" stroke="#8a6248" stroke-opacity="0.38" stroke-width="0.6"/>
<path d="M557.5,393.8 L562.5,387.5 L570,381.2 L580,377.5 L585,381.2 L590,387.5 L602.5,386.2 L605,392.5 L600,396.2 L595,402.5 L595,413.8 L581.2,411.2 L568.8,405 L562.5,400Z" fill="#fcc6a0" stroke="#fcc6a0" stroke-width="0.5"/>
<path d="M557.5,393.8 L562.5,387.5 L570,381.2 L580,377.5 L585,381.2 L590,387.5 L602.5,386.2 L605,392.5 L600,396.2 L595,402.5 L595,413.8 L581.2,411.2 L568.8,405 L562.5,400 L557.5,393.8" fill="none" stroke="#8a6248" stroke-opacity="0.38" stroke-width="0.6"/>
<path d="M580,377.5 L585,372.5 L587.5,365 L592.5,366.2 L596.2,375 L598.8,383.8 L590,387.5 L585,381.2Z" fill="#f9801d" stroke="#f9801d" stroke-width="0.5"/>
<path d="M580,377.5 L585,372.5 L587.5,365 L592.5,366.2 L596.2,375 L598.8,383.8 L590,387.5 L585,381.2 L580,377.5" fill="none" stroke="#8a6248" stroke-opacity="0.38" stroke-width="0.6"/>
<path d="M592.5,366.2 L600,358.8 L610,353.8 L620,352.5 L617.5,362.5 L618.8,372.5 L623.8,377.5 L618.8,382.5 L612.5,385 L610,392.5 L605,392.5 L602.5,386.2 L598.8,383.8 L596.2,375Z" fill="#fba46a" stroke="#fba46a" stroke-width="0.5"/>
<path d="M592.5,366.2 L600,358.8 L610,353.8 L620,352.5 L617.5,362.5 L618.8,372.5 L623.8,377.5 L618.8,382.5 L612.5,385 L610,392.5 L605,392.5 L602.5,386.2 L598.8,383.8 L596.2,375 L592.5,366.2" fill="none" stroke="#8a6248" stroke-opacity="0.38" stroke-width="0.6"/>
<path d="M620,356.2 L627.5,356.2 L633.8,367.5 L632.5,375 L625,377.5 L618.8,372.5 L617.5,362.5Z" fill="#f9801d" stroke="#f9801d" stroke-width="0.5"/>
<path d="M620,356.2 L627.5,356.2 L633.8,367.5 L632.5,375 L625,377.5 L618.8,372.5 L617.5,362.5 L620,356.2" fill="none" stroke="#8a6248" stroke-opacity="0.38" stroke-width="0.6"/>
<path d="M587.5,346.2 L601.2,343.8 L602.5,352.5 L600,358.8 L592.5,366.2 L587.5,365 L590,355Z" fill="#fcc6a0" stroke="#fcc6a0" stroke-width="0.5"/>
<path d="M587.5,346.2 L601.2,343.8 L602.5,352.5 L600,358.8 L592.5,366.2 L587.5,365 L590,355 L587.5,346.2" fill="none" stroke="#8a6248" stroke-opacity="0.38" stroke-width="0.6"/>
<path d="M602.5,340 L620,340 L622.5,347.5 L620,352.5 L610,353.8 L602.5,352.5 L601.2,343.8Z" fill="#fddfd0" stroke="#fddfd0" stroke-width="0.5"/>
<path d="M620,340 L622.5,347.5 L620,352.5 L610,353.8 L602.5,352.5 L601.2,343.8 L602.5,340" fill="none" stroke="#8a6248" stroke-opacity="0.38" stroke-width="0.6"/>
<path d="M610,392.5 L612.5,385 L618.8,382.5 L623.8,377.5 L630,381.2 L635,390 L636.2,395 L630,397.5 L620,395 L612.5,396.2Z" fill="#fcc6a0" stroke="#fcc6a0" stroke-width="0.5"/>
<path d="M610,392.5 L612.5,385 L618.8,382.5 L623.8,377.5 L630,381.2 L635,390 L636.2,395 L630,397.5 L620,395 L612.5,396.2 L610,392.5" fill="none" stroke="#8a6248" stroke-opacity="0.38" stroke-width="0.6"/>
<path d="M595,402.5 L600,396.2 L605,392.5 L612.5,396.2 L620,395 L630,397.5 L633.8,407.5 L630,415 L623.8,420.5 L613.8,425.8 L606.2,427 L598.8,420 L595,413.8Z" fill="#ffffff" stroke="#ffffff" stroke-width="0.5"/>
<path d="M595,402.5 L600,396.2 L605,392.5 L612.5,396.2 L620,395 L630,397.5 L633.8,407.5 L630,415 L623.8,420.5 L613.8,425.8 L606.2,427 L598.8,420 L595,413.8 L595,402.5" fill="none" stroke="#8a6248" stroke-opacity="0.38" stroke-width="0.6"/>
<path d="M561.2,340 L602.5,340 L601.2,343.8 L587.5,346.2 L581.2,348.8 L576.2,345 L572.5,348.8 L570,357.5 L562.5,361.2 L561.2,352.5 L563.8,345Z" fill="#fba46a" stroke="#fba46a" stroke-width="0.5"/>
<path d="M602.5,340 L601.2,343.8 L587.5,346.2 L581.2,348.8 L576.2,345 L572.5,348.8 L570,357.5 L562.5,361.2 L561.2,352.5 L563.8,345 L561.2,340" fill="none" stroke="#8a6248" stroke-opacity="0.38" stroke-width="0.6"/>
<path d="M536.2,340 L561.2,340 L563.8,345 L561.2,352.5 L562.5,361.2 L553.8,363.8 L551.2,357.5 L545,353.8 L538.8,347.5Z" fill="#fcc6a0" stroke="#fcc6a0" stroke-width="0.5"/>
<path d="M561.2,340 L563.8,345 L561.2,352.5 L562.5,361.2 L553.8,363.8 L551.2,357.5 L545,353.8 L538.8,347.5 L536.2,340" fill="none" stroke="#8a6248" stroke-opacity="0.38" stroke-width="0.6"/>
<path d="M622.5,340 L640,340 L640,372.5 L633.8,367.5 L627.5,356.2 L620,352.5 L622.5,347.5Z" fill="#fcc6a0" stroke="#fcc6a0" stroke-width="0.5"/>
<path d="M640,372.5 L633.8,367.5 L627.5,356.2 L620,352.5 L622.5,347.5 L622.5,340" fill="none" stroke="#8a6248" stroke-opacity="0.38" stroke-width="0.6"/>
<path d="M560,300 L603.8,300 L597.5,307.5 L595,316.2 L585,318.8 L575,326.2 L568.8,333.8 L565,340 L560,337.5Z" fill="#f9801d" stroke="#f9801d" stroke-width="0.5"/>
<path d="M603.8,300 L597.5,307.5 L595,316.2 L585,318.8 L575,326.2 L568.8,333.8 L565,340 L560,337.5" fill="none" stroke="#8a6248" stroke-opacity="0.38" stroke-width="0.6"/>
<path d="M603.8,300 L610,300 L620,311.2 L626.2,317.5 L621.2,327.5 L616.2,333.8 L608.8,337.5 L600,340 L595,345 L586.2,348.8 L578.8,347.5 L573.8,345 L571.2,350 L568.8,357.5 L560,361.2 L560,337.5 L565,340 L568.8,333.8 L575,326.2 L585,318.8 L595,316.2 L597.5,307.5Z" fill="#fba46a" stroke="#fba46a" stroke-width="0.5"/>
<path d="M610,300 L620,311.2 L626.2,317.5 L621.2,327.5 L616.2,333.8 L608.8,337.5 L600,340 L595,345 L586.2,348.8 L578.8,347.5 L573.8,345 L571.2,350 L568.8,357.5 L560,361.2 M560,337.5 L565,340 L568.8,333.8 L575,326.2 L585,318.8 L595,316.2 L597.5,307.5 L603.8,300" fill="none" stroke="#8a6248" stroke-opacity="0.38" stroke-width="0.6"/>
<path d="M610,300 L658.8,300 L660,312.5 L652.5,315 L647.5,320 L653.8,323.8 L645,325 L635,325 L628.8,323.8 L626.2,317.5 L620,311.2Z" fill="#fcc6a0" stroke="#fcc6a0" stroke-width="0.5"/>
<path d="M658.8,300 L660,312.5 L652.5,315 L647.5,320 L653.8,323.8 L645,325 L635,325 L628.8,323.8 L626.2,317.5 L620,311.2 L610,300" fill="none" stroke="#8a6248" stroke-opacity="0.38" stroke-width="0.6"/>
<path d="M652.5,315 L660,312.5 L667.5,315 L670,321.2 L667.5,327.5 L660,326.2 L653.8,323.8 L647.5,320Z" fill="#fddfd0" stroke="#fddfd0" stroke-width="0.5"/>
<path d="M652.5,315 L660,312.5 L667.5,315 L670,321.2 L667.5,327.5 L660,326.2 L653.8,323.8 L647.5,320 L652.5,315" fill="none" stroke="#8a6248" stroke-opacity="0.38" stroke-width="0.6"/>
<path d="M658.8,300 L720,298.8 L727.5,316.2 L710,325 L695,328.8 L686.2,341.2 L677.5,340 L667.5,330 L670,321.2 L667.5,315 L660,312.5Z" fill="#ffffff" stroke="#ffffff" stroke-width="0.5"/>
<path d="M720,298.8 L727.5,316.2 L710,325 L695,328.8 L686.2,341.2 L677.5,340 L667.5,330 L670,321.2 L667.5,315 L660,312.5 L658.8,300" fill="none" stroke="#8a6248" stroke-opacity="0.38" stroke-width="0.6"/>
<path d="M621.2,327.5 L628.8,323.8 L645,325 L646.2,332.5 L648.8,341.2 L642.5,341.2 L632.5,341.2 L625,345 L622.5,341.2 L618.8,336.2Z" fill="#fcc6a0" stroke="#fcc6a0" stroke-width="0.5"/>
<path d="M621.2,327.5 L628.8,323.8 L645,325 L646.2,332.5 L648.8,341.2 L642.5,341.2 L632.5,341.2 L625,345 L622.5,341.2 L618.8,336.2 L621.2,327.5" fill="none" stroke="#8a6248" stroke-opacity="0.38" stroke-width="0.6"/>
<path d="M645,325 L653.8,323.8 L660,326.2 L667.5,330 L673.8,336.2 L676.2,341.2 L665,342.5 L656.2,346.2 L650,346.2 L646.2,332.5Z" fill="#fba46a" stroke="#fba46a" stroke-width="0.5"/>
<path d="M645,325 L653.8,323.8 L660,326.2 L667.5,330 L673.8,336.2 L676.2,341.2 L665,342.5 L656.2,346.2 L650,346.2 L646.2,332.5 L645,325" fill="none" stroke="#8a6248" stroke-opacity="0.38" stroke-width="0.6"/>
<path d="M625,345 L632.5,341.2 L648.8,341.2 L650,346.2 L656.2,346.2 L665,342.5 L676.2,341.2 L682.5,343 L681.2,349.5 L674.5,354.5 L665.5,358.2 L659.5,363 L655.8,371.2 L653.8,380 L642.5,380 L635,373.8 L633.8,363.8 L627.5,356.2 L621.2,355 L613.8,352.5Z" fill="#fcc6a0" stroke="#fcc6a0" stroke-width="0.5"/>
<path d="M625,345 L632.5,341.2 L648.8,341.2 L650,346.2 L656.2,346.2 L665,342.5 L676.2,341.2 L682.5,343 L681.2,349.5 L674.5,354.5 L665.5,358.2 L659.5,363 L655.8,371.2 L653.8,380 L642.5,380 L635,373.8 L633.8,363.8 L627.5,356.2 L621.2,355 L613.8,352.5 L625,345" fill="none" stroke="#8a6248" stroke-opacity="0.38" stroke-width="0.6"/>
<path d="M601.2,341.2 L608.8,337.5 L616.2,333.8 L621.2,336.2 L625,345 L613.8,352.5 L606.2,355 L601.2,348.8Z" fill="#fddfd0" stroke="#fddfd0" stroke-width="0.5"/>
<path d="M601.2,341.2 L608.8,337.5 L616.2,333.8 L621.2,336.2 L625,345 L613.8,352.5 L606.2,355 L601.2,348.8 L601.2,341.2" fill="none" stroke="#8a6248" stroke-opacity="0.38" stroke-width="0.6"/>
<path d="M588.8,348.8 L595,345 L601.2,348.8 L606.2,355 L600,362.5 L593.8,366.2 L590,358.8Z" fill="#fcc6a0" stroke="#fcc6a0" stroke-width="0.5"/>
<path d="M588.8,348.8 L595,345 L601.2,348.8 L606.2,355 L600,362.5 L593.8,366.2 L590,358.8 L588.8,348.8" fill="none" stroke="#8a6248" stroke-opacity="0.38" stroke-width="0.6"/>
<path d="M560,361.2 L568.8,357.5 L573.8,345 L578.8,347.5 L586.2,348.8 L590,358.8 L588.8,366.2 L580,377.5 L572.5,381.2 L563.8,386.2 L560,385Z" fill="#fddfd0" stroke="#fddfd0" stroke-width="0.5"/>
<path d="M560,361.2 L568.8,357.5 L573.8,345 L578.8,347.5 L586.2,348.8 L590,358.8 L588.8,366.2 L580,377.5 L572.5,381.2 L563.8,386.2 L560,385" fill="none" stroke="#8a6248" stroke-opacity="0.38" stroke-width="0.6"/>
<path d="M593.8,366.2 L600,362.5 L606.2,355 L613.8,352.5 L621.2,355 L617.5,365 L620,376.2 L613.8,383.8 L610,391.2 L605,388.8 L601.2,382.5 L597.5,375Z" fill="#fba46a" stroke="#fba46a" stroke-width="0.5"/>
<path d="M593.8,366.2 L600,362.5 L606.2,355 L613.8,352.5 L621.2,355 L617.5,365 L620,376.2 L613.8,383.8 L610,391.2 L605,388.8 L601.2,382.5 L597.5,375 L593.8,366.2" fill="none" stroke="#8a6248" stroke-opacity="0.38" stroke-width="0.6"/>
<path d="M621.2,355 L627.5,356.2 L633.8,363.8 L635,373.8 L627.5,377.5 L620,376.2 L617.5,365Z" fill="#f9801d" stroke="#f9801d" stroke-width="0.5"/>
<path d="M621.2,355 L627.5,356.2 L633.8,363.8 L635,373.8 L627.5,377.5 L620,376.2 L617.5,365 L621.2,355" fill="none" stroke="#8a6248" stroke-opacity="0.38" stroke-width="0.6"/>
<path d="M580,377.5 L588.8,366.2 L593.8,366.2 L597.5,375 L598.8,383.8 L591.2,387.5 L585,383.8Z" fill="#f9801d" stroke="#f9801d" stroke-width="0.5"/>
<path d="M580,377.5 L588.8,366.2 L593.8,366.2 L597.5,375 L598.8,383.8 L591.2,387.5 L585,383.8 L580,377.5" fill="none" stroke="#8a6248" stroke-opacity="0.38" stroke-width="0.6"/>
<path d="M563.8,386.2 L572.5,381.2 L580,377.5 L585,383.8 L591.2,387.5 L598.8,383.8 L605,388.8 L603.8,392.5 L596.2,398.8 L593.8,407.5 L597.5,417.5 L590,415 L581.2,412.5 L572.5,407.5 L565,402.5 L560,396.2Z" fill="#fcc6a0" stroke="#fcc6a0" stroke-width="0.5"/>
<path d="M563.8,386.2 L572.5,381.2 L580,377.5 L585,383.8 L591.2,387.5 L598.8,383.8 L605,388.8 L603.8,392.5 L596.2,398.8 L593.8,407.5 L597.5,417.5 L590,415 L581.2,412.5 L572.5,407.5 L565,402.5 L560,396.2 L563.8,386.2" fill="none" stroke="#8a6248" stroke-opacity="0.38" stroke-width="0.6"/>
<path d="M610,391.2 L613.8,383.8 L620,376.2 L627.5,377.5 L631.2,386.2 L635,393.8 L630,398.8 L622.5,396.2 L613.8,397.5Z" fill="#fcc6a0" stroke="#fcc6a0" stroke-width="0.5"/>
<path d="M610,391.2 L613.8,383.8 L620,376.2 L627.5,377.5 L631.2,386.2 L635,393.8 L630,398.8 L622.5,396.2 L613.8,397.5 L610,391.2" fill="none" stroke="#8a6248" stroke-opacity="0.38" stroke-width="0.6"/>
<path d="M627.5,377.5 L635,373.8 L642.5,380 L653.8,380 L653.8,390 L648.2,398.2 L640.5,402 L634.2,404.5 L630,398.8 L635,393.8 L631.2,386.2Z" fill="#ffffff" stroke="#ffffff" stroke-width="0.5"/>
<path d="M627.5,377.5 L635,373.8 L642.5,380 L653.8,380 L653.8,390 L648.2,398.2 L640.5,402 L634.2,404.5 L630,398.8 L635,393.8 L631.2,386.2 L627.5,377.5" fill="none" stroke="#8a6248" stroke-opacity="0.38" stroke-width="0.6"/>
<path d="M596.2,398.8 L603.8,392.5 L610,391.2 L613.8,397.5 L622.5,396.2 L630,398.8 L634.2,404.5 L633.2,411.8 L628,418.2 L620.5,422 L613,425.8 L606.8,429.5 L602.5,425 L597.5,417.5 L593.8,407.5Z" fill="#ffffff" stroke="#ffffff" stroke-width="0.5"/>
<path d="M596.2,398.8 L603.8,392.5 L610,391.2 L613.8,397.5 L622.5,396.2 L630,398.8 L634.2,404.5 L633.2,411.8 L628,418.2 L620.5,422 L613,425.8 L606.8,429.5 L602.5,425 L597.5,417.5 L593.8,407.5 L596.2,398.8" fill="none" stroke="#8a6248" stroke-opacity="0.38" stroke-width="0.6"/>
<path d="M565,402.5 L572.5,407.5 L581.2,412.5 L597.5,417.5 L602.5,425 L606.8,429.5 L600,435 L585,436.2 L577.5,437.5 L570,433.8 L568.8,420 L571.2,413.8 L567.5,406.2Z" fill="#fcc6a0" stroke="#fcc6a0" stroke-width="0.5"/>
<path d="M565,402.5 L572.5,407.5 L581.2,412.5 L597.5,417.5 L602.5,425 L606.8,429.5 L600,435 L585,436.2 L577.5,437.5 L570,433.8 L568.8,420 L571.2,413.8 L567.5,406.2 L565,402.5" fill="none" stroke="#8a6248" stroke-opacity="0.38" stroke-width="0.6"/>
<path d="M560,407.5 L567.5,406.2 L571.2,413.8 L568.8,420 L560,423.8Z" fill="#ffffff" stroke="#ffffff" stroke-width="0.5"/>
<path d="M560,407.5 L567.5,406.2 L571.2,413.8 L568.8,420 L560,423.8" fill="none" stroke="#8a6248" stroke-opacity="0.38" stroke-width="0.6"/>
<path d="M317.5,169.5 L323.5,162 L331,163.5 L338.5,167.3 L343.8,174.8 L343,180 L338.5,183.8 L332.5,185.3 L329.5,180 L323.5,175.5 L318.3,173.3Z" fill="#f9801d" stroke="#f9801d" stroke-width="0.5"/>
<path d="M317.5,169.5 L323.5,162 L331,163.5 L338.5,167.3 L343.8,174.8 L343,180 L338.5,183.8 L332.5,185.3 L329.5,180 L323.5,175.5 L318.3,173.3 L317.5,169.5" fill="none" stroke="#8a6248" stroke-opacity="0.38" stroke-width="0.6"/>
<path d="M610,290 L617.5,287.5 L625,295 L630,307.5 L632.5,316.2 L625,313.8 L615,305 L606.2,297.5Z" fill="#fddfd0" stroke="#fddfd0" stroke-width="0.5"/>
<path d="M610,290 L617.5,287.5 L625,295 L630,307.5 L632.5,316.2 L625,313.8 L615,305 L606.2,297.5 L610,290" fill="none" stroke="#8a6248" stroke-opacity="0.38" stroke-width="0.6"/>
<path d="M597,243 L607.5,246.2 L602.5,252.5 L597.5,265 L590,280 L591.2,287.5 L580,285 L575,272 L576,260 L567.5,247.5 L562.5,227.5 L582.5,232.5 L592,243Z" fill="#fcc6a0" stroke="#fcc6a0" stroke-width="0.5"/>
<path d="M597,243 L607.5,246.2 L602.5,252.5 L597.5,265 L590,280 L591.2,287.5 L580,285 L575,272 L576,260 L567.5,247.5 L562.5,227.5 L582.5,232.5 L592,243 L597,243" fill="none" stroke="#8a6248" stroke-opacity="0.38" stroke-width="0.6"/>
<path d="M590,280 L597.5,265 L602.5,252.5 L607.5,246.2 L617.5,250 L627.5,252.5 L637.5,250 L647.5,262.5 L640,270 L630,277.5 L625,287.5 L612.5,292.5 L600,290 L591.2,287.5Z" fill="#fba46a" stroke="#fba46a" stroke-width="0.5"/>
<path d="M590,280 L597.5,265 L602.5,252.5 L607.5,246.2 L617.5,250 L627.5,252.5 L637.5,250 L647.5,262.5 L640,270 L630,277.5 L625,287.5 L612.5,292.5 L600,290 L591.2,287.5 L590,280" fill="none" stroke="#8a6248" stroke-opacity="0.38" stroke-width="0.6"/>
<path d="M415,200 L425.5,184.2 L430.8,187.8 L437.8,189.5 L434.2,200 L432.5,207 L422,207.9Z" fill="#fcc6a0" stroke="#fcc6a0" stroke-width="0.5"/>
<path d="M415,200 L425.5,184.2 L430.8,187.8 L437.8,189.5 L434.2,200 L432.5,207 L422,207.9 L415,200" fill="none" stroke="#8a6248" stroke-opacity="0.38" stroke-width="0.6"/>
<path d="M112.5,312.8 L119.5,309.2 L128.2,309.2 L130,316.2 L137,319.8 L142.2,325 L140.5,329.4 L133.5,333.8 L126.5,334.6 L117.8,333.8 L114.2,326.8 L110.8,319.8Z" fill="#b4520f" stroke="#b4520f" stroke-width="0.5"/>
<path d="M112.5,312.8 L119.5,309.2 L128.2,309.2 L130,316.2 L137,319.8 L142.2,325 L140.5,329.4 L133.5,333.8 L126.5,334.6 L117.8,333.8 L114.2,326.8 L110.8,319.8 L112.5,312.8" fill="none" stroke="#e8b87a" stroke-opacity="0.55" stroke-width="0.6"/>
<path d="M174.5,331 L179.5,320.5 L202.5,314.2 L207,321 L200,321.5 L193,325 L182.5,330.2 L175.5,333.8Z" fill="#fba46a" stroke="#fba46a" stroke-width="0.5"/>
<path d="M174.5,331 L179.5,320.5 L202.5,314.2 L207,321 L200,321.5 L193,325 L182.5,330.2 L175.5,333.8 L174.5,331" fill="none" stroke="#8a6248" stroke-opacity="0.38" stroke-width="0.6"/>
<g fill="none" stroke-linejoin="round">
<path d="M300,180 L302.5,187.5 L298.8,195 L300,202.5 L296.2,210 L305,213.8 L307.5,221.2 L303.8,225 L310,228.8 L308.8,235 L305,240 L307.5,247.5 L315,252.5 L322.5,252.5 L330,240" stroke="#e9b878" stroke-width="0.8"/>
<path d="M262.5,202.5 L272.5,205 L281.2,202.5 L282.5,210 L290,208.8 L296.2,210" stroke="#e9b878" stroke-width="0.8"/>
<path d="M272.5,205 L275,212.5 L282.5,220 L293.8,221.2 L296.2,210" stroke="#e9b878" stroke-width="0.8"/>
<path d="M261.2,205 L258.8,215 L261.2,222.5 L256.2,230 L253.8,237.5 L247.5,246.2" stroke="#e9b878" stroke-width="0.8"/>
<path d="M352.5,203.8 L345,201.2 L340,205 L330,212.5 L325,222.5 L322.5,232.5 L330,240" stroke="#e9b878" stroke-width="0.8"/>
<path d="M263.8,200 L272.5,205 L275,212.5 L272.5,220 L260,222.5 L255,232.5 L250,242.5 L247.5,250" stroke="#e9b878" stroke-width="0.8"/>
<path d="M275,212.5 L282.5,215 L292.5,217.5 L296.2,210 L300,202.5" stroke="#e9b878" stroke-width="0.8"/>
<path d="M296.2,210 L305,220 L310,227.5 L307.5,237.5 L315,235 L322.5,235 L330,236.2" stroke="#e9b878" stroke-width="0.8"/>
<path d="M307.5,237.5 L305,247.5 L310,252.5 L320,253.8 L326.2,258.8" stroke="#e9b878" stroke-width="0.8"/>
<path d="M287.5,256.2 L286.2,265 L285,273.8 L277.5,277.5 L275,282.5" stroke="#e9b878" stroke-width="0.8"/>
<path d="M285,273.8 L300,272.5 L312.5,273.8 L325,275" stroke="#e9b878" stroke-width="0.8"/>
<path d="M230,251.2 L243.8,246.2 L247.5,250 L252.5,257.5 L256.2,266.2 L252.5,273.8" stroke="#e9b878" stroke-width="0.8"/>
<path d="M104,191.4 L110.3,197.7 L116.6,203.9 L125.3,210.2 L135.4,206.4 L140.4,198.9" stroke="#e9b878" stroke-width="0.8"/>
<path d="M135,258.5 L147.5,262.2 L155,269.8 L162.5,274.8 L170,273.5 L180,274.8 L183.8,271" stroke="#e9b878" stroke-width="0.8"/>
<path d="M112.5,281 L115,293.5 L118.8,303.5 L117.5,308.5" stroke="#e9b878" stroke-width="0.8"/>
<path d="M87.5,314.8 L100,312.2 L111.2,311 L111.2,323.5 L117.5,333.5 L135,333.5 L143.8,326" stroke="#e9b878" stroke-width="0.8"/>
<path d="M275.6,437.8 L273,444.8 L269.5,451.8 L266,457 L267.8,465.8 L266.9,474.5" stroke="#e9b878" stroke-width="0.8"/>
<path d="M677.5,258.8 L682.5,265 L680,272.5 L685,277.5 L692.5,280 L695,286.2 L692.5,292.5 L688.8,300 L692.5,306.2 L700,310 L702.5,316.2 L700,322.5" stroke="#b9b4b0" stroke-width="0.8"/>
<path d="M680,272.5 L676.2,275" stroke="#b9b4b0" stroke-width="0.8"/>
<path d="M685,277.5 L680,285 L677.5,286.2" stroke="#b9b4b0" stroke-width="0.8"/>
<path d="M692.5,292.5 L700,295 L710,293.8" stroke="#b9b4b0" stroke-width="0.8"/>
<path d="M688.8,300 L680,303.8 L672.5,306.2 L668.8,310 L670,317.5 L675,320 L680,317.5 L681.2,307.5" stroke="#b9b4b0" stroke-width="0.8"/>
<path d="M700,310 L707.5,307.5 L712.5,303.8 L721.2,302.5" stroke="#b9b4b0" stroke-width="0.8"/>
<path d="M670,317.5 L668.8,325" stroke="#b9b4b0" stroke-width="0.8"/>
<path d="M437.5,306 L441.2,313.5 L438.8,321 L440,331 L445,338.5 L450,343.5" stroke="#b9b4b0" stroke-width="0.8"/>
<path d="M441.2,313.5 L450,316 L457.5,313.5 L462.5,314.8" stroke="#b9b4b0" stroke-width="0.8"/>
<path d="M450,316 L448.8,326 L453.8,333.5 L460,336 L466.2,339.8 L470,343.5" stroke="#b9b4b0" stroke-width="0.8"/>
</g>
<g fill="none" stroke="#120a04" stroke-width="1.8" stroke-linejoin="round" stroke-linecap="round">
<path d="M129.8,188.3 L132.64,189.52 L135.35,191 L137.88,192.89 L141,193.5 L143.3,197.3 L146.54,197.47 L149.77,197.78 L153,198 L154,201.06 L155.3,204 L156.04,206.97 L155.63,210 L155.59,213.01 L156,216 L156.32,219.46 L158.38,222.49 L158.5,226 L158.52,228.55 L158.56,231.1 L157.5,233.5 L158.87,236.93 L161.2,239.8"/>
<path d="M161.2,239.8 L159.69,242 L157.87,243.99 L156.31,246.15 L155,248.5 L152.61,249.57 L150.15,250.23 L147.5,249.8 L144.19,250.42 L140.88,251 L137.5,251 L134.75,251.75 L132.35,253.19 L129.92,254.59 L127.5,256 L126.17,258.45 L124.77,260.87 L123.8,263.5 L120.9,263.81 L118.14,262.96 L115.26,263.13 L112.5,262.2 L109.62,262 L107.17,264.02 L104.17,263.2 L101.68,265.03 L98.8,264.8 L95.53,265.69 L92.5,267.2 L89.63,267.76 L86.72,267.9 L83.8,268"/>
<path d="M161.2,239.8 L163.59,238.73 L166.2,238.5 L167.61,240.81 L169.27,242.91 L171.2,244.8 L173.8,243.5 L175.01,241.15 L175,238.5 L176.22,236.05 L177.95,234 L180,232.2 L180.2,229.55 L181.6,227.3 L183.98,225.53 L186.99,225.03 L189.1,222.73 L192,222 L195.02,220.82 L197.8,219.06 L201,218.3 L203.91,217.18 L206.97,216.65 L210,216 L213.08,216.71 L216.2,216.2 L219.23,214.7 L221.63,212.11 L225,211.2 L226.33,208.51 L227.81,205.91 L230,203.8 L232.72,203.56 L235.18,202.59 L237.5,201.2 L240.76,202.18 L244.09,202.65 L247.5,202.5 L250.83,202.94 L254.17,203.31 L257.5,202.5 L260.23,201.74 L262.31,199.64 L265,198.8 L267.19,196.61 L268.31,193.72 L270,191.2 L272.02,189.42 L273.42,187.14 L275,185 L276.56,182 L278.12,179.01 L280,176.2 L283.37,176.94 L286.75,177.61 L290,178.8 L292.98,177.48 L296.37,178.06 L299.48,177.38 L302.5,176.2 L305.56,174.81 L307.72,172.33 L310,170 L312.55,168.53 L315.24,167.28 L317.15,164.79 L320,163.8 L322.14,161.76 L323.8,159.3 L326.43,159.95 L329,160.8 L331.81,160.99 L334.3,162.3 L336.44,163.95 L337.74,166.33 L339.5,168.3 L341.81,169.99 L343.55,172.25 L345.5,174.3 L348.86,175.24 L352.3,175.8 L355.59,174.47 L359,173.5 L362.54,173.6 L365.8,175 L369.16,176.48 L372.5,178 L375.5,178.8 L376.35,176.3 L377.62,174.03 L379.3,172 L382.3,170.5 L384.5,171.57 L386,173.5 L388.77,173.26 L391.53,172.73 L394.3,173.5 L393.41,170.06 L392,166.8 L392.06,163.82 L390.34,161.32 L389.8,158.5 L389.93,155.47 L390.04,152.43 L389,149.5 L387.69,146.64 L387.36,143.61 L387.5,140.5 L387.28,137.37 L386,134.5 L386.5,133"/>
<path d="M295,121.3 L292.5,122.5 L290.32,124.39 L287.34,124.69 L284.88,126.04 L282.14,126.83 L280,128.8 L279.78,131.69 L279.18,134.5 L277.71,137.11 L277.5,140 L274.84,141.43 L272.7,143.63 L270,145 L269.27,147.89 L269.38,150.89 L268.8,153.8 L269.91,156.84 L272.5,159.07 L273.89,161.96 L275,165 L275.59,168.09 L277.73,170.5 L279.14,173.22 L280,176.2"/>
<path d="M171.2,244.8 L173.72,247.19 L177.5,247.37 L180,249.8 L182.31,251.43 L185.28,251.75 L187.11,254.33 L190,254.8 L192.89,255.27 L194.69,257.91 L197.35,258.84 L200,259.8 L202.38,260.9 L204.83,261.62 L207.5,261.2 L210.33,263.37 L212.5,266.2 L213.22,269.09 L213,272.12 L213.8,275 L213.76,277.99 L213.35,280.93 L212.5,283.8 L212.14,286.83 L210.21,289.42 L210,292.5 L207.1,293.81 L205,296.2 L202.18,297.67 L200,300 L200.5,302.5 L200,305 L200.11,307.74 L201.65,310.01 L202.5,312.5 L203.79,314.85 L204.24,317.47 L205,320 L205.54,322.81 L206.55,325.56 L206.2,328.5 L206.08,331.83 L206.45,335.17 L206.2,338.5 L206.07,341.07 L205.43,343.63 L206.2,346.2 L205.94,348.73 L206.37,351.27 L206.2,353.8 L204.78,356.06 L203.75,358.46 L203.8,361.2 L203.38,363.74 L202.14,366.13 L202.5,368.8 L202.04,371.65 L200.61,374.02 L198.8,376.2 L198.49,378.92 L196.32,381.01 L196.2,383.8 L192.92,385.36 L190,387.5 L189.02,389.91 L188.8,392.5 L188.75,395.07 L187.94,397.5 L187.5,400 L186.01,402.28 L186.52,405.23 L185,407.5 L184.82,410.22 L184.11,412.76 L182.5,415"/>
<path d="M206.2,328.5 L208.78,328.76 L211.27,329.47 L213.8,330 L216.72,330.25 L219.61,330.71 L222.5,331.2 L224.95,330.24 L227.59,329.87 L230,328.8 L232.87,326.53 L236.2,325 L238.66,326.06 L241.54,325.83 L243.8,327.5 L246.6,326.32 L249.52,325.55 L252.5,325 L254.9,323.96 L257.57,324.63 L260,323.8 L263.02,324.27 L265.73,325.9 L268.8,326.2 L271.58,327.45 L274.67,326.63 L277.5,327.5 L280.12,327.76 L282.59,327.18 L285,326.2 L287.4,327.35 L290.28,327.13 L292.5,328.8 L295.63,328.07 L298.8,327.5 L301.01,326.01 L302.7,323.88 L305,322.5 L307.15,319.65 L310,317.5 L313.23,318.43 L316.2,320 L319.57,321.53 L322.5,323.8 L324.65,322.92 L326.2,321.2 L329.25,319.74 L332.5,318.8 L335.38,318.23 L338.34,318.19 L341.2,317.5 L344.25,317.87 L347.01,316.26 L350,316.2 L352.68,313.65 L356.2,312.5 L355.8,309.05 L353.8,306.2 L353.05,302.87 L351.2,300 L354.07,297.87 L356.2,295 L359.15,293.77 L361.88,292.03 L365,291.2 L367.22,289.41 L369.84,288.42 L372.5,287.5 L374.95,284.95 L377.5,282.5 L380.25,279.98 L383.8,278.8 L387.44,279.75 L391.2,280 L393.94,281.96 L397.49,282.43 L400,284.8 L402.23,286.59 L405.01,287.25 L407.5,288.5 L410.27,291 L413.8,292.2 L416.92,294.06 L420,296 L422.12,298.88 L425,301 L428.12,301.52 L431.2,302.2 L434.16,302 L437.07,301.4 L440,301 L442.77,301.02 L445.2,302.06 L447.5,303.5 L450.27,304.77 L452.59,306.69 L455,308.5 L457.63,309.97 L459.96,311.89 L462.5,313.5 L464.87,314.99 L467.58,315.81 L470,317.2 L472.18,320.18 L473.8,323.5"/>
<path d="M345.5,174.3 L345.86,177.65 L346.3,181 L346.26,183.86 L346.48,186.68 L347.8,189.3 L347.04,191.86 L345.16,193.9 L344.5,196.5 L346.47,199.48 L349,202 L351.29,204.95 L354,207.5 L356.93,207.48 L359.73,208.01 L362.3,209.5 L364.82,209.56 L367.25,210.47 L369.8,210.3 L370.98,213.55 L371.3,217 L372.05,220.4 L372.8,223.8 L371.82,226.2 L369.72,227.96 L369,230.5 L371.52,233.39 L375,235 L376.64,236.79 L378,238.8 L375.25,239.55 L373.5,241.8 L372.8,245.5 L370.5,248.5 L373.5,251.5 L376.78,251.91 L379.5,253.8 L380.95,256.73 L383.3,259 L384.24,261.62 L386.3,263.5 L386.52,266.58 L385.5,269.5 L384.78,272.2 L384.8,275 L383.8,278.8"/>
<path d="M378,238.8 L379.99,237.03 L382.68,236.52 L384.8,235 L387.28,233.63 L390,232.8 L392.64,232.77 L395.07,233.78 L397.6,234.3 L400.95,233.89 L404.3,233.5 L406.12,231.23 L408,229 L411.8,228.3 L412.97,230.52 L414,232.8 L416.59,231.98 L419.3,232 L421.3,230.13 L423.8,229 L426.35,229.74 L429,229.8 L431.5,231.4 L433.6,233.5 L435.59,235.64 L438,237.3 L440.77,239.26 L444,240.3 L446.69,242.48 L450,243.5 L452.25,245.09 L455.15,244.71 L457.5,246 L459.93,245.13 L462.57,245.62 L465,244.8 L467.01,242.38 L468.8,239.8 L471.62,237.44 L475,236 L478.03,234.26 L480.7,232 L481.9,228.2 L486.3,228.9 L488.34,230.1 L490.7,230"/>
<path d="M255,238.6 L257.83,237.73 L260.6,236.74 L263.1,235.1 L265.61,234.13 L268.1,233.1 L271.16,231.62 L274.2,230.1 L277.15,229.16 L280.2,228.6 L282.84,229.24 L285.3,228.1 L288,229.27 L290.3,231.1 L292.75,232.65 L294.3,235.1 L297.07,236.23 L299.4,238.1 L301.23,239.62 L302.4,241.7 L301.9,244.7 L300.09,246.45 L297.9,247.7 L298.57,249.9 L298.4,252.2 L296.67,253.88 L294.3,254.3 L291.27,254.36 L288.3,253.8 L285.85,254.88 L283.2,255.3 L280.64,256.44 L278.2,257.8 L274.2,259.3 L273.41,261.58 L271.7,263.3 L268.9,264.07 L266.1,263.3 L264.84,260.95 L264.6,258.3 L262.6,254.3 L261.42,251.72 L260.1,249.2 L258.67,246.79 L257.6,244.2 L256.68,241.22 L255,238.6"/>
<path d="M322.5,323.8 L322.44,327.05 L323.8,330 L323.7,333.36 L323.79,336.7 L324.5,340 L323.13,342.31 L323.58,345.11 L322.5,347.5 L322.26,351.25 L322.5,355 L323.72,358.47 L326.2,361.2 L328.37,363.43 L331.19,364.64 L333.8,366.2 L336.94,366.92 L339.66,368.59 L342.5,370 L343.64,373.03 L346.2,375 L348.96,375.15 L351.37,376.36 L353.8,377.5 L357.5,378.31 L361.2,377.5 L364.37,378.06 L367.5,378.8 L368.83,381.1 L369.48,383.63 L370,386.2 L371.6,388.44 L374.32,389.3 L376.2,391.2 L379.15,391.5 L382.03,392.29 L385,392.5 L387.99,393.69 L391.2,393.8 L391.86,396.9 L392.5,400 L391.42,402.54 L389.06,404.05 L387.5,406.2 L387.03,409.66 L385,412.5 L387.93,413.76 L390,416.2 L391.75,418.45 L392.5,421.2 L390.95,423.17 L390,425.5"/>
<path d="M392.5,421.2 L395.54,420.01 L398.8,420 L402.03,419.07 L405,417.5 L407.61,416.48 L409.98,415 L412.5,413.8 L414.77,412.08 L417.74,411.74 L420,410 L422.34,407.84 L423.8,405 L426.71,404.19 L429.6,403.34 L432.5,402.5 L435.12,402.71 L437.73,402.97 L440,404.5 L442.91,404.04 L445.88,404.19 L448.8,403.8 L450.83,401.49 L454.03,400.9 L456.2,398.8 L457.72,396.01 L460,393.8 L459.92,391.19 L459.99,388.6 L461.2,386.2 L462.91,384.03 L463.34,381.41 L463.8,378.8 L463.57,376.05 L462.26,373.67 L461.2,371.2 L461.28,368.46 L462.64,366.16 L463.8,363.8 L465.9,360.9 L468,358 L469.42,354.62 L472,352 L473.69,348.7 L473.8,345 L473.8,341 L472.71,338.58 L471.48,336.2 L471.2,333.5 L473.56,331.35 L475,328.5 L473.74,326.16 L473.8,323.5"/>
<path d="M473.8,323.5 L476.31,321.49 L477.5,318.5 L479.89,317.43 L482.35,316.79 L485,317.2 L487.77,317.25 L489.83,315.06 L492.5,314.8 L494.78,313.29 L497.59,313.32 L500,312.2 L503.37,312.36 L506.58,313.76 L510,313.5 L512.58,313.46 L514.86,315.18 L517.5,314.8"/>
<path d="M518.3,222 L520.2,225.1 L518.43,227.3 L517.32,229.78 L517,232.6 L515.42,235.56 L515.2,238.9 L514.96,241.94 L513.3,244.5 L515.2,247 L512.58,249.38 L510.2,252 L506.4,254 L506.9,256.72 L507.08,259.47 L507.5,262.2 L508.97,264.95 L509.7,267.92 L510,271 L509.7,273.52 L509.7,276.08 L508.8,278.5 L510.11,280.96 L512.03,283.12 L512.5,286 L514.75,287.6 L515.54,290.37 L517.5,292.2 L518.88,295.3 L520,298.5 L519.58,301.4 L518.78,304.24 L518.8,307.2 L518.62,309.78 L518.72,312.4 L517.5,314.8 L514.72,316.04 L512.41,318 L510,319.8 L511.2,323.5 L513.57,325 L516.2,326 L516.42,328.54 L516.23,331.14 L517.5,333.5 L517.31,336.87 L516.17,340.11 L516.2,343.5 L519.47,345.15 L522.5,347.2 L523.46,344.34 L524.44,341.48 L525,338.5 L526.63,335.8 L528.8,333.5 L531.25,335.56 L532.5,338.5 L534.39,340.72 L536.2,343 L537.16,345.45 L538.8,347.5 L540.75,349.71 L543,351.63 L545,353.8 L547.97,355.87 L551.2,357.5 L553.03,360.43 L553.8,363.8 L553.94,366.37 L553.25,368.79 L552.5,371.2 L552.79,373.91 L554.69,376.1 L555,378.8 L556.87,380.99 L557.5,383.8 L556.23,386.73 L553.8,388.8 L556.32,390.81 L557.5,393.8 L559.48,395.61 L560.73,398.02 L562.5,400 L564.24,402.12 L566.89,403.09 L568.8,405 L571.99,406.03 L575,407.5 L578.3,409.02 L581.2,411.2 L584.42,411.51 L587.5,412.5 L589.91,413.43 L592.48,413.45 L595,413.8 L597.27,416.67 L598.8,420 L601.02,421.62 L601.74,424.45 L603.8,426.2 L606,429"/>
<path d="M553.8,363.8 L556.81,363.3 L559.78,362.65 L562.5,361.2 L564.75,359.45 L567.9,359.54 L570,357.5 L570.3,354.35 L571.96,351.58 L572.5,348.5 L573.09,345.67 L575,343.5 L576.65,345.14 L578.8,346 L582.13,346.67 L585,348.5 L587.62,348.02 L590.13,347.22 L592.5,346 L595.27,344.73 L597.44,342.58 L600,341 L603.21,340.27 L606.23,339.13 L608.8,337 L610.99,335.3 L613.75,334.89 L616.2,333.8 L618.51,332.21 L619.87,329.87 L621.2,327.5 L622.38,324.95 L623.42,322.34 L625,320"/>
<path d="M575.5,210 L574.32,212.46 L572.09,214.31 L570.84,216.74 L570,219.4 L568.03,221.7 L565.4,223.2 L563.06,224.36 L561.44,226.35 L559.7,228.2 L559.53,231.31 L557.8,233.9 L556.59,236.27 L557.43,238.97 L556.6,241.4 L555.62,244.35 L554,247 L552.62,249.91 L551,252.7 L551.14,255.22 L551.6,257.7 L552.86,260.04 L552.8,262.7 L551.87,265.17 L551.6,267.8 L551.2,272.2 L554.12,274.05 L557.5,274.8 L559.59,276.48 L561.37,278.55 L563.8,279.8 L566.2,280.81 L568.55,281.96 L571.2,282.2 L573.66,283.42 L575.56,285.33 L577.5,287.2 L580.42,288.01 L583.5,288.25 L586.2,289.8 L588.6,291.04 L591.23,290.84 L593.8,291 L596.78,289.79 L600,290 L601.81,291.62 L603.8,293 L604.8,296.46 L605.5,300 L607.62,302.19 L608.8,305 L611.73,307.07 L613.8,310 L616.31,311.61 L619.17,312.69 L621.2,315 L623.01,317.57 L625,320 L626.88,321.52 L628.8,323 L632.01,322.84 L635,324 L638.27,325.01 L641.75,323.84 L645,325 L647.85,324.02 L650.94,324.77 L653.8,323.8 L657.08,324.53 L660,326.2 L662.56,327.34 L664.95,328.83 L667.5,330 L669.68,331.98 L671.71,334.13 L673.8,336.2 L675.64,338.11 L677.5,340 L680.01,341.22 L682.5,342.5"/>
</g></g>
<path d="M42.5,200 L45.26,199.92 L48.02,199.84 L50.7,200.7 L51.72,202.99 L53.2,205 L56.24,206.96 L58.2,210 L58.79,213.21 L59.5,216.4 L60.68,219.48 L61.4,222.7 L63.9,223.9 L63.31,221.34 L64.31,218.9 L64.5,216.4 L64.67,213.6 L66.4,211.4 L68.2,208.78 L70.2,206.3 L70.76,203.45 L72.7,201.3 L74.68,198.28 L77.7,196.3 L80.1,193.7 L82.7,191.3 L86.07,190.6 L89,188.8 L91.83,187.7 L94.79,187.44 L97.8,187.5 L100.5,187.5 L103.62,185.85 L106.5,183.8 L109.3,183.55 L111.55,181.93 L114,180.8 L117.09,182.37 L119.57,185.01 L123,186 L126.66,186.38 L129.8,188.3 L132.08,185.88 L132.95,182.57 L135,180 L135.13,176.51 L136.5,173.3 L140.25,172.61 L144,173.3 L146.53,173.19 L148.95,174.33 L151.5,174 L152.1,171.15 L153.89,168.81 L155.1,166.22 L156,163.5 L158.45,162.29 L161.1,161.58 L163.6,160.5 L164.87,157.92 L166.71,155.87 L168.76,154 L171,152.3 L173.42,155.13 L176.3,157.5 L178.91,156.62 L181.6,156 L183.8,152.5 L184.73,149.47 L186.41,146.76 L187.5,143.8 L190.81,142.85 L194.08,141.72 L197.5,141.2 L200.58,141.24 L203.56,140.59 L206.43,139.31 L209.52,139.41 L212.5,138.8 L215.4,138.85 L218.3,139.48 L221.2,138.8 L222.46,136.4 L222.57,133.61 L223.8,131.2 L227.13,130.28 L229.26,127.27 L232.5,126.2 L235.82,125.65 L239.22,125.86 L242.5,125 L244.72,123.19 L247.49,122.48 L249.63,120.51 L252.5,120 L255.17,118.59 L257.76,117.06 L260,115 L263.35,114.73 L266.75,114.87 L270,113.8 L271.66,111.66 L273.8,110 L272.79,107.9 L271.2,106.2 L268.79,105.24 L266.31,104.46 L263.8,103.8 L261.84,101.35 L260,98.8 L261.41,96.46 L262.43,93.98 L262.5,91.2 L266.2,90 L269.15,90.79 L271.99,91.95 L275,92.5 L277.77,92.66 L280,94.3 L283.8,92.8 L286,96.5 L288.47,98.32 L291.3,99.5 L291.8,102.22 L292.8,104.8 L290.82,107.48 L290.5,110.8 L293.06,111.11 L295.46,109.88 L298,110 L297.85,113.02 L297.3,116 L295.87,118.53 L295,121.3 L297.82,121.5 L300.03,123.24 L302.5,124.3 L306.03,124.47 L309.3,125.8 L312.3,124.3 L313.2,121.31 L315.3,119 L318.48,117.48 L322,117.5 L324.83,119.1 L328,119.8 L330.04,118.42 L332.5,118.3 L332.45,114.85 L333.3,111.5 L333.34,108.98 L334.43,106.56 L334,104 L331.87,102.17 L331,99.5 L332.84,97.58 L334.8,95.8 L337.4,95.89 L340,95.8 L341.87,97.87 L344.5,98.8 L346.76,97.75 L348.3,95.8 L349.29,98.06 L351.3,99.5 L353.9,99.1 L356.5,99.5 L358.52,102.06 L360.3,104.8 L360.79,107.28 L360.08,109.86 L361,112.3 L360.98,115.04 L363.13,117.12 L363.3,119.8 L366.24,121.18 L368.5,123.5 L369.73,126.14 L370.5,128.91 L370.8,131.8 L374.5,129.5 L377.51,130.22 L380.5,131 L383.44,132.3 L386.5,133.3 L388.9,133.13 L391.2,133.8 L394.12,134.23 L396.33,136.14 L398.8,137.5 L402.16,137.7 L405.45,138.49 L408.8,138.8 L411.12,138.17 L412.5,136.2 L414.05,139.52 L416.2,142.5 L417.84,144.62 L419.37,146.83 L421.2,148.8 L423.84,148.23 L426.01,146.31 L428.8,146.2 L430.07,149.13 L432.5,151.2 L432.44,153.82 L432.7,156.38 L433.8,158.8 L436.55,157.98 L438.8,156.2 L440.51,154.21 L442.5,152.5 L445.86,152.75 L449.26,152.66 L452.5,153.8 L454.52,152.07 L456.2,150 L459.24,149.62 L462.17,150.03 L465,151.2 L467.87,153.33 L470,156.2 L472.45,157.39 L474.31,159.31 L476.2,161.2 L475.75,164.64 L473.8,167.5 L472.84,170.16 L470.96,172.09 L468.8,173.8 L466.01,176.27 L462.5,177.5 L460.5,179.85 L458.75,182.45 L455.5,183.55 L453.8,186.2 L455.47,189.45 L457.5,192.5 L460.97,193.8 L463.8,196.2 L466.99,196.41 L470,197.5 L472.28,199.82 L474.32,202.34 L476.2,205 L478.82,207.06 L479.92,210.4 L482.5,212.5 L483.97,215.23 L486.74,216.66 L488.8,218.8 L489.63,221.69 L491.12,224.4 L491.2,227.5 L493.81,229.09 L495.6,231.5 L497.5,233.8 L500.49,235.3 L503,237.5 L505.39,236.2 L507,234 L508.44,231.46 L510.16,229.16 L512.7,227.6 L515.14,226.31 L516.47,223.9 L518.3,222 L520.24,220.27 L522.8,219.74 L525,218.5 L527.12,216.49 L530,216 L534,217 L534.55,214.76 L535,212.5 L533.8,210 L533.29,206.57 L531.2,203.8 L529.91,200.32 L527.5,197.5 L525.95,194.17 L523.8,191.2 L521.6,189.66 L520,187.5 L521.31,185.5 L523,183.8 L526.6,183.81 L530,185 L532.74,186.72 L535.84,187.59 L538.8,188.8 L541.57,190.08 L544.68,190.1 L547.5,191.2 L550.23,192.02 L552.25,194.23 L555,195 L557.05,197.25 L559.67,198.54 L562.5,199.5 L564.82,200.87 L567.5,201.2 L567.59,204.71 L568.8,208 L572.03,209.41 L575.5,210 L577.88,210.12 L580,211.2 L583.34,210.43 L586.61,209.35 L590,208.8 L592.77,206.72 L596.2,206.2 L597.7,203.53 L600.12,201.78 L602.5,200 L605.19,200.86 L607.5,202.5 L608,205.92 L608.37,209.37 L610,212.5 L609.49,215.67 L608.8,218.8 L605.56,219.31 L602.59,220.46 L600,222.5 L597.13,223.02 L595,225 L595.84,228.05 L596.2,231.2 L600,232.5 L603.29,233.28 L606.2,235 L608.29,237.69 L610.01,240.6 L611.2,243.8 L614.07,245.45 L616.13,248.11 L618.8,250 L621.63,251.92 L625,252.5 L627.77,251.82 L629.98,250 L632.5,248.8 L635.13,247.74 L637.5,246.2 L637.37,243.56 L636.2,241.2 L640,239.5 L642.99,241.08 L645,243.8 L645.32,246.37 L646.2,248.8 L648.62,249.93 L651.19,250.1 L653.8,250 L656.03,252.26 L658.8,253.8 L661.33,256.27 L663.8,258.8 L666.44,258.84 L668.8,260 L671.2,257 L674.07,257.85 L677.1,257.37 L680,258 L682.29,259.56 L684.67,260.91 L687.5,261.2 L690.6,260.17 L693.8,259.5 L694.57,262.82 L695,266.2 L695.58,268.54 L697.5,270 L696.46,272.4 L696.2,275 L698,277.23 L699.33,279.7 L700,282.5 L701.83,285.42 L702.5,288.8 L704.6,291.07 L707.19,292.59 L710,293.8 L712.69,293.99 L714.82,295.96 L717.5,296.2 L718.6,299.79 L721.2,302.5 L721.35,305.05 L722.33,307.45 L722.5,310 L723.67,313.13 L725,316.2 L722.9,318.63 L720,320 L717.78,321.66 L714.73,320.86 L712.5,322.5 L708.75,322.23 L705,322.5 L701.89,323.1 L698.8,323.8 L695.96,324.3 L693.8,326.2 L693.27,329.37 L692.5,332.5 L689.53,334.53 L687.5,337.5 L685.04,338.71 L683.62,341.24 L681.2,342.5 L681.04,345.73 L680,348.8 L678.17,350.76 L676.16,352.5 L673.8,353.8 L670.81,354.89 L668.1,356.67 L665,357.5 L663.02,359.28 L661.28,361.35 L658.8,362.5 L656.86,365.1 L656.51,368.41 L655,371.2 L654.67,374.14 L654.05,377.05 L653.8,380 L652.65,383.24 L653.08,386.69 L652.5,390 L650.21,392.08 L649.16,395 L647.5,397.5 L644.97,398.68 L642.48,399.93 L640,401.2 L637.24,403.3 L633.8,403.8 L633.47,406.29 L633.5,408.83 L632.5,411.2 L631.53,413.86 L628.74,415.07 L627.5,417.5 L625.26,419.26 L622.52,420.01 L620,421.2 L617.32,422.11 L614.95,423.64 L612.5,425 L609.51,427.17 L606.2,428.8 L604.11,430.44 L602,432.06 L600,433.8 L597.34,434.11 L595.22,436.08 L592.5,436.2 L590.02,435.69 L587.43,435.85 L585,435 L582.56,435.8 L579.92,435.32 L577.5,436.2 L575.33,434.64 L573.21,433.01 L571.25,431.17 L568.8,430 L566.38,428.87 L563.72,429.3 L561.2,428.8 L558,430.48 L555,432.5 L552.93,434.16 L550.85,435.82 L548.8,437.5 L547.61,439.89 L547.15,442.53 L546.2,445 L544.3,447.46 L542.5,450 L540.68,453.12 L538.8,456.2 L537.18,458.48 L536.73,461.15 L536.2,463.8 L533.81,465.9 L532.5,468.8 L532.43,465.65 L530.42,463.05 L530,460 L527.58,457.42 L525,455 L522.28,453.4 L519.3,452.74 L516.2,452.5 L513.62,452.71 L511.15,452.3 L508.8,451.2 L507.41,448.75 L506.2,446.2 L503.5,446.13 L501.12,445.04 L498.8,443.8 L496.02,443.66 L493.83,441.78 L491.2,441.2 L487.58,440.1 L483.8,440 L481.58,441.62 L480.95,444.52 L478.8,446.2 L476.46,447.56 L474.42,449.31 L472.5,451.2 L469.68,451.84 L466.85,450.51 L464.02,450.36 L461.2,451.2 L458.35,451.4 L455.69,449.79 L452.78,450.48 L450,450 L447.49,448.77 L445.39,446.71 L442.77,445.71 L440,445 L437.22,444.28 L434.94,442.58 L432.5,441.2 L430.42,439.51 L428.12,438.09 L426.2,436.2 L422.82,434.82 L420,432.5 L416.71,433.26 L413.28,432.97 L410,433.8 L407.22,433.75 L405.03,431.97 L402.5,431.2 L399.3,429.44 L396.2,427.5 L392.92,427.7 L390,426.2 L387.32,424.59 L385,422.5 L382.6,421.07 L380.01,420.01 L377.5,418.8 L374.65,418.23 L372.89,415.49 L370,415 L367.66,413.67 L365.27,412.53 L362.5,412.5 L361.15,414.85 L358.8,416.2 L355.99,417.47 L353.17,418.73 L350,418.8 L348.53,415.39 L346.2,412.5 L342.95,411.63 L340,410 L337.03,411.25 L333.8,411.2 L333.07,414.17 L331.36,416.86 L331.2,420 L330.63,423.33 L331.63,426.67 L331.2,430 L331.43,433.41 L329.65,436.58 L330,440 L329.47,442.48 L328.84,444.94 L328.8,447.5 L326.04,447.37 L323.48,446.59 L321.2,445 L318.62,445.51 L316.31,446.79 L313.8,447.5 L313.21,450.94 L311.2,453.8 L308.92,455.37 L307.68,457.78 L306.2,460 L304.88,462.33 L305.31,465.23 L303.8,467.5 L302.32,470.22 L302.81,473.52 L301.2,476.2 L298.56,474.37 L295.37,473.81 L292.5,472.5 L289.91,471.94 L287.53,470.74 L285,470 L282.74,468.44 L279.87,468.73 L277.5,467.5 L274.6,469.37 L271.2,470 L269.1,472.03 L267.4,474.47 L265,476.2 L261.2,477.5 L258.02,476.91 L255.16,475.59 L252.5,473.8 L248.96,473.72 L245.7,472.59 L242.5,471.2 L239.47,470.28 L236.56,469.06 L233.8,467.5 L232.3,464.11 L230,461.2 L228.02,458.94 L226.67,456.27 L225,453.8 L222.57,452.58 L220.69,450.68 L218.8,448.8 L215.79,447.86 L213.49,445.84 L211.2,443.8 L208.08,441.92 L206.2,438.8 L205.39,435.5 L203.8,432.5 L200.7,430.57 L197.5,428.8 L194.6,426.7 L192.5,423.8 L190.61,420.67 L188.8,417.5 L185.94,415.52 L182.5,415 L181.16,417.39 L178.8,418.8 L177.97,416.58 L176.2,415 L173.65,413.03 L171.26,410.87 L168.8,408.8 L168.07,406 L166.09,403.82 L165,401.2 L162.94,398.73 L161.13,396.05 L158.8,393.8 L156.1,391.16 L152.5,390 L150.22,388.56 L148.67,386.2 L146.2,385 L144.86,381.88 L143.08,379.01 L141.2,376.2 L139.4,374.24 L137.65,372.24 L136.2,370 L133.66,367.31 L132.5,363.8 L129.99,362.66 L127.82,361.07 L126.2,358.8 L122.98,357.51 L119.42,357.49 L116.2,356.2 L113.21,355.85 L110.37,355.06 L107.99,352.84 L105,352.5 L103.64,349.46 L101.2,347.2 L99.77,344.94 L97.56,343.31 L96.2,341 L94.55,338.71 L93.4,336.16 L92.5,333.5 L91.2,330.63 L89.47,327.94 L88.8,324.8 L87.84,322.3 L86.66,319.87 L86.2,317.2 L85.71,314.36 L84.49,311.89 L82.5,309.8 L81.75,306.84 L80.39,304.06 L80,301 L78.46,298.68 L75.65,297.93 L73.8,296 L71.68,293.03 L70,289.8 L71.43,287.07 L73.98,285.45 L76.2,283.5 L77.02,280.99 L77.94,278.5 L78.8,276 L80.05,273.6 L82.14,271.87 L83.8,269.8 L83.8,266 L81.27,264.73 L80,262.2 L78.98,258.57 L78.8,254.8 L75.86,253.75 L73.63,251.62 L71.2,249.8 L68.4,249.17 L66.4,247.1 L63.45,246.28 L61.4,244 L58.94,241.73 L57,239 L54.69,236.1 L53.2,232.7 L51.3,229.6 L51.8,226.77 L52,223.9 L50.75,221.38 L49.4,218.9 L48.22,216.44 L46.3,214.5 L44.56,213.01 L42.5,212 L41.3,209.5 L43.18,207.2 L44.4,204.5 L44.08,201.98Z" fill="none" stroke="#120a04" stroke-width="1.8" stroke-linejoin="round"/>
<g clip-path="url(#ci)">
<path d="M531.2,102.5 L530.1,100.58 L528.8,98.8 L531.36,98.38 L533.8,97.5 L536.43,96.51 L538.8,95 L541.03,94.58 L543.02,93.56 L545,92.5 L547.26,92.59 L549.33,91.38 L551.59,91.49 L553.8,91.2 L556.14,89.88 L558.03,87.98 L560,86.2 L562.36,85.64 L564.25,83.99 L566.59,83.4 L568.8,82.5 L571.21,81.34 L573.82,80.69 L576.33,79.79 L578.8,78.8 L581.11,77.47 L583.64,76.8 L586.2,76.2 L587.3,73.6 L588.8,71.2 L590.88,70.35 L592.5,68.8 L593.51,71.42 L595,73.8 L597.65,74.69 L600,76.2 L602.57,75.89 L605,75 L606.64,72.84 L608.8,71.2 L611.2,72.5 L612.4,75.05 L613.8,77.5 L616.01,77.99 L618.12,78.7 L620,80 L622.38,81.19 L625.09,81.39 L627.5,82.5 L630.05,82.65 L632.42,83.84 L635,83.8 L638.1,84.17 L641.2,83.8 L642.63,85.34 L643.37,87.41 L645,88.8 L644.56,90.86 L644.03,92.9 L643.8,95 L645.29,96.92 L645.89,99.36 L647.5,101.2 L649.97,101.82 L652.42,102.53 L655,102.5 L656.6,100.6 L657.36,98.2 L658.8,96.2 L661.27,95.47 L663.8,95 L665.7,96.43 L667.38,98.08 L668.8,100 L670.95,99.97 L672.97,100.6 L675,101.2 L677.54,100.09 L680,98.8 L681.08,101.18 L681.2,103.8 L683.24,104.77 L685.46,105.25 L687.5,106.2 L690.09,107.3 L692.36,109.02 L695,110 L697.21,110.93 L699.47,111.73 L701.61,112.83 L703.8,113.8 L704.86,115.97 L706.65,117.71 L707.5,120 L708.35,122.14 L710.4,123.49 L711.04,125.76 L712.5,127.5 L709.79,129.07 L707.5,131.2 L705.5,132.11 L703.24,131.78 L701.2,132.5 L699.63,134.26 L697.81,135.78 L696.2,137.5 L695.87,140.15 L695.03,142.64 L693.8,145 L692.38,147.27 L690.11,148.85 L688.8,151.2 L687.07,152.7 L684.86,153.49 L682.86,154.59 L681.2,156.2 L678.9,157.09 L677.15,158.87 L675,160 L672.55,160.97 L669.99,161.64 L667.5,162.5 L665.73,163.88 L664.63,165.93 L662.6,167.05 L661.2,168.8 L659.74,166.92 L658.12,165.21 L656.2,163.8 L653.65,163.82 L651.34,162.49 L648.8,162.5 L646.34,163.34 L643.76,163.52 L641.2,163.8 L638.77,162.83 L636.41,161.67 L633.8,161.2 L631.6,159.66 L629.86,157.53 L627.5,156.2 L625.41,155.76 L623.26,155.58 L621.2,155 L618.7,154.78 L616.22,154.52 L613.8,153.8 L611.33,154.62 L608.79,154.95 L606.2,155 L605.22,157.44 L604.13,159.85 L603.8,162.5 L601.91,164.43 L599.88,166.19 L597.5,167.5 L596.39,169.19 L596.2,171.2 L593.74,170.77 L591.25,170.49 L588.8,170 L586.75,170.66 L584.58,170.71 L582.5,171.2 L581.55,168.97 L580,167.09 L578.8,165 L576.85,163.51 L574.72,162.24 L573.36,160.03 L571.2,158.8 L569.17,156.99 L567.86,154.6 L566.2,152.5 L563.88,150.96 L561.1,150.36 L558.8,148.8 L557.3,146.97 L555.78,145.15 L553.8,143.8 L552.23,142.04 L550.67,140.26 L548.8,138.8 L546.86,137.41 L545.42,135.51 L543.8,133.8 L542.23,131.88 L541.56,129.42 L540,127.5 L538.97,125.06 L538.29,122.51 L537.5,120 L537.13,117.75 L536.16,115.73 L535,113.8 L533.62,112.15 L531.64,111.3 L530,110 L530.39,107.5 L531.03,105.04Z" fill="#f9801d"/>
<path d="M553.8,91.2 L560,85 L578.8,77.5 L588.8,73.8 L592,80 L590.5,87.5 L592.5,91.2 L578.8,96.2 L566.2,103.8 L560,106.2 L557.5,96.2Z" fill="#fba46a" stroke="#c07a4a" stroke-width="0.5"/>
<path d="M611.2,92.5 L622.5,90 L621.2,81.2 L627.5,81.2 L641.2,82.5 L646.2,88.8 L645,95 L647.5,101.2 L650,106.2 L645,108.8 L638.8,106.2 L630,107.5 L620,107.5 L615,98.8Z" fill="#fcc6a0" stroke="#c07a4a" stroke-width="0.5"/>
<path d="M620,107.5 L630,107.5 L638.8,106.2 L645,108.8 L650,106.2 L655,110 L656.2,120 L653.8,127.5 L647.5,128.8 L637.5,125 L630,123.8 L621.2,120 L618.8,113.8Z" fill="#fba46a" stroke="#c07a4a" stroke-width="0.5"/>
<path d="M655,101.2 L658.8,95 L663.8,93.8 L669.5,99.5 L666.2,111.2 L675,120 L685,130 L681.2,133.8 L668.8,140 L661.2,132.5 L653.8,127.5 L655.5,120 L655,110 L650,106.2 L647.5,101.2Z" fill="#fba46a" stroke="#c07a4a" stroke-width="0.5"/>
<path d="M668.8,100 L675,100 L680,97.5 L682,103 L695,108.8 L704.5,112.5 L715,127.5 L707.5,132.5 L701.2,132.5 L692.5,131.2 L685,130 L675,120 L666.2,111.2Z" fill="#fddfd0" stroke="#c07a4a" stroke-width="0.5"/>
<path d="M668.8,140 L681.2,133.8 L685,130 L692.5,131.2 L701.2,132.5 L697.5,137.5 L695,145 L690,152 L682,157.5 L675,161.2 L668.8,151.2 L666.2,145Z" fill="#fcc6a0" stroke="#c07a4a" stroke-width="0.5"/>
<path d="M647.5,128.8 L653.8,127.5 L656.2,127.5 L661.2,132.5 L668.8,140 L666.2,145 L668.8,151.2 L675,161.2 L667.5,163.8 L661.2,170 L656.2,165 L648.8,163.8 L641.2,165 L633.8,162.5 L627.5,156.2 L630,152.5 L638.8,147.5 L643.8,138.8Z" fill="#fcc6a0" stroke="#c07a4a" stroke-width="0.5"/>
<path d="M605,130 L613.8,126.2 L621.2,120 L630,123.8 L637.5,125 L647.5,128.8 L643.8,138.8 L638.8,147.5 L630,152.5 L627.5,156.2 L621.2,155 L620,150 L608.8,145 L606.2,137.5Z" fill="#fcc6a0" stroke="#c07a4a" stroke-width="0.5"/>
<path d="M573.8,132.5 L605,130 L606.2,137.5 L608.8,145 L620,150 L621.2,155 L613.8,155 L606.2,156.2 L604.5,163 L598,168.2 L596.8,172.5 L588.8,171.2 L582,172.5 L578,165.5 L570.5,159.5 L565.5,153 L572.5,142.5Z" fill="#fba46a" stroke="#c07a4a" stroke-width="0.5"/>
</g>
<path d="M531.2,102.5 L530.1,100.58 L528.8,98.8 L531.36,98.38 L533.8,97.5 L536.43,96.51 L538.8,95 L541.03,94.58 L543.02,93.56 L545,92.5 L547.26,92.59 L549.33,91.38 L551.59,91.49 L553.8,91.2 L556.14,89.88 L558.03,87.98 L560,86.2 L562.36,85.64 L564.25,83.99 L566.59,83.4 L568.8,82.5 L571.21,81.34 L573.82,80.69 L576.33,79.79 L578.8,78.8 L581.11,77.47 L583.64,76.8 L586.2,76.2 L587.3,73.6 L588.8,71.2 L590.88,70.35 L592.5,68.8 L593.51,71.42 L595,73.8 L597.65,74.69 L600,76.2 L602.57,75.89 L605,75 L606.64,72.84 L608.8,71.2 L611.2,72.5 L612.4,75.05 L613.8,77.5 L616.01,77.99 L618.12,78.7 L620,80 L622.38,81.19 L625.09,81.39 L627.5,82.5 L630.05,82.65 L632.42,83.84 L635,83.8 L638.1,84.17 L641.2,83.8 L642.63,85.34 L643.37,87.41 L645,88.8 L644.56,90.86 L644.03,92.9 L643.8,95 L645.29,96.92 L645.89,99.36 L647.5,101.2 L649.97,101.82 L652.42,102.53 L655,102.5 L656.6,100.6 L657.36,98.2 L658.8,96.2 L661.27,95.47 L663.8,95 L665.7,96.43 L667.38,98.08 L668.8,100 L670.95,99.97 L672.97,100.6 L675,101.2 L677.54,100.09 L680,98.8 L681.08,101.18 L681.2,103.8 L683.24,104.77 L685.46,105.25 L687.5,106.2 L690.09,107.3 L692.36,109.02 L695,110 L697.21,110.93 L699.47,111.73 L701.61,112.83 L703.8,113.8 L704.86,115.97 L706.65,117.71 L707.5,120 L708.35,122.14 L710.4,123.49 L711.04,125.76 L712.5,127.5 L709.79,129.07 L707.5,131.2 L705.5,132.11 L703.24,131.78 L701.2,132.5 L699.63,134.26 L697.81,135.78 L696.2,137.5 L695.87,140.15 L695.03,142.64 L693.8,145 L692.38,147.27 L690.11,148.85 L688.8,151.2 L687.07,152.7 L684.86,153.49 L682.86,154.59 L681.2,156.2 L678.9,157.09 L677.15,158.87 L675,160 L672.55,160.97 L669.99,161.64 L667.5,162.5 L665.73,163.88 L664.63,165.93 L662.6,167.05 L661.2,168.8 L659.74,166.92 L658.12,165.21 L656.2,163.8 L653.65,163.82 L651.34,162.49 L648.8,162.5 L646.34,163.34 L643.76,163.52 L641.2,163.8 L638.77,162.83 L636.41,161.67 L633.8,161.2 L631.6,159.66 L629.86,157.53 L627.5,156.2 L625.41,155.76 L623.26,155.58 L621.2,155 L618.7,154.78 L616.22,154.52 L613.8,153.8 L611.33,154.62 L608.79,154.95 L606.2,155 L605.22,157.44 L604.13,159.85 L603.8,162.5 L601.91,164.43 L599.88,166.19 L597.5,167.5 L596.39,169.19 L596.2,171.2 L593.74,170.77 L591.25,170.49 L588.8,170 L586.75,170.66 L584.58,170.71 L582.5,171.2 L581.55,168.97 L580,167.09 L578.8,165 L576.85,163.51 L574.72,162.24 L573.36,160.03 L571.2,158.8 L569.17,156.99 L567.86,154.6 L566.2,152.5 L563.88,150.96 L561.1,150.36 L558.8,148.8 L557.3,146.97 L555.78,145.15 L553.8,143.8 L552.23,142.04 L550.67,140.26 L548.8,138.8 L546.86,137.41 L545.42,135.51 L543.8,133.8 L542.23,131.88 L541.56,129.42 L540,127.5 L538.97,125.06 L538.29,122.51 L537.5,120 L537.13,117.75 L536.16,115.73 L535,113.8 L533.62,112.15 L531.64,111.3 L530,110 L530.39,107.5 L531.03,105.04Z" fill="none" stroke="#120a04" stroke-width="1.5" stroke-linejoin="round"/>
<path d="M587.5,108.8 L591.2,106.2 L596.2,106.2 L599.5,108.8 L598.8,112.5 L595,114.5 L590.5,113.8 L588,111.8Z" fill="none" stroke="#b8653a" stroke-width="0.7"/><path d="M553.8,91.2 L557.5,96.2 L560,105 L557.5,110 L553.8,112.5 L541.2,115 L535,115" fill="none" stroke="#c07a4a" stroke-width="0.5"/><path d="M560,106.2 L566.2,103.8 L568.8,111.2 L573.8,118.8 L572.5,128.8 L573.8,132.5" fill="none" stroke="#c07a4a" stroke-width="0.5"/><path d="M592.5,91.2 L605,87.5 L611.2,92.5 L615,98.8 L620,107.5 L618.8,113.8 L621.2,120 L613.8,126.2 L605,130" fill="none" stroke="#c07a4a" stroke-width="0.5"/><path d="M592,80 L590.5,87.5 L592.5,91.2" fill="none" stroke="#c07a4a" stroke-width="0.5"/><path d="M611.2,92.5 L622.5,90 L621.2,81.2" fill="none" stroke="#c07a4a" stroke-width="0.5"/>
<g id="legend" stroke="#a8a8a8" stroke-width="0.6">
<rect x="33" y="538.75" width="31.3" height="12.5" fill="#ffffff"/>
<rect x="64.3" y="538.75" width="31.3" height="12.5" fill="#fddfd0"/>
<rect x="95.6" y="538.75" width="31.3" height="12.5" fill="#fcc6a0"/>
<rect x="126.9" y="538.75" width="31.3" height="12.5" fill="#f9a670"/>
<rect x="158.2" y="538.75" width="31.3" height="12.5" fill="#fa7f1c"/>
<rect x="189.5" y="538.75" width="31.3" height="12.5" fill="#b0420d"/>
</g>
</svg>
<div id="leg">Podíl ekonomicky aktivních<br>ve věku 15 - 59 na obyvatelstvu<br>celkem ve věku 15 - 59 (v %)</div>
<div id="nums"><span style="left:49.3px">74</span><span style="left:80.5px">75</span><span style="left:111px">76</span><span style="left:142.5px">77</span><span style="left:173.8px">78</span></div>
<div id="info">Česká republika = 76,3
Extrémní hodnoty:
Maximum: Kralovice = 79,7
Minimum:  Nové Město na Moravě = 70,7</div>
</body></html>
